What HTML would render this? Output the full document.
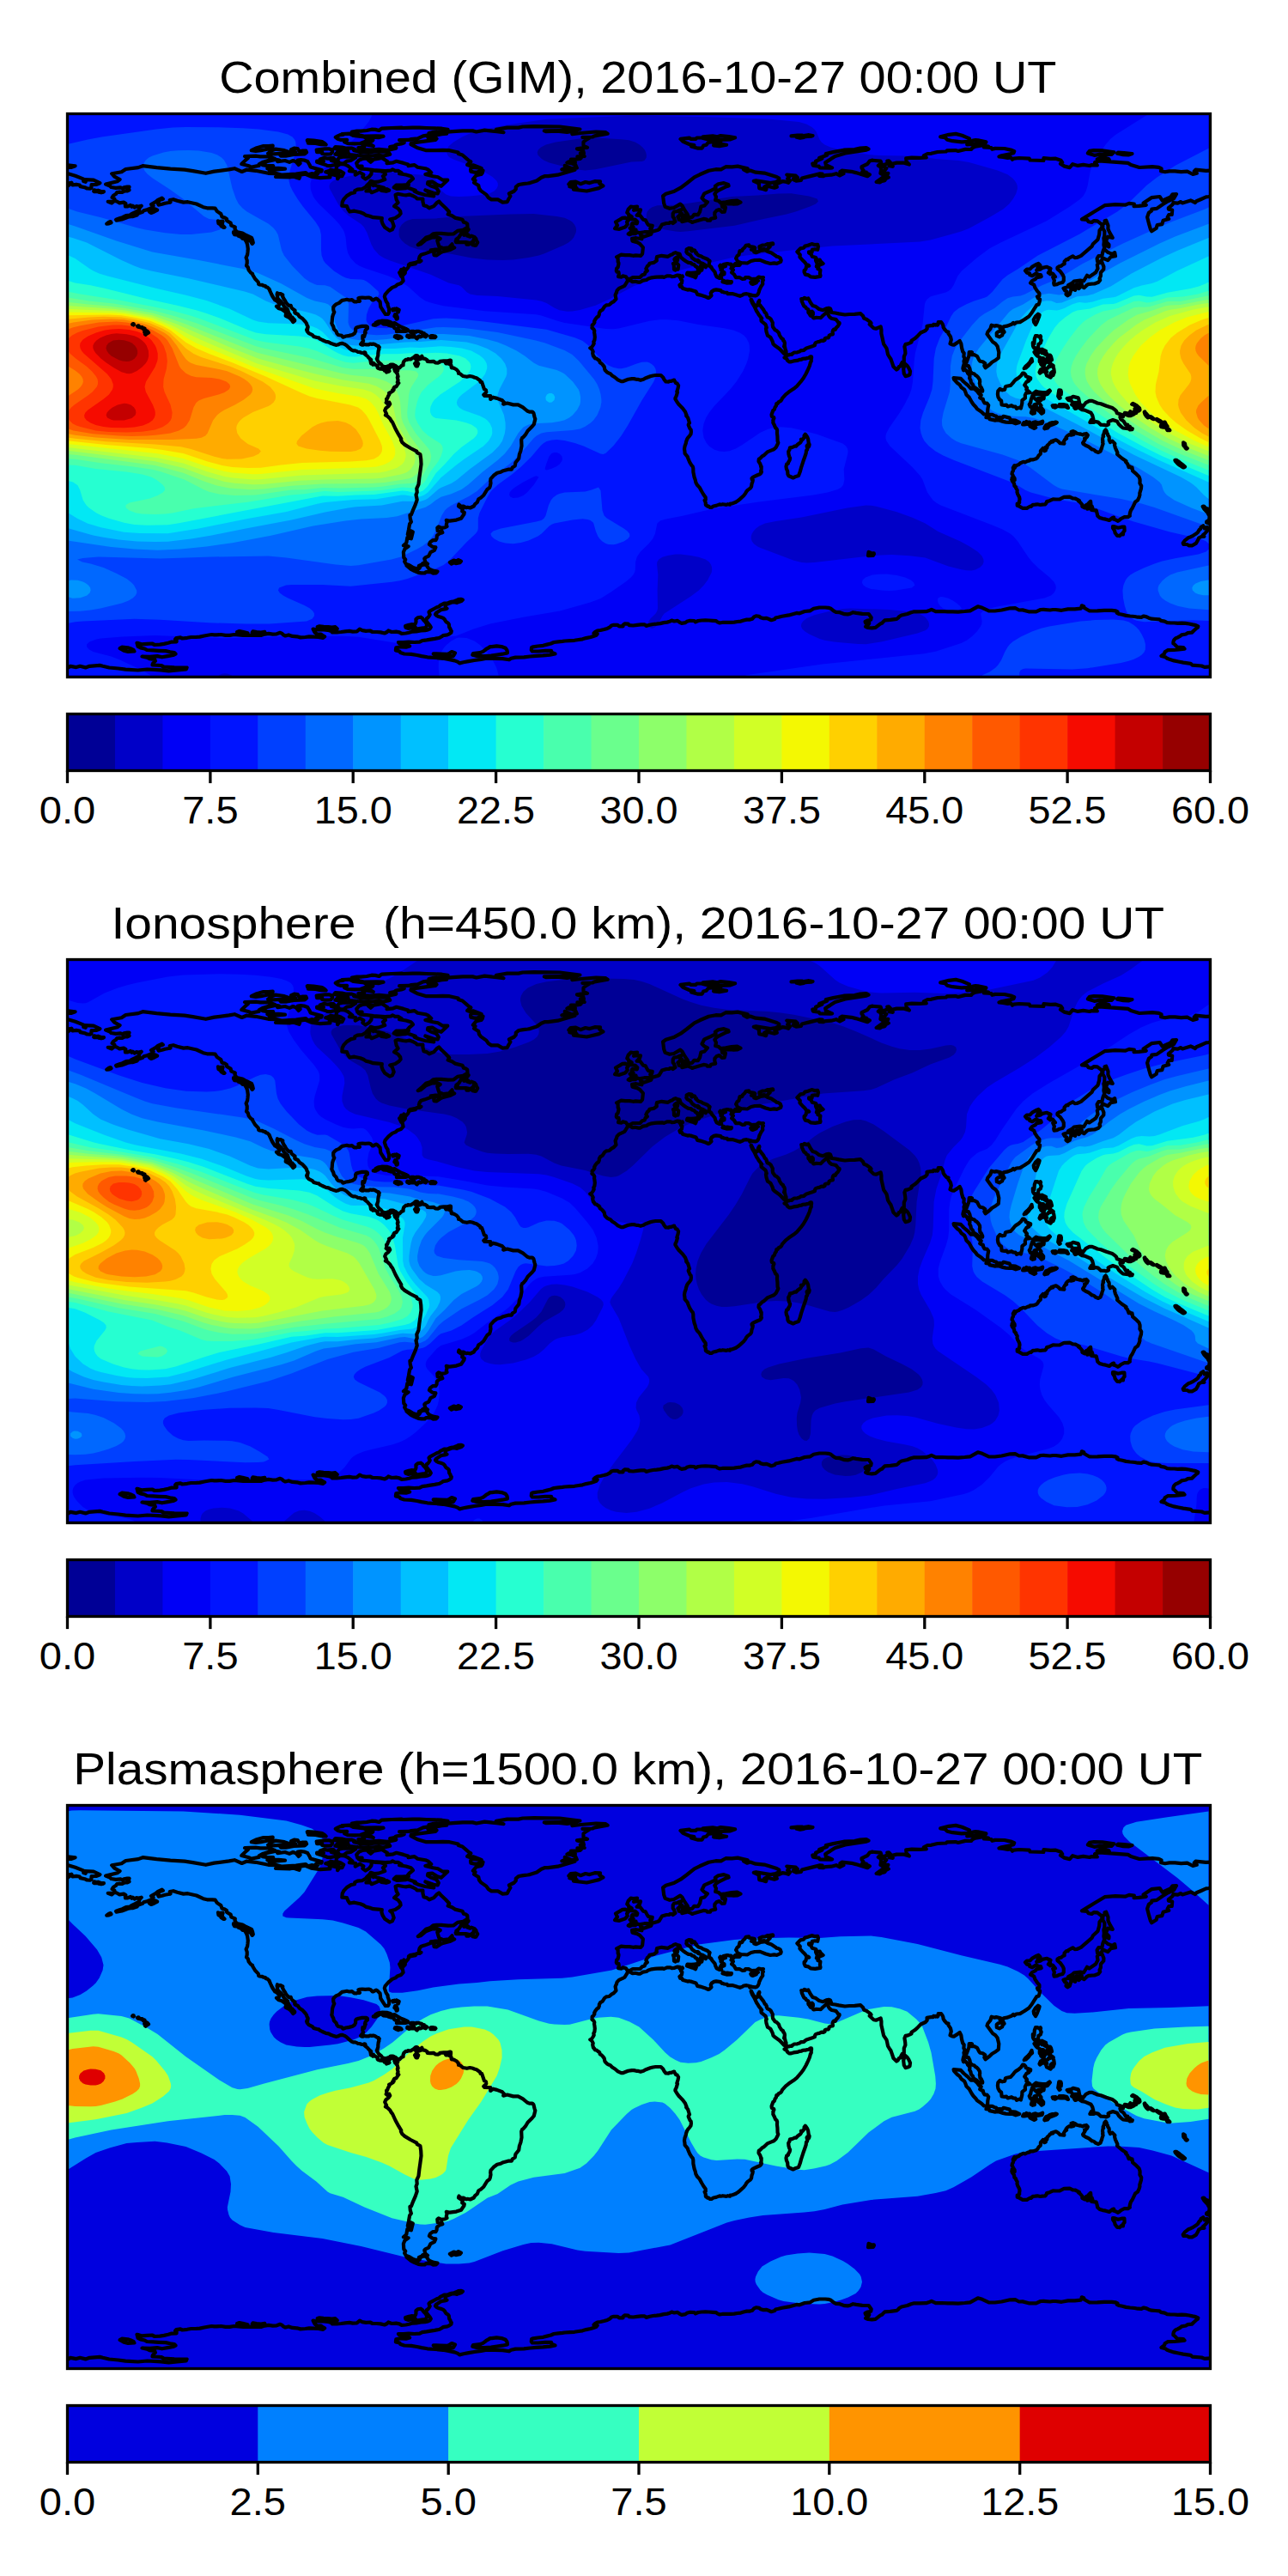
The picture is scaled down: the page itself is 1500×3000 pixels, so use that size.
<!DOCTYPE html><html><head><meta charset="utf-8"><title>GIM maps</title><style>html,body{margin:0;padding:0;background:#fff}svg{display:block}text{font-family:"Liberation Sans",sans-serif;fill:#000}</style></head><body>
<svg width="1500" height="3000" viewBox="0 0 1500 3000">
<rect width="1500" height="3000" fill="#fff"/>
<defs><clipPath id="ax"><rect x="78.5" y="132.5" width="1331.0" height="656.0"/></clipPath>
<path id="coast" d="M123.1,214.6 136.6,211.2 139.6,209.0 133.2,205.6 130.2,202.2 141.5,200.3 146.4,197.0 161.0,195.1 166.2,193.2 182.4,195.1 198.5,196.6 215.0,197.7 224.7,199.2 239.7,201.8 249.5,199.6 266.7,197.4 273.1,196.2 281.7,200.0 287.0,197.7 297.8,198.8 312.5,201.8 321.5,202.2 326.3,204.1 321.1,206.0 338.0,206.3 341.3,205.6 348.4,207.8 349.2,206.0 345.4,204.5 355.2,202.6 362.3,205.6 372.8,207.1 384.4,206.3 383.7,204.1 387.1,203.3 393.1,204.8 393.1,208.2 395.3,205.2 398.3,205.2 400.2,201.5 396.1,199.2 391.6,197.7 391.9,193.6 396.4,191.0 401.3,191.4 405.1,193.2 410.3,197.4 406.9,199.2 414.1,200.0 413.7,203.7 418.9,200.7 423.4,203.3 422.3,206.0 425.7,208.6 429.8,206.0 432.4,202.6 432.8,198.5 438.1,198.8 443.7,199.2 448.6,201.1 448.9,203.0 445.9,205.2 448.2,209.0 441.1,211.6 435.8,212.0 431.7,210.8 430.6,212.7 427.2,216.1 426.1,217.6 421.6,220.2 416.3,220.6 413.3,222.1 412.9,224.3 408.8,225.1 403.9,228.1 400.2,232.2 398.7,235.2 398.3,239.7 403.9,240.1 405.4,243.8 407.3,246.5 412.6,245.7 419.7,247.2 423.4,248.7 426.1,250.6 430.6,251.7 434.7,253.2 440.7,253.6 444.8,254.0 444.4,257.0 445.6,260.7 448.2,264.8 453.8,268.6 456.8,267.4 458.7,263.3 456.8,257.7 454.2,255.5 460.2,254.0 464.3,251.3 466.6,248.7 466.2,246.1 463.6,242.7 459.1,240.1 463.6,236.0 461.7,232.6 460.6,227.0 463.2,225.8 469.6,227.0 473.3,227.3 476.7,226.6 480.0,227.7 484.5,230.0 485.7,231.5 492.4,231.5 492.4,234.8 493.5,239.3 496.9,240.1 499.9,242.3 505.2,240.1 508.9,236.0 511.2,234.5 514.2,237.8 519.0,242.3 523.2,246.8 521.7,249.5 526.5,251.3 529.9,253.6 538.5,255.8 540.0,258.8 542.7,259.6 544.2,260.7 544.5,265.2 541.9,266.3 539.3,267.8 532.9,268.9 528.4,272.3 522.0,272.7 513.8,271.9 508.2,271.9 504.4,272.3 501.4,274.9 496.5,276.4 490.9,281.7 486.8,285.1 489.8,284.3 495.8,279.4 503.7,276.4 509.3,276.1 512.7,277.9 509.3,280.2 510.4,284.3 511.5,287.3 516.4,289.2 522.8,288.4 526.5,284.3 526.9,286.9 529.2,288.4 524.7,290.7 516.0,292.9 512.7,294.4 508.2,297.4 505.5,297.1 505.2,293.7 511.9,290.7 505.9,290.7 501.8,291.4 502.5,292.6 494.3,295.6 490.5,296.7 488.7,298.9 487.9,301.9 489.0,303.8 490.5,303.8 488.7,304.9 486.8,304.9 483.8,305.7 477.1,307.2 482.7,306.4 483.8,307.2 478.5,308.3 475.9,308.3 476.3,309.1 475.2,311.7 472.6,314.7 470.3,312.4 471.8,315.1 471.8,318.1 468.8,321.1 468.4,320.7 467.3,313.9 466.6,315.4 467.3,317.7 465.1,317.3 467.3,321.8 468.8,323.3 469.6,327.1 466.9,330.0 463.2,331.2 460.6,333.4 456.8,334.9 452.3,338.7 448.6,342.8 447.8,345.4 448.6,348.0 449.7,351.0 451.6,353.7 451.6,355.5 453.1,359.7 453.1,363.8 451.9,366.0 448.9,366.0 447.1,363.4 445.2,360.4 443.3,357.4 442.6,351.4 439.6,348.4 438.1,347.7 434.3,349.5 433.6,349.2 431.7,347.3 429.4,346.5 425.3,346.9 421.9,346.5 418.9,346.9 417.4,347.3 418.2,348.4 418.2,349.9 418.9,350.7 418.2,351.0 416.7,350.7 415.2,351.4 412.6,351.4 409.9,349.2 406.6,349.5 403.9,348.8 401.7,349.2 398.3,349.9 394.9,352.9 391.2,354.4 389.3,356.3 388.2,357.8 388.2,360.4 388.6,362.3 389.3,363.4 387.8,366.8 387.1,369.4 386.7,374.7 386.3,376.5 387.1,378.4 388.2,380.3 388.9,383.3 391.6,385.9 392.3,388.2 393.8,390.0 397.9,390.8 399.4,392.7 402.8,391.5 405.4,391.2 408.4,390.4 410.7,389.7 412.9,388.2 414.1,385.9 414.1,382.9 414.8,381.8 417.4,380.7 421.6,379.9 424.6,379.9 426.8,379.9 427.9,380.7 427.9,382.5 425.7,384.4 424.9,387.0 425.7,387.4 424.9,389.3 424.2,391.9 423.1,391.2 422.3,391.2 422.3,394.5 423.1,397.1 421.9,398.6 420.1,400.9 421.2,401.6 423.1,401.6 423.8,400.9 425.7,401.3 427.6,401.3 429.4,401.3 430.9,400.5 433.2,400.9 434.7,400.5 436.9,401.3 439.2,402.8 440.7,403.1 441.8,404.3 441.1,405.4 441.4,406.9 440.7,408.4 440.3,411.8 440.3,414.0 439.6,415.9 439.6,417.0 438.8,417.8 439.6,419.6 440.7,421.5 442.2,423.0 444.1,424.5 445.2,426.0 445.2,426.8 447.1,426.8 448.2,427.5 450.1,427.1 451.6,426.4 453.8,425.6 454.9,424.5 457.2,424.5 459.1,425.3 460.6,426.0 462.1,427.1 463.2,427.9 465.4,428.3 468.1,425.6 469.6,425.3 469.6,423.0 470.3,420.8 472.6,418.9 474.8,418.9 475.2,418.1 478.2,418.5 481.2,416.6 482.7,415.5 484.2,414.0 485.7,414.0 486.8,415.1 486.0,416.3 483.8,417.8 484.9,419.3 484.9,421.5 483.0,423.4 484.5,426.4 486.0,426.4 487.2,423.4 485.7,422.3 485.7,419.3 490.2,417.8 489.8,416.3 491.3,414.8 492.4,417.4 495.0,417.8 497.7,419.6 497.7,420.8 501.0,421.1 505.2,420.8 507.0,422.3 510.0,422.6 512.3,421.5 512.3,420.8 516.8,420.4 521.3,420.4 518.3,421.5 519.4,423.4 522.4,423.4 525.4,425.3 525.8,428.3 527.7,428.3 529.2,429.0 531.8,430.5 534.0,433.1 534.0,435.0 535.5,435.0 537.8,436.9 539.3,438.0 543.8,438.8 547.2,438.0 550.9,438.8 552.4,439.5 555.0,440.3 559.2,443.3 559.5,444.8 561.0,444.8 561.8,446.8 564.0,453.4 565.9,454.1 566.3,456.8 563.3,459.8 564.4,460.9 571.2,461.2 571.2,465.0 574.2,462.7 578.7,463.9 585.0,466.3 586.9,468.4 586.2,470.6 590.7,469.5 597.8,471.4 603.4,471.4 609.0,474.4 613.9,478.5 616.5,479.6 619.9,479.6 621.4,481.1 622.5,485.6 623.3,487.9 621.8,494.2 619.9,496.5 614.6,501.7 612.0,506.2 609.4,509.2 608.3,509.6 607.2,512.2 607.5,519.4 606.4,525.0 604.9,529.1 604.2,534.0 600.4,538.8 599.7,542.6 596.7,544.5 595.9,546.6 591.8,546.7 586.2,548.2 583.2,549.7 579.0,550.8 574.9,553.8 571.5,557.6 571.2,560.2 571.5,562.5 570.8,566.2 570.0,568.1 567.4,570.0 563.3,576.7 559.9,579.7 557.3,581.2 555.8,585.0 553.2,587.2 551.7,589.5 547.5,591.5 544.5,590.8 542.7,591.2 539.3,589.5 536.7,589.8 534.4,587.6 534.0,589.5 538.9,592.8 538.2,595.4 540.8,596.9 540.4,598.8 537.0,603.7 531.4,605.6 523.9,606.7 519.8,605.9 520.5,608.2 519.8,611.2 520.5,613.1 518.3,614.2 514.2,614.9 510.8,613.4 509.3,614.6 509.7,618.3 512.3,619.4 514.2,617.9 515.3,620.2 511.9,621.3 508.9,623.6 508.5,627.3 507.4,629.2 504.0,629.2 501.0,631.4 499.9,634.1 503.7,636.7 507.4,637.4 505.9,640.8 501.4,643.1 499.2,647.6 495.8,649.1 494.3,650.6 495.4,654.7 498.0,656.6 496.2,656.6 492.8,655.8 491.3,657.3 487.9,658.8 487.2,662.2 485.7,662.5 481.2,661.0 477.1,658.4 472.6,656.6 471.1,653.9 472.2,651.7 470.3,649.4 469.9,643.1 471.4,639.3 475.6,636.3 469.9,635.2 473.3,632.2 474.4,625.8 478.9,627.3 480.8,619.4 478.2,618.3 477.1,623.2 474.8,622.4 475.9,617.2 477.1,610.1 478.9,607.8 477.8,604.1 477.4,599.9 478.9,599.6 481.2,593.6 483.8,587.6 485.7,582.0 484.5,576.3 485.7,573.3 485.3,568.8 487.5,564.0 488.3,556.8 489.4,549.0 490.5,540.7 490.2,534.7 489.4,529.1 485.7,527.2 485.3,525.7 478.2,522.0 471.4,517.9 468.4,515.2 466.9,512.2 467.3,511.1 464.3,506.2 460.6,499.5 457.2,492.0 455.7,490.1 454.2,487.5 451.6,484.9 448.9,483.4 450.1,481.9 448.2,478.1 449.3,475.5 452.3,473.2 454.2,470.6 453.4,468.7 451.9,470.6 449.7,468.9 450.4,468.0 450.1,464.5 451.2,463.9 451.9,461.6 453.4,459.2 453.1,457.6 455.3,456.8 457.6,455.3 457.2,454.2 458.7,453.9 458.5,452.0 459.4,450.8 461.3,450.4 462.8,448.1 464.3,446.1 462.8,445.1 463.6,442.9 462.8,439.5 463.6,438.6 462.8,435.4 461.3,433.5 461.9,431.6 463.2,431.9 463.2,430.5 460.2,429.4 459.4,430.3 460.2,432.4 459.4,429.0 458.7,427.9 456.8,426.8 454.9,427.1 454.2,428.3 452.7,429.4 451.9,429.4 451.6,430.1 453.4,432.2 452.3,432.8 450.1,433.5 449.3,431.3 447.8,431.6 447.1,430.1 445.6,429.8 442.9,429.4 442.3,429.6 440.3,428.8 439.6,428.0 439.9,426.6 438.8,425.6 437.3,424.9 436.2,424.5 435.8,423.4 434.7,422.6 435.1,423.8 434.3,424.7 433.6,423.8 432.1,423.4 431.7,421.5 432.1,420.2 431.3,419.6 432.1,418.9 430.6,417.8 429.1,416.3 428.3,415.1 426.4,413.6 424.6,412.1 425.7,412.1 425.3,410.6 424.2,410.3 423.8,411.2 421.6,411.0 418.6,410.0 416.7,409.9 415.6,409.1 413.7,408.4 411.4,408.4 409.6,407.6 407.7,406.1 403.2,402.0 401.3,400.9 398.3,399.8 396.3,400.1 393.3,401.5 391.2,401.8 388.6,400.9 385.9,400.1 382.6,398.3 379.6,397.9 375.4,396.0 372.1,394.3 371.3,393.4 369.1,393.0 365.3,391.9 363.8,390.2 359.7,388.2 357.8,385.9 357.1,384.0 358.2,383.7 357.8,382.5 358.6,381.4 358.6,380.3 357.4,378.4 357.1,376.9 355.9,375.0 352.6,371.3 348.8,368.7 346.9,366.0 343.6,364.5 343.2,363.8 343.6,361.5 341.7,360.4 339.5,358.5 338.7,355.9 336.5,355.9 334.2,353.7 332.7,351.8 332.3,350.7 330.5,348.0 329.0,345.0 329.3,343.5 326.3,342.0 325.2,342.4 323.0,341.3 322.6,342.8 323.0,344.7 323.3,347.3 324.8,349.0 327.5,351.4 328.2,352.5 329.3,354.0 330.5,356.3 331.6,357.4 332.7,358.5 335.0,360.4 336.1,364.2 337.2,365.7 338.3,367.5 338.3,369.4 340.2,369.4 341.7,371.3 343.2,372.8 343.2,373.5 341.3,375.0 339.8,372.8 337.6,370.5 334.6,368.7 332.7,367.9 333.1,364.9 332.3,363.0 330.5,361.9 327.8,360.0 326.7,359.7 324.1,358.9 322.0,356.7 323.7,356.7 325.2,355.2 325.2,353.3 322.6,350.7 320.3,349.5 318.8,347.3 317.3,345.0 315.8,342.0 314.3,338.7 313.6,336.8 311.3,334.5 309.5,334.2 309.1,333.0 306.8,332.7 305.7,331.9 302.0,331.5 301.2,330.8 300.8,328.6 297.1,324.8 294.1,319.7 294.1,318.8 292.2,317.7 289.6,314.5 288.8,311.3 287.0,309.4 287.7,306.4 287.7,303.1 286.6,300.1 288.1,296.7 288.5,293.3 288.8,289.9 288.1,284.7 287.0,281.7 285.8,279.8 286.2,279.1 291.8,280.6 293.7,283.9 294.8,282.8 294.1,279.8 293.0,276.8 285.1,273.1 282.5,271.6 275.7,270.1 273.5,266.7 273.8,264.4 269.3,262.6 268.6,259.6 264.1,257.0 264.1,255.1 261.8,253.6 258.5,252.5 257.3,249.1 252.8,246.1 250.6,242.7 247.2,242.3 241.2,242.3 236.7,241.2 228.8,237.5 218.7,235.2 213.6,235.6 206.4,233.7 201.9,232.2 197.7,233.0 198.5,235.6 196.2,236.0 192.1,236.7 188.7,237.8 184.6,238.6 183.9,236.7 185.7,233.0 189.9,231.8 188.7,230.7 183.9,233.0 181.2,235.2 176.0,238.0 178.6,239.7 175.2,242.7 171.1,244.2 167.4,245.3 166.2,246.8 160.6,248.7 159.5,250.6 155.0,252.1 152.4,252.1 149.0,252.8 145.2,254.3 141.9,255.5 135.5,256.6 135.1,255.8 139.2,254.3 142.6,253.2 146.7,251.0 151.2,250.6 153.1,249.1 158.4,246.8 159.1,246.1 162.1,244.6 162.5,242.0 164.7,239.7 160.2,240.8 159.1,240.1 156.9,241.6 154.6,239.7 153.5,240.8 152.0,239.0 148.2,240.5 146.0,240.5 145.8,238.2 146.4,237.1 144.1,235.6 139.2,236.3 135.9,234.5 133.4,233.7 133.4,231.5 130.6,230.0 132.1,227.7 135.1,225.8 136.2,224.0 139.4,223.6 141.9,224.0 144.9,222.5 147.9,222.5 150.5,221.3 149.9,219.8 147.9,219.1 150.5,217.6 148.2,217.6 144.3,218.3 143.1,219.5 140.4,218.3 134.9,218.9 129.5,218.0 128.0,216.5 123.1,214.6ZM521.3,209.7 513.8,216.8 509.3,215.3 503.3,211.6 498.4,212.0 498.0,214.2 501.8,216.5 507.0,218.3 508.5,219.1 510.8,222.8 509.7,225.5 504.8,224.7 495.4,221.5 500.7,224.7 504.8,227.0 505.2,228.5 495.0,227.0 487.2,224.7 482.7,222.8 483.8,221.7 478.2,219.8 472.9,218.0 472.9,219.1 462.1,219.8 458.7,218.3 461.3,215.7 468.4,215.7 475.9,215.2 474.8,213.8 476.3,212.0 481.0,208.2 480.0,206.7 478.5,205.2 472.9,203.5 465.1,202.2 467.7,201.3 463.6,198.8 460.2,198.8 457.2,197.4 455.3,198.5 448.6,199.2 435.1,198.2 426.8,197.0 420.8,196.6 417.8,195.1 421.6,193.6 416.3,193.6 415.2,189.9 418.2,186.5 421.9,185.0 431.7,183.9 428.7,186.1 431.7,188.7 435.2,185.7 444.8,184.0 451.2,188.0 450.6,190.2 457.9,189.3 461.7,187.8 469.9,189.9 475.2,191.4 475.6,193.2 482.7,192.1 486.4,194.7 495.4,196.2 498.8,197.7 502.2,201.1 495.4,203.0 504.4,205.2 510.0,206.3 515.7,209.7 521.3,209.7ZM496.5,175.2 485.7,171.9 478.5,168.1 478.9,166.6 507.0,162.9 508.5,161.4 498.4,160.2 501.4,158.7 514.5,156.1 520.2,155.7 518.3,153.9 527.3,153.1 538.9,152.4 550.5,152.4 554.7,153.5 564.4,151.6 573.4,152.7 578.7,153.1 586.5,154.2 577.5,152.4 577.9,150.9 590.7,148.6 603.8,148.6 608.7,147.5 621.8,147.1 651.8,147.5 675.4,150.5 668.3,152.0 654.0,152.0 633.8,152.4 635.6,153.1 648.8,152.7 660.4,153.9 667.5,152.7 670.5,154.2 666.4,156.1 676.1,155.0 694.1,153.5 705.4,154.2 707.6,155.7 692.3,158.4 690.0,159.5 678.4,159.9 687.0,160.2 682.5,162.9 679.5,165.3 679.5,169.6 684.0,171.9 678.4,172.2 672.0,173.4 679.1,175.2 679.9,178.6 675.8,178.6 680.6,182.0 672.4,182.4 676.9,183.9 675.4,185.0 670.1,185.7 664.9,185.7 669.8,188.4 669.8,189.9 662.3,188.4 660.4,189.5 665.6,190.2 670.5,192.5 671.8,195.5 665.3,196.2 662.3,194.7 657.8,192.9 658.9,195.3 654.4,197.4 664.5,197.4 669.6,197.7 659.6,200.7 649.5,203.7 638.3,205.2 634.1,205.2 630.4,206.7 625.1,210.5 617.1,213.1 614.6,213.5 609.4,214.2 604.2,215.0 600.8,217.6 600.8,220.2 598.9,222.5 592.9,225.5 594.4,228.5 592.5,231.5 590.7,235.2 585.4,235.6 579.8,232.4 572.3,232.4 568.9,230.3 566.3,226.6 559.9,222.1 558.0,219.5 557.3,216.1 552.0,212.7 553.5,210.1 550.9,208.6 554.7,204.1 560.3,203.0 561.8,201.3 562.5,198.5 558.4,199.6 556.2,200.3 552.8,200.7 548.3,199.6 548.1,197.0 549.4,195.1 553.2,195.1 560.7,195.9 554.3,193.6 550.9,192.3 547.2,192.9 544.2,191.9 548.3,188.4 546.0,187.0 543.0,184.4 538.5,180.5 533.7,179.0 533.7,177.5 523.5,175.2 515.7,174.9 505.5,175.2 496.5,175.2ZM699.0,211.4 698.3,213.8 702.4,216.5 697.5,219.1 686.6,221.7 683.3,222.5 667.9,220.7 671.6,219.1 663.4,217.2 670.1,216.5 670.1,215.3 662.3,214.6 664.7,212.0 670.5,211.6 676.1,214.2 681.8,212.0 686.6,213.1 692.6,211.2 699.0,211.4ZM460.2,366.0 461.3,366.0 462.8,369.4 462.8,371.3 461.7,371.7 460.9,369.4 459.4,368.3 460.2,366.0ZM412.9,167.4 405.1,167.0 401.1,165.3 401.3,164.0 404.1,162.9 397.2,162.9 393.1,161.7 390.8,159.9 393.4,158.4 396.1,157.2 399.8,156.9 398.3,156.1 406.9,155.7 411.8,158.0 418.0,158.7 424.2,159.5 427.2,161.7 431.7,163.2 426.4,164.4 419.7,167.0 412.9,167.4ZM281.3,191.0 282.8,189.5 285.5,186.9 288.8,184.2 285.1,182.0 297.8,181.6 303.1,182.4 312.5,182.4 316.2,183.5 320.3,185.0 315.5,186.1 306.5,188.7 301.6,191.4 301.6,192.9 291.8,194.7 290.0,193.2 281.3,191.0ZM387.1,174.5 387.1,176.7 385.2,179.4 379.2,179.7 375.1,179.0 375.2,177.1 369.1,177.1 368.7,174.5 378.4,173.4 383.7,173.4 387.1,174.5ZM400.2,180.9 394.9,180.5 390.4,179.7 392.3,177.9 397.8,176.9 401.0,178.2 402.4,179.4 400.2,180.9ZM444.8,373.5 451.2,373.9 454.6,375.0 456.1,376.5 459.8,376.2 464.3,379.2 467.7,381.0 469.9,381.8 472.6,382.9 475.2,384.4 474.8,385.3 472.2,385.9 469.9,385.9 467.3,385.7 461.9,386.1 464.3,384.0 462.8,382.9 460.6,382.9 459.1,381.8 458.3,379.5 456.1,379.7 452.7,378.8 451.6,378.0 446.7,377.3 445.2,376.5 446.7,375.8 442.9,375.4 440.3,377.3 438.8,377.5 438.2,378.4 436.6,378.8 434.8,378.4 436.9,377.3 437.7,375.8 439.2,375.0 441.1,374.3 444.1,373.9 444.8,373.5ZM454.2,179.7 451.6,180.5 446.1,181.6 441.4,180.9 430.6,181.6 422.9,181.6 416.7,181.2 406.9,180.1 405.4,177.9 405.1,176.0 401.3,174.5 393.4,174.1 389.3,172.8 390.6,171.1 398.3,171.5 402.4,172.6 409.9,172.6 413.3,173.9 412.2,175.2 416.7,176.2 418.9,177.1 424.2,177.1 429.4,177.5 435.4,176.7 443.1,176.4 449.3,176.7 453.1,178.2 454.2,179.7ZM521.5,150.9 521.3,151.6 512.3,153.5 503.1,154.2 499.5,155.0 507.8,155.0 499.2,157.2 492.8,158.4 486.4,161.4 478.9,162.1 476.3,162.9 465.1,163.2 470.3,163.6 467.7,164.4 470.7,166.2 467.3,167.4 461.3,168.5 459.4,170.0 454.2,171.1 454.9,171.9 461.3,171.9 461.3,172.6 451.2,174.9 441.4,173.9 430.6,174.5 424.9,174.1 417.8,173.7 417.4,172.0 424.2,171.1 422.3,168.5 424.7,168.1 434.8,170.0 429.8,167.4 423.6,166.6 426.6,165.3 433.2,164.4 434.3,163.1 429.1,161.7 427.6,159.7 437.7,159.9 440.7,160.2 446.5,158.7 438.1,158.4 424.9,158.7 418.2,157.2 415.2,155.7 410.7,154.8 409.9,153.5 415.6,152.7 420.1,152.7 427.2,152.0 432.8,150.7 437.3,150.9 441.4,152.0 444.4,149.7 449.3,149.4 456.1,149.0 467.5,148.6 469.6,149.0 480.4,148.6 488.3,148.6 496.5,149.0 506.7,149.4 514.5,149.7 521.5,150.9ZM523.9,654.9 528.4,652.6 531.6,653.6 533.9,652.1 536.9,653.7 535.7,655.1 530.7,656.2 529.0,654.9 525.8,656.6 523.9,654.9ZM461.7,359.3 464.7,360.8 463.9,363.4 463.2,363.0 463.6,361.2 461.7,360.8 457.6,361.5 457.2,360.0 459.1,359.7 461.5,360.0 461.7,359.3ZM254.0,257.3 255.8,258.1 259.6,257.7 258.5,261.8 261.5,264.8 260.0,264.8 257.7,263.3 256.6,261.5 254.5,260.3 254.0,257.3ZM170.4,388.9 169.6,389.7 168.9,389.1 168.9,388.2 168.2,386.7 169.0,385.6 168.9,384.8 169.0,384.5 171.5,385.6 173.0,387.4 170.4,388.9ZM478.9,385.9 481.2,385.9 484.5,386.7 484.9,385.9 487.9,385.9 490.2,387.0 491.1,386.8 491.7,388.2 493.9,388.2 493.7,389.3 495.4,389.4 497.3,390.8 495.8,392.3 493.9,391.5 491.1,391.5 490.5,392.1 489.0,392.3 488.3,391.5 487.2,391.9 485.7,394.5 484.5,393.8 484.5,392.9 481.9,392.3 478.0,392.3 476.3,392.9 474.2,391.9 474.4,390.6 478.0,391.2 480.8,391.5 482.3,390.4 480.4,388.9 480.4,387.4 478.2,387.0 478.9,385.9ZM462.4,391.2 465.1,391.5 466.9,392.3 467.7,393.4 465.1,393.4 463.9,394.2 461.7,393.4 459.8,392.3 460.2,391.3 461.7,391.2 462.4,391.2ZM154.2,377.8 154.4,377.5 155.0,377.1 155.7,377.3 155.9,378.1 155.5,378.5 154.2,377.8ZM394.9,201.5 392.3,202.6 387.4,201.5 384.4,201.8 379.2,200.3 382.6,199.2 385.2,197.7 388.9,198.5 391.2,199.2 392.3,200.0 394.9,201.5ZM179.0,243.2 181.2,243.5 183.1,244.6 179.7,246.5 176.0,248.0 174.1,246.8 173.4,245.0 176.7,243.8 179.0,243.2ZM167.5,382.2 168.5,382.7 168.2,383.1 167.0,383.4 166.2,382.5 165.9,382.2 165.9,381.8 167.5,382.2ZM312.1,178.6 317.3,174.9 320.7,173.7 331.2,175.2 338.0,177.5 344.3,177.5 339.1,174.1 342.5,172.6 346.6,173.0 347.7,174.9 349.2,176.4 352.6,175.6 356.3,175.7 357.1,177.5 354.8,179.4 342.1,179.9 332.7,181.6 327.1,181.6 326.3,180.5 334.2,178.6 317.3,179.4 312.1,178.6ZM163.8,381.0 165.6,381.1 165.5,381.5 163.6,381.4 163.8,381.0ZM544.9,268.2 543.0,270.4 540.4,273.8 543.0,272.5 545.3,273.4 544.2,274.6 547.5,275.7 549.0,274.6 552.8,276.1 551.7,278.7 554.3,277.9 554.7,279.8 556.2,282.4 554.3,285.6 552.8,285.8 550.2,285.1 551.1,282.1 550.2,281.5 545.7,284.7 543.4,284.7 546.0,282.8 542.5,282.1 538.5,282.1 531.0,282.1 530.7,280.9 532.9,279.6 531.4,278.7 534.4,276.4 538.2,270.4 540.8,268.2 543.8,267.1 545.7,267.1 544.9,268.2ZM132.5,234.5 128.0,234.8 125.7,234.8 130.2,236.5 132.5,234.5ZM160.0,379.8 161.4,379.3 162.3,380.6 162.1,380.8 160.6,380.7 160.0,379.8ZM299.0,172.2 306.8,170.0 312.5,170.0 317.7,169.6 317.3,172.2 314.3,173.7 311.0,173.7 303.8,175.2 297.8,176.0 292.8,175.2 299.0,172.2ZM504.8,391.2 506.7,391.5 507.4,392.3 506.5,393.1 503.7,393.1 501.4,393.2 501.3,391.5 501.8,391.2 504.8,391.2ZM391.6,188.4 390.8,191.7 384.4,193.2 381.1,192.9 378.4,191.7 369.1,188.7 369.1,187.6 376.9,188.0 372.8,185.4 376.9,183.9 381.4,184.6 388.2,183.9 389.3,185.0 385.8,186.9 391.6,188.4ZM365.3,163.6 375.4,165.1 378.1,167.0 379.6,168.5 373.6,168.1 367.4,167.0 358.9,166.6 362.7,165.5 358.2,164.7 357.8,163.2 365.3,163.6ZM414.1,183.5 408.4,187.0 403.9,187.6 399.8,190.6 395.7,190.2 393.4,187.2 393.4,185.4 395.3,183.5 399.1,182.7 406.9,182.7 414.1,183.5ZM433.9,214.2 434.8,216.1 436.6,215.3 438.8,216.5 442.9,217.6 447.4,218.7 447.6,220.7 450.4,220.2 453.1,221.7 449.7,222.8 444.1,221.9 441.8,220.2 438.1,222.1 432.8,224.2 431.3,222.1 426.4,222.5 429.6,220.6 430.2,217.6 431.3,214.2 433.9,214.2ZM109.6,221.3 111.9,222.1 114.1,221.7 117.1,222.8 120.9,223.2 120.5,223.6 117.9,224.3 114.9,223.6 113.4,222.8 110.2,223.2 109.2,222.8 109.6,221.3ZM496.2,657.7 497.5,659.5 499.4,662.4 504.2,664.6 509.5,665.5 507.8,667.4 504.2,667.6 502.3,666.3 500.1,666.2 496.1,666.2 494.7,667.4 490.9,667.4 487.2,666.9 482.4,664.8 478.6,662.8 473.5,658.6 476.5,659.4 481.8,661.8 486.8,663.2 488.7,661.4 489.9,658.9 493.4,657.3 496.2,657.7ZM522.0,420.0 524.3,419.6 525.0,419.8 525.0,422.6 521.7,423.0 521.1,422.6 522.2,421.5 522.0,420.0ZM128.7,258.1 129.5,259.2 126.9,260.3 124.2,260.7 127.2,258.5 128.7,258.1ZM272.0,270.1 281.7,271.9 285.1,274.9 288.8,276.4 290.3,278.7 288.5,279.1 282.1,277.6 281.0,276.1 277.8,274.9 277.2,273.8 273.1,273.1 272.0,271.2 272.0,270.1ZM358.6,203.3 356.1,201.1 351.8,201.5 344.7,202.6 328.6,203.7 318.1,201.1 313.6,198.1 332.0,196.6 324.5,195.9 311.3,196.2 318.1,193.2 312.1,193.2 305.7,192.1 308.7,189.5 311.3,188.0 321.5,185.7 325.2,186.5 323.3,188.2 332.0,187.0 337.0,188.9 341.3,187.0 344.7,188.4 347.7,191.9 349.6,190.2 346.9,186.5 350.3,186.1 354.1,186.5 358.2,188.0 360.4,191.7 361.6,194.4 367.9,196.2 374.7,198.1 374.3,199.6 368.3,200.0 370.6,201.5 369.4,202.8 362.7,202.2 358.6,203.3ZM78.5,202.0 87.7,204.8 97.5,208.6 97.2,210.9 99.7,211.8 98.9,209.1 109.0,209.7 116.4,213.2 112.6,214.8 106.5,215.2 106.4,218.9 104.9,219.7 101.4,219.5 98.6,218.2 93.6,217.1 92.7,215.5 89.0,214.9 84.6,215.4 82.6,214.1 83.4,212.7 78.9,213.6 80.6,215.3 78.5,216.9M733.1,325.2 730.1,324.1 729.0,322.2 725.3,321.4 723.8,322.6 720.0,322.2 720.8,319.2 720.4,316.9 718.5,316.6 717.8,315.4 718.1,312.8 719.6,311.3 720.4,307.6 720.4,306.1 719.7,304.9 719.6,300.8 718.1,299.3 723.4,296.7 728.1,297.1 733.1,297.1 737.3,297.8 740.3,297.4 746.2,297.8 748.1,295.6 748.9,288.1 745.1,283.9 742.1,282.1 736.5,280.6 736.1,277.9 741.0,277.2 747.4,278.3 746.2,273.8 749.6,275.7 758.2,272.7 759.4,269.7 765.7,268.0 767.6,267.1 771.0,261.5 776.2,260.0 779.2,260.0 780.0,259.2 783.0,259.2 783.7,260.0 786.4,258.1 785.6,256.6 785.2,254.3 783.7,252.5 783.7,248.7 784.5,247.6 785.2,246.5 788.6,246.1 790.1,245.3 793.1,244.2 792.7,246.1 791.8,247.2 792.4,248.3 794.2,248.7 793.5,250.2 792.4,249.8 789.4,252.5 790.5,254.3 790.5,255.8 794.4,256.6 794.2,258.1 798.2,257.3 800.2,256.2 804.4,257.7 806.2,259.0 808.9,257.9 814.9,256.2 819.4,254.9 823.1,255.5 823.5,256.6 827.1,256.6 828.0,254.7 833.2,253.6 832.3,250.5 832.4,247.6 834.4,245.3 837.7,244.0 840.7,246.8 843.7,246.7 844.5,243.8 844.9,241.6 843.6,242.1 841.1,240.8 840.7,238.6 845.6,237.5 850.5,237.1 854.4,237.6 858.3,237.5 862.5,235.6 858.6,233.7 851.8,234.1 845.2,235.4 839.2,236.1 837.0,234.1 833.2,233.0 834.0,229.2 832.3,225.8 834.0,223.6 837.4,221.3 846.0,217.2 848.6,216.5 848.2,215.0 843.0,213.1 836.6,214.2 832.9,216.7 833.6,219.1 827.6,222.1 820.3,225.3 817.5,230.7 820.1,233.3 823.9,235.3 820.4,239.5 816.4,240.5 815.0,246.7 812.9,250.2 808.4,249.8 806.2,252.8 801.9,253.0 800.6,249.5 797.6,245.3 794.7,239.9 792.2,237.6 784.8,242.0 779.8,242.8 774.6,240.9 773.2,236.9 772.1,228.2 775.5,225.8 785.4,222.7 792.7,218.7 799.7,213.5 808.7,206.3 814.9,203.3 825.4,198.8 833.6,197.2 839.6,197.4 845.2,194.2 852.4,194.4 859.1,193.6 870.7,196.4 865.9,197.4 870.0,199.7 873.7,198.5 880.1,200.7 890.2,201.6 904.5,206.0 907.3,207.6 907.5,210.1 903.3,212.0 897.3,213.1 880.5,210.2 877.8,210.8 883.8,213.5 884.2,219.1 889.1,220.2 892.1,221.2 892.5,219.5 890.2,217.7 892.8,216.5 901.8,218.7 904.8,217.7 902.4,215.0 911.2,211.2 914.6,211.6 918.2,212.8 920.2,210.2 917.2,208.0 919.1,205.8 916.3,203.5 926.8,204.7 928.8,206.7 924.2,207.2 924.2,209.3 927.2,210.6 933.0,209.8 933.9,207.5 941.6,205.6 954.7,202.4 957.7,202.6 954.0,204.8 958.5,205.2 961.1,204.1 968.2,203.7 973.8,202.2 978.0,204.5 982.4,202.2 978.4,200.0 980.4,198.7 991.5,199.8 996.7,201.1 1010.2,205.2 1012.8,203.3 1008.9,201.3 1008.9,200.5 1004.2,200.2 1005.6,198.5 1003.5,195.5 1003.5,194.2 1010.2,191.0 1012.8,187.5 1015.4,186.7 1025.6,187.6 1026.3,189.9 1022.8,192.9 1025.1,194.0 1026.3,196.6 1025.4,201.8 1029.6,204.1 1028.0,206.6 1020.7,212.0 1024.8,212.3 1026.3,211.2 1030.4,210.1 1031.6,208.2 1034.8,206.5 1032.6,204.5 1034.3,201.8 1030.2,201.6 1029.3,199.6 1032.3,195.9 1027.4,192.7 1034.2,190.2 1033.3,187.6 1035.2,187.4 1037.1,189.5 1035.7,193.2 1039.8,193.8 1037.9,191.1 1044.3,189.6 1052.0,189.5 1058.9,191.5 1055.6,188.4 1055.2,184.4 1061.8,183.7 1070.8,183.9 1078.8,183.5 1075.8,181.4 1080.2,179.0 1084.4,178.8 1091.8,177.0 1101.7,176.5 1102.8,175.4 1112.8,175.1 1115.9,176.0 1124.2,173.9 1131.2,174.0 1132.2,172.4 1135.8,170.7 1144.6,169.2 1151.1,170.5 1145.9,171.5 1154.4,172.0 1155.4,173.8 1158.9,172.9 1169.8,173.0 1178.2,174.9 1181.2,176.2 1180.4,178.2 1176.3,179.2 1166.4,181.2 1163.5,182.4 1168.2,183.0 1173.7,183.9 1177.1,183.2 1179.0,185.7 1180.7,184.6 1186.7,184.0 1198.7,184.6 1199.6,186.5 1215.3,187.0 1215.5,184.2 1223.5,184.8 1229.5,184.7 1235.5,186.7 1237.2,189.1 1235.0,190.7 1239.7,193.6 1245.7,195.1 1249.2,191.2 1255.3,192.9 1261.6,191.9 1268.9,193.0 1271.5,192.1 1277.8,192.5 1275.1,189.1 1280.0,187.4 1313.9,189.9 1317.1,192.1 1326.9,195.0 1342.0,194.2 1349.5,194.8 1352.6,196.4 1352.1,199.2 1356.8,200.2 1361.8,199.4 1368.4,199.3 1375.5,200.1 1382.7,199.7 1389.2,203.0 1393.8,201.8 1390.8,199.4 1392.4,197.7 1404.4,198.8 1412.1,198.5 1423.0,200.3 1428.2,202.0M1428.2,216.9 1423.4,218.6 1418.5,218.3 1421.9,220.3 1424.1,223.4 1425.9,224.4 1426.3,226.0 1425.4,227.0 1418.3,226.1 1407.9,229.0 1404.6,229.4 1398.8,232.0 1393.4,234.3 1392.0,236.0 1386.6,233.4 1376.9,236.4 1375.2,235.0 1371.6,236.6 1366.5,236.1 1365.3,238.5 1360.8,242.2 1360.9,243.7 1365.2,244.5 1364.7,250.0 1361.2,250.1 1359.6,253.2 1361.2,254.9 1354.6,256.8 1353.3,261.1 1347.7,262.0 1346.6,265.8 1341.2,269.3 1339.8,266.7 1338.2,261.2 1336.1,252.9 1337.9,247.7 1341.1,245.5 1341.3,243.7 1347.1,242.9 1353.8,238.2 1360.3,234.3 1367.0,231.3 1370.0,226.0 1365.5,226.3 1363.2,229.4 1353.7,233.6 1350.6,229.0 1341.0,230.2 1331.6,236.5 1334.7,238.8 1326.3,239.8 1320.5,240.2 1320.8,237.5 1314.9,236.9 1310.3,238.7 1298.9,238.1 1286.5,239.2 1274.4,246.5 1260.0,255.3 1265.9,255.8 1267.7,258.2 1271.4,259.0 1273.8,257.1 1277.9,257.4 1283.3,261.5 1283.4,264.7 1280.5,268.4 1280.2,272.9 1278.5,278.9 1272.8,284.3 1271.6,286.9 1266.5,291.3 1261.5,295.6 1259.0,297.8 1254.1,300.0 1251.7,300.1 1249.3,298.3 1244.3,301.0 1243.7,302.2 1242.3,302.0 1240.7,303.3 1239.5,304.6 1239.7,307.3 1237.7,308.1 1235.6,309.8 1233.2,310.4 1231.5,311.5 1231.4,313.1 1232.5,314.1 1234.6,315.8 1237.8,320.2 1238.8,322.6 1238.8,326.9 1237.4,329.0 1234.0,329.7 1231.0,331.2 1227.6,331.6 1227.2,329.6 1227.9,326.8 1226.2,322.8 1229.0,322.2 1226.4,319.0 1224.6,318.3 1223.1,319.3 1222.0,318.2 1220.9,317.6 1222.0,316.0 1222.9,315.5 1222.5,314.9 1223.5,312.8 1221.1,311.8 1219.3,310.8 1214.0,311.9 1211.3,313.7 1207.2,314.7 1209.3,313.0 1208.5,311.5 1211.4,309.0 1209.4,307.0 1206.2,308.3 1201.9,310.9 1199.6,313.4 1195.9,313.6 1194.0,315.3 1196.0,317.8 1199.1,318.4 1199.2,320.1 1202.2,321.2 1206.4,318.5 1209.7,320.0 1212.1,320.1 1212.7,322.1 1207.4,323.1 1205.7,325.1 1202.0,327.0 1200.1,329.6 1204.2,331.7 1205.6,335.4 1207.9,338.8 1210.4,341.7 1210.4,344.5 1208.0,345.5 1208.9,347.5 1211.1,348.7 1210.6,351.7 1209.6,354.7 1207.5,355.0 1204.8,359.1 1201.8,364.0 1198.3,368.5 1193.1,372.0 1187.9,375.1 1183.6,375.5 1181.4,377.2 1180.1,376.0 1177.9,377.8 1172.7,379.7 1168.8,380.3 1167.4,384.3 1165.4,384.5 1164.4,381.7 1165.3,380.3 1160.2,379.1 1158.5,379.7 1154.7,378.7 1153.4,382.9 1150.4,386.5 1149.5,389.1 1152.4,393.0 1155.9,397.9 1159.3,400.2 1161.6,403.2 1163.3,410.2 1162.8,416.8 1159.7,419.2 1155.4,421.7 1152.3,424.8 1147.6,428.3 1146.3,425.9 1147.3,423.3 1144.5,421.2 1141.4,420.7 1139.9,418.7 1138.0,414.8 1134.6,413.1 1131.4,413.2 1132.0,410.2 1128.7,410.2 1128.4,414.4 1126.4,419.8 1125.1,423.2 1125.4,425.9 1127.8,426.0 1129.4,429.4 1130.0,432.6 1132.1,434.8 1134.4,435.2 1136.3,437.2 1137.2,437.5 1139.4,439.8 1141.0,442.3 1141.2,444.8 1140.8,446.5 1141.2,447.8 1141.4,450.0 1142.7,451.1 1144.2,454.4 1144.2,455.7 1141.5,455.9 1137.9,453.1 1133.5,450.2 1133.1,448.2 1130.9,445.7 1130.4,442.6 1129.1,440.6 1129.5,437.9 1128.6,436.3 1127.1,434.8 1126.5,433.0 1124.5,430.8 1122.7,429.1 1122.1,431.3 1121.4,429.2 1121.8,426.9 1122.9,423.3 1122.5,420.5 1123.7,417.6 1122.4,415.4 1122.7,411.3 1121.2,409.4 1120.0,404.9 1119.3,400.1 1117.7,397.0 1115.2,398.9 1110.9,401.6 1108.8,401.3 1106.5,400.4 1107.8,395.7 1107.0,392.2 1104.1,387.9 1104.5,386.5 1102.4,386.1 1099.7,383.0 1098.6,381.1 1098.4,379.2 1097.7,377.4 1096.1,375.1 1092.7,375.0 1093.0,376.6 1091.8,378.6 1090.2,377.9 1089.7,378.6 1088.6,378.1 1087.2,377.8 1086.6,379.2 1084.1,379.2 1079.5,379.9 1079.7,382.8 1077.7,385.0 1072.3,387.5 1068.1,391.9 1065.3,394.3 1061.5,396.7 1061.5,398.4 1059.7,399.4 1056.3,400.7 1054.5,400.9 1053.4,403.7 1054.2,408.6 1054.4,411.7 1052.8,415.3 1052.8,421.7 1050.8,421.9 1049.2,424.7 1050.3,425.9 1046.9,427.0 1045.6,429.6 1044.1,430.6 1040.5,427.1 1038.8,421.9 1037.4,418.1 1036.1,416.3 1034.0,412.7 1033.1,408.1 1032.5,405.7 1029.1,400.6 1027.5,393.3 1026.4,388.5 1026.4,384.0 1025.7,380.4 1020.2,382.7 1017.6,382.2 1012.7,377.7 1014.5,376.3 1013.4,374.9 1009.0,371.7 1006.2,370.8 1005.1,368.1 1002.2,365.2 995.3,365.9 989.2,366.0 984.0,366.5 976.9,365.4 972.8,364.5 968.6,364.0 967.0,359.4 965.2,358.8 962.3,359.4 958.5,361.2 953.9,360.0 950.1,357.1 946.5,356.0 944.0,352.5 941.3,347.5 939.3,348.1 936.9,346.8 935.5,348.3 933.2,348.1 934.0,349.8 933.7,350.6 934.9,353.5 936.4,356.7 938.2,357.6 938.9,358.9 941.4,360.5 941.6,362.0 941.3,363.3 941.7,364.5 942.8,365.5 943.3,366.8 943.9,367.7 943.6,365.0 944.6,363.0 945.7,362.6 946.8,363.8 946.9,366.0 946.0,368.2 946.8,369.6 947.5,370.5 950.5,369.9 953.6,370.0 955.9,370.1 958.4,367.5 961.2,365.1 963.6,362.8 964.7,361.5 965.2,361.9 964.8,363.4 964.3,364.1 964.8,367.1 966.5,369.6 968.6,371.0 971.4,371.5 973.6,372.1 975.3,374.3 976.3,375.6 977.6,376.0 977.6,376.9 976.2,379.1 975.6,380.2 974.1,381.4 972.7,383.9 970.9,383.7 970.2,384.6 969.6,386.5 970.0,389.0 969.7,389.5 967.9,389.5 965.6,390.9 965.2,392.7 964.4,393.5 962.1,393.5 960.6,394.4 960.6,395.9 958.8,397.0 956.7,396.6 954.2,397.9 952.5,398.1 949.8,399.1 949.0,400.7 949.0,402.0 945.2,403.6 939.2,405.4 935.9,408.0 934.2,408.2 933.1,408.0 930.9,409.6 928.5,410.3 925.4,410.5 924.5,410.7 923.6,411.7 922.6,412.0 922.1,412.9 920.2,412.8 919.0,413.3 916.4,413.1 915.4,410.9 915.5,408.9 914.9,407.8 914.2,405.0 913.1,403.5 913.9,403.3 913.5,401.6 913.9,400.9 913.8,399.2 913.3,397.6 912.2,396.5 911.9,395.0 909.9,393.7 907.9,390.5 906.9,387.4 904.3,384.9 902.6,384.3 900.1,380.7 899.7,378.1 899.9,375.9 897.7,371.7 895.9,370.2 893.9,369.4 892.7,367.3 892.9,366.5 891.8,364.5 890.7,363.7 889.3,360.9 887.0,357.9 885.1,355.3 883.2,355.3 883.8,353.3 884.0,351.9 884.4,350.4 884.3,349.9M863.0,306.0 870.2,306.5 874.7,304.0 879.0,303.0 885.2,302.9 891.8,305.5 897.2,307.0 901.5,306.4 904.7,306.8 909.2,304.8 909.7,303.2 908.8,300.6 906.6,299.3 904.5,298.8 903.2,297.7 898.4,294.5 894.1,293.1 890.9,290.9 893.6,290.3 896.7,287.2 894.6,285.7 900.2,284.2 900.0,283.3 896.7,283.9 893.7,284.2 891.2,285.4 887.7,285.6 884.4,287.1 884.7,289.4 886.5,290.3 890.3,290.1 889.6,291.4 885.5,292.0 880.4,294.2 878.3,293.5 879.2,291.7 875.0,290.6 875.7,289.9 879.3,288.6 878.2,287.8 872.4,286.8 872.2,285.4 868.7,285.9 867.3,288.0 864.4,290.7 864.5,291.7 862.6,292.5 861.5,292.2 860.5,296.6 858.5,298.2 857.1,300.9 858.4,303.0 858.8,304.5 862.1,305.7M928.4,293.3 932.1,289.4 935.8,288.8 937.5,286.6 941.0,285.8 945.3,284.1 948.5,285.1 952.2,284.9 952.9,287.2 952.2,290.8 949.0,290.3 945.8,290.9 945.6,293.7 942.0,293.3 942.1,294.5 944.2,295.5 945.9,298.8 950.2,300.1 950.9,301.4 950.0,302.9 950.2,303.9 951.4,306.3 951.8,303.5 954.8,302.6 955.9,304.7 958.6,307.0 955.3,308.2 951.8,307.3 950.9,310.4 953.4,310.6 952.5,313.2 955.4,314.5 954.9,318.4 955.5,321.1 955.2,321.9 949.3,322.9 944.0,322.3 941.4,320.4 937.8,319.6 936.6,316.9 936.6,315.0 937.9,314.1 938.6,312.8 939.2,309.9 942.3,309.6 941.1,308.6 939.4,308.4 937.5,305.8 935.5,303.8 931.4,299.3 931.8,296.8 928.4,293.3ZM789.2,302.5 788.0,305.4 786.3,304.6 785.4,302.1 786.2,300.7 788.6,299.3 789.2,302.5ZM842.2,326.6 844.3,327.9 847.2,327.7 850.0,328.0 851.9,328.2 851.5,329.3 846.1,329.6 841.5,328.3 842.2,326.6ZM883.0,326.8 880.5,328.4 880.7,329.1 880.8,329.4 877.0,330.9 875.2,330.4 874.3,328.9 876.4,328.7 879.6,327.9 883.0,326.8ZM846.1,168.7 837.7,170.2 831.1,169.3 833.7,168.3 831.4,167.2 839.2,166.4 840.7,167.8 846.1,168.7ZM883.2,351.4 882.5,354.3 881.4,356.2 880.5,356.9 879.3,355.7 877.6,354.0 874.9,348.6 874.6,348.9 876.1,352.9 878.4,356.7 881.2,362.5 882.6,364.5 883.8,366.7 887.2,370.8 886.4,371.5 886.6,373.9 890.9,377.3 891.6,378.0 892.8,381.7 892.0,382.4 892.5,386.2 893.9,390.7 895.3,391.6 897.4,393.0 899.6,397.4 900.6,400.8 902.6,402.6 907.8,406.2 909.8,408.3 911.9,410.5 913.1,411.8 914.9,412.9 915.8,414.1 915.7,415.6 913.5,416.5 915.2,417.5 916.4,418.2 917.1,419.8 918.8,421.3 920.6,421.4 924.2,420.4 928.3,419.9 931.6,418.8 933.4,418.6 934.8,417.8 936.9,417.7 938.1,417.7 939.8,417.1 941.8,416.7 943.6,415.4 945.0,415.4 945.1,416.5 944.7,418.6 944.8,420.6 943.9,422.0 942.9,426.0 941.1,430.2 938.8,435.0 935.6,440.5 932.4,444.7 927.9,449.8 924.2,452.8 918.6,456.6 915.1,459.4 911.0,463.9 910.1,465.9 909.3,466.8 906.6,468.3 905.7,469.9 904.3,470.1 903.8,472.8 902.6,474.3 901.8,476.8 900.3,478.0 898.6,482.7 898.8,484.8 901.2,486.1 901.4,487.1 900.3,489.4 900.5,490.5 900.3,492.3 901.6,494.6 903.2,498.4 904.5,499.2 905.1,500.9 905.0,504.6 905.4,507.9 905.6,513.7 906.3,515.6 905.1,518.3 903.7,520.9 901.3,523.2 897.9,524.6 893.6,526.4 889.4,530.4 888.0,531.1 885.3,533.8 883.8,534.6 883.5,537.3 885.3,540.2 886.0,542.4 886.1,543.5 886.7,543.3 886.6,547.0 886.0,548.7 886.9,549.4 886.3,550.9 884.7,552.3 881.7,553.5 877.1,555.6 875.5,557.0 875.8,558.5 876.8,558.8 876.5,560.7 875.5,563.5 875.1,566.6 874.1,568.3 871.6,570.2 870.8,570.7 869.2,572.6 868.2,574.5 866.1,577.2 861.8,581.1 859.2,583.3 856.3,585.1 852.4,586.5 850.5,586.7 850.0,587.7 847.7,587.2 845.9,587.9 841.8,587.2 839.6,587.7 838.0,587.4 834.1,588.9 830.9,589.5 828.6,591.0 826.9,591.0 825.3,589.7 824.1,589.6 822.4,588.0 822.3,588.5 821.8,587.5 821.8,585.3 820.6,582.7 821.8,582.1 821.7,579.2 819.2,575.7 817.3,572.5 814.6,567.6 811.9,564.8 810.4,562.0 809.6,558.4 808.6,555.7 807.4,549.9 807.3,545.4 806.8,543.4 805.4,541.8 803.4,538.7 801.5,534.2 800.7,531.9 797.6,528.2 797.4,525.4 797.0,523.0 797.5,519.7 798.8,516.3 799.0,514.7 800.2,511.3 801.1,509.8 803.3,507.3 804.5,505.6 804.9,502.9 804.7,500.7 803.6,499.4 802.6,497.1 801.7,494.9 801.9,494.1 803.0,492.6 801.9,489.0 801.1,486.5 799.2,484.1 799.6,483.4 799.0,482.2 798.0,479.4 795.0,475.4 791.1,471.6 788.7,468.5 786.4,464.7 786.5,463.4 787.3,462.2 788.2,459.5 789.0,456.7 788.3,456.2 789.6,452.0 790.1,449.0 788.6,446.5 786.9,445.9 786.1,444.2 785.2,443.6 785.2,442.6 781.3,444.0 779.9,443.8 778.5,444.6 775.5,444.5 773.5,442.2 772.2,439.5 769.6,437.0 766.8,437.0 763.5,437.0 760.4,437.5 757.3,438.3 751.5,440.5 749.4,441.8 746.0,442.8 742.7,441.8 741.0,441.8 738.3,441.1 735.9,441.1 731.5,441.8 728.9,442.8 725.2,444.2 723.5,444.2 719.6,442.4 716.2,439.5 713.0,437.5 710.5,435.0 709.5,434.8 706.8,433.3 704.8,431.3 704.2,429.9 703.7,427.1 702.0,424.9 700.6,423.4 699.6,422.9 698.7,422.2 698.3,420.5 697.7,419.7 696.6,419.1 694.7,417.5 693.0,417.3 692.2,416.2 692.2,415.7 691.1,414.9 690.8,414.1 690.2,411.2 690.7,409.6 689.1,406.6 687.3,405.3 688.9,404.6 690.8,401.9 691.7,400.0 691.3,398.0 692.4,396.1 692.8,392.6 692.4,388.9 692.0,387.1 692.3,385.2 691.4,383.4 689.4,381.8 689.6,380.2 689.7,378.4 691.2,377.4 692.4,375.5 692.1,374.2 693.5,371.6 695.5,369.2 696.8,368.6 697.8,366.4 697.9,364.4 699.2,362.1 701.7,360.7 704.1,356.9 706.1,355.4 709.5,355.0 712.5,352.4 714.4,351.4 717.5,348.3 716.6,343.6 718.0,340.4 718.5,338.4 720.9,335.9 724.7,334.2 727.5,332.6 730.0,328.7 731.1,326.5 733.9,326.5 736.2,328.1 739.7,327.8 743.6,328.6 745.2,328.7 748.8,326.6 752.9,326.0 755.2,324.4 758.9,323.3 765.2,322.6 771.4,322.3 773.3,322.9 776.8,321.4 780.9,321.4 782.4,322.2 784.9,322.0 789.0,320.5 791.7,320.9 791.5,322.9 794.7,321.5 795.0,322.2 793.1,324.0 793.1,325.7 794.4,326.7 793.9,329.9 791.4,331.8 792.1,333.8 794.1,333.9 795.0,335.7 796.5,336.3 800.8,337.6 802.4,337.2 805.6,337.9 810.5,339.5 812.3,342.9 815.6,343.6 820.9,345.2 824.9,347.0 826.7,346.1 828.5,344.3 827.7,341.5 828.8,339.6 831.5,337.9 834.1,337.4 839.2,338.1 840.5,339.8 841.9,339.8 843.1,340.5 846.8,340.9 847.7,342.2 852.7,342.1 856.3,343.1 860.0,344.2 861.8,344.8 864.7,343.6 866.2,342.5 869.5,342.2 872.2,342.7 873.2,344.6 874.1,343.3 877.1,344.2 880.0,344.4 881.9,343.5 882.9,342.2 883.7,340.3 884.4,337.4 885.0,336.5 886.4,333.4 888.3,330.8 888.0,327.8 888.9,326.2 887.5,324.5 888.9,323.1 886.7,323.4 883.5,322.6 881.0,324.7 875.3,325.1 872.2,323.2 868.2,323.0 867.3,324.6 864.7,325.0 861.1,323.0 857.0,323.1 854.8,319.4 852.1,317.3 853.9,314.3 851.5,312.6 855.7,309.0 861.4,308.8 863.0,306.0 862.1,305.7 861.4,306.6 856.9,306.8 855.3,308.0 852.2,310.0 851.0,308.2 851.1,307.5 848.8,307.4 846.8,307.0 842.3,308.0 844.9,310.1 843.0,310.7 840.9,310.7 838.9,308.8 838.2,309.6 839.0,311.8 840.9,313.6 839.5,314.4 841.6,316.1 843.5,317.2 843.5,319.3 840.1,318.4 841.1,320.3 838.7,320.6 840.2,324.0 837.7,324.0 834.6,322.4 833.2,319.4 832.6,316.9 831.1,315.2 829.2,313.0 828.9,312.0 828.3,311.7 828.2,310.9 826.1,309.6 825.8,307.8 826.1,305.3 826.6,304.1 826.0,303.5 825.2,303.2 824.2,302.0 822.5,301.3 819.0,299.9 816.8,298.5 813.4,297.4 810.3,294.7 811.0,294.4 809.3,292.8 809.2,291.5 806.8,291.0 805.7,292.6 804.6,291.3 804.7,290.0 805.6,289.6 802.6,289.0 799.6,290.4 799.8,292.2 799.3,293.3 800.6,295.2 804.1,297.1 806.0,300.2 810.1,303.2 813.1,303.2 814.0,304.0 812.9,304.8 816.3,306.1 819.1,307.3 822.3,309.2 822.7,309.9 821.9,311.3 819.9,309.5 816.6,308.9 815.0,311.3 817.7,312.7 817.3,314.7 815.8,314.9 813.7,318.1 812.2,318.4 812.2,317.3 812.9,315.2 813.8,314.5 812.3,312.3 811.1,310.4 809.6,309.9 808.5,308.3 806.1,307.6 804.5,306.1 801.7,305.9 798.8,304.2 795.3,301.7 792.8,299.6 791.6,295.9 789.7,295.4 786.7,294.2 785.0,294.7 782.8,296.4 781.3,296.7 777.9,298.8 770.5,297.8 765.0,299.0 764.6,301.3 764.8,303.5 761.2,305.9 756.4,306.8 756.1,308.0 753.8,310.1 752.3,313.1 753.8,315.3 751.6,317.0 750.8,319.4 748.0,320.2 745.3,323.0 737.0,323.0 734.6,324.4 733.1,325.2M927.7,159.7 929.9,158.5 921.5,158.4 928.8,157.7 934.5,157.7 935.3,158.7 937.5,157.8 941.0,157.2 946.5,158.0 945.1,158.6 940.1,159.0 936.7,159.3 936.2,159.9 931.8,160.6 927.7,159.7ZM742.1,240.7 738.1,244.8 741.9,244.2 746.0,244.3 745.0,247.3 741.7,250.7 745.5,250.9 749.2,255.8 751.8,256.4 754.0,260.6 755.1,262.1 759.7,262.8 759.2,265.2 757.3,266.3 758.8,268.2 755.4,270.2 750.4,270.2 744.0,271.2 742.3,270.4 739.8,272.2 736.4,271.8 733.7,273.2 731.7,272.5 737.2,268.5 740.6,267.7 734.7,267.1 733.6,265.6 737.6,264.4 735.5,262.4 736.2,260.0 741.8,260.3 742.3,258.2 739.8,255.8 735.2,255.1 734.3,254.1 735.7,252.4 734.4,251.4 732.4,253.2 732.2,249.5 730.3,247.6 731.7,243.8 734.6,240.7 737.6,241.0 742.1,240.7ZM730.1,258.6 730.8,261.3 727.9,264.6 721.3,266.8 716.0,266.2 719.0,262.4 717.0,258.5 722.1,255.6 725.0,253.8 728.1,253.7 732.2,256.0 730.1,258.6ZM856.1,160.4 850.6,162.4 839.7,162.9 828.7,162.2 828.0,161.2 822.6,161.1 818.5,159.4 830.1,158.4 835.5,159.3 839.3,158.1 848.8,159.1 856.1,160.4ZM946.3,190.6 950.1,189.7 950.0,187.7 957.4,184.5 954.0,184.0 963.0,180.7 961.9,179.1 970.3,177.1 982.7,174.7 995.2,174.0 1001.6,172.6 1008.9,172.1 1011.5,173.6 1009.0,174.7 995.7,176.6 984.3,178.4 972.6,181.9 967.0,185.6 961.2,189.2 961.9,192.3 969.1,195.4 966.9,195.7 954.6,195.3 953.6,193.6 946.8,192.6 946.3,190.6ZM1273.9,175.1 1283.8,175.3 1297.4,177.3 1294.4,180.0 1280.6,179.9 1274.4,180.8 1266.9,178.4 1268.9,175.8 1273.9,175.1ZM1302.1,177.5 1309.1,178.0 1318.5,179.1 1314.2,180.5 1308.2,180.2 1301.2,178.7 1302.1,177.5ZM1286.0,183.6 1291.3,185.1 1291.8,186.1 1286.1,186.1 1278.4,185.7 1277.7,185.5 1281.3,184.0 1286.0,183.6ZM787.9,306.0 790.2,308.7 789.6,313.6 787.9,313.4 786.4,314.6 785.0,313.7 784.8,309.1 784.0,307.0 786.0,307.2 787.9,306.0ZM1128.1,164.8 1119.9,165.3 1109.4,164.2 1103.2,162.8 1100.4,160.1 1095.2,159.3 1105.0,156.8 1113.1,155.9 1120.4,157.8 1129.0,161.4 1128.1,164.8ZM1147.3,166.9 1126.2,168.4 1133.0,163.5 1136.1,163.1 1139.0,163.3 1148.4,165.4 1147.3,166.9ZM811.6,317.2 810.2,320.2 810.8,321.3 810.0,323.2 807.1,321.8 805.2,321.4 800.0,319.5 800.5,317.6 804.9,317.9 808.7,317.5 811.6,317.2ZM810.1,161.9 811.6,160.5 817.1,160.4 821.8,161.7 834.1,164.5 824.7,166.0 822.6,168.7 819.3,169.5 817.6,172.6 813.0,172.7 805.0,170.4 808.4,169.1 802.8,168.0 795.4,164.9 792.5,161.9 802.8,160.6 804.8,161.9 810.1,161.9ZM1428.2,192.4 1423.5,194.0 1424.1,195.2 1428.2,195.0M78.5,192.4 79.0,192.3 87.6,193.3 83.4,194.8 78.5,195.0M799.8,250.2 801.0,252.0 798.7,255.1 794.8,253.0 794.2,251.4 799.8,250.2ZM1291.6,512.1 1293.0,515.0 1295.4,513.6 1298.4,516.7 1298.0,518.3 1298.9,521.6 1301.4,527.1 1301.0,529.0 1306.3,533.5 1311.5,536.9 1311.0,537.8 1313.1,540.2 1314.6,544.2 1316.1,543.4 1317.6,545.1 1318.5,544.5 1319.1,548.4 1323.5,552.2 1326.5,555.2 1327.5,558.2 1327.6,560.4 1327.4,562.7 1329.2,565.9 1328.9,569.2 1327.3,574.3 1327.4,576.4 1326.6,579.1 1325.0,582.5 1322.2,584.4 1320.8,587.3 1318.4,592.3 1317.0,594.2 1316.1,597.0 1315.6,599.6 1315.8,600.8 1313.6,602.1 1309.4,602.2 1305.9,603.8 1304.2,605.2 1302.0,606.8 1298.9,605.2 1296.6,604.5 1297.1,602.6 1295.1,603.3 1291.8,606.0 1288.6,605.0 1286.4,604.4 1284.3,604.1 1280.7,603.0 1278.2,600.7 1277.6,597.8 1276.7,594.4 1274.8,594.4 1271.2,594.0 1272.5,592.2 1271.6,589.4 1269.7,592.0 1266.4,592.7 1268.3,590.6 1268.9,588.4 1270.4,586.6 1270.1,583.8 1267.0,587.0 1264.7,588.3 1263.2,591.3 1260.3,589.8 1260.4,587.8 1258.1,585.0 1256.1,583.6 1256.8,582.8 1252.0,580.5 1249.4,580.4 1245.8,578.6 1239.1,578.9 1234.2,581.3 1229.9,581.5 1226.3,581.3 1222.4,583.2 1219.1,584.1 1218.4,586.0 1217.0,587.5 1213.8,587.6 1211.5,588.0 1208.2,587.3 1205.5,587.7 1202.9,587.9 1200.7,589.9 1199.6,589.7 1197.7,590.8 1195.9,591.9 1193.2,591.8 1190.7,591.8 1186.6,589.4 1184.7,588.7 1184.7,586.5 1186.6,586.0 1187.2,585.2 1187.1,583.8 1187.5,581.2 1187.1,579.0 1185.1,575.2 1184.5,573.1 1184.7,570.9 1183.2,568.5 1183.1,567.4 1181.4,565.9 1181.0,562.9 1178.8,560.0 1178.3,558.4 1180.0,560.0 1178.7,556.5 1180.6,557.6 1181.7,559.1 1181.6,557.2 1179.7,554.2 1179.4,553.0 1178.5,551.9 1178.9,549.8 1179.7,548.8 1180.2,546.9 1179.8,544.8 1181.4,542.1 1181.7,544.9 1183.2,542.3 1186.3,541.1 1188.1,539.5 1191.0,538.1 1192.7,537.8 1193.7,538.3 1196.7,536.9 1198.9,536.4 1199.5,535.6 1200.5,535.3 1202.6,535.4 1206.5,534.3 1208.5,532.6 1209.5,530.6 1211.7,528.7 1211.9,527.2 1211.9,525.2 1214.6,522.0 1216.1,525.2 1217.8,524.5 1216.4,522.7 1217.6,520.9 1219.3,521.7 1219.7,518.9 1221.8,517.0 1222.7,515.5 1224.5,514.9 1224.6,513.8 1226.3,514.3 1226.3,513.4 1228.0,512.8 1229.8,512.3 1232.5,514.0 1234.6,516.2 1237.0,516.3 1239.4,516.6 1238.6,514.6 1240.4,511.6 1242.1,510.6 1241.5,509.6 1243.1,507.5 1245.4,506.2 1247.3,506.6 1250.5,505.9 1250.4,504.0 1247.6,502.7 1249.6,502.2 1252.1,503.2 1254.1,504.7 1257.2,505.6 1258.3,505.3 1260.7,506.4 1262.8,505.3 1264.3,505.7 1265.1,505.0 1266.8,506.8 1265.9,508.8 1264.4,510.3 1263.1,510.4 1263.6,511.9 1262.5,513.8 1261.1,515.7 1261.4,516.7 1264.4,518.8 1267.3,520.0 1269.2,521.3 1271.9,523.5 1273.0,523.5 1274.9,524.5 1275.5,525.6 1279.1,526.9 1281.6,525.6 1282.3,523.6 1283.0,521.9 1283.5,519.9 1284.6,516.9 1284.1,515.1 1284.4,514.0 1284.0,511.9 1284.5,509.0 1285.2,508.3 1284.6,507.0 1285.5,505.0 1286.2,503.0 1286.3,501.9 1287.7,500.5 1288.8,502.3 1289.0,504.7 1290.0,505.1 1290.1,506.7 1291.5,508.6 1291.8,510.7 1291.6,512.1ZM1195.3,445.0 1193.2,448.4 1196.0,451.9 1195.3,453.6 1199.5,457.1 1195.1,457.6 1193.8,460.1 1194.0,463.5 1190.4,466.1 1190.3,469.8 1188.9,475.5 1188.3,474.2 1184.0,475.9 1182.6,473.6 1179.9,473.4 1178.0,472.2 1173.6,473.5 1172.2,471.7 1169.7,471.9 1166.6,471.5 1166.1,466.5 1164.2,465.4 1162.4,462.2 1161.9,458.9 1162.3,455.5 1164.5,453.0 1167.3,454.3 1170.2,453.6 1170.9,450.4 1172.5,449.7 1177.0,448.9 1179.7,445.9 1181.5,443.5 1183.0,442.1 1186.2,440.1 1189.1,437.5 1191.0,434.6 1192.5,434.5 1194.4,436.4 1194.6,438.0 1197.1,439.1 1200.2,440.2 1200.0,441.7 1197.4,441.9 1198.1,443.7 1195.3,445.0ZM1333.6,480.5 1334.7,481.4 1336.6,483.7 1338.3,485.0 1337.8,486.1 1336.8,486.4 1335.2,485.0 1333.5,482.6 1332.7,479.8 1333.2,479.4 1333.6,480.5ZM1230.5,473.5 1229.0,474.7 1226.5,474.0 1225.7,472.4 1229.5,472.2 1230.5,473.5ZM1422.1,525.5 1423.4,526.6 1422.8,528.5 1420.5,529.1 1418.4,528.6 1418.1,526.9 1419.5,525.7 1421.2,526.1 1422.1,525.5ZM1425.8,523.5 1423.5,524.3 1423.0,522.9 1424.9,522.1 1426.0,521.9 1428.2,520.7 1428.2,522.6 1425.8,523.5ZM1214.2,490.8 1213.6,492.9 1208.0,494.0 1203.0,493.5 1203.0,492.1 1206.0,491.4 1208.3,492.5 1210.8,492.2 1214.2,490.8ZM1167.1,390.5 1163.8,392.3 1160.8,391.1 1160.7,387.9 1162.5,386.2 1166.6,385.2 1168.8,385.2 1169.6,386.7 1167.9,388.3 1167.1,390.5ZM1235.9,456.3 1235.7,459.5 1233.7,459.2 1233.2,461.4 1234.7,463.4 1233.7,463.9 1232.2,461.5 1233.3,454.4 1235.5,454.7 1235.9,456.3ZM1292.9,294.9 1295.6,295.7 1298.2,294.1 1299.0,298.3 1293.5,299.3 1290.2,303.1 1284.3,300.5 1282.3,304.6 1278.1,304.7 1277.6,301.0 1279.4,298.1 1283.4,297.8 1284.5,292.7 1285.7,289.8 1290.0,293.7 1292.9,294.9ZM1285.3,313.6 1281.9,317.4 1281.9,321.3 1280.5,324.3 1281.2,326.2 1279.2,328.8 1274.5,330.5 1267.9,330.8 1265.9,331.9 1262.5,335.1 1260.0,333.6 1259.8,330.8 1253.3,331.6 1248.9,333.4 1244.5,333.5 1244.1,332.2 1247.8,330.2 1250.6,327.7 1258.1,326.6 1262.1,327.3 1266.0,320.7 1268.5,322.4 1274.0,318.7 1276.1,317.2 1278.5,312.7 1277.8,308.5 1279.4,306.1 1283.4,305.4 1285.4,310.6 1285.3,313.6ZM1151.0,482.6 1155.6,482.8 1158.6,484.3 1160.1,484.6 1160.6,485.9 1167.8,486.3 1168.6,484.8 1175.6,486.6 1177.0,489.0 1182.6,489.7 1187.2,491.9 1182.9,493.3 1178.8,491.8 1175.4,491.9 1171.5,491.6 1168.0,490.9 1163.7,489.5 1160.9,489.1 1159.3,489.6 1152.5,488.1 1151.8,486.4 1148.4,486.2 1151.0,482.6ZM1011.0,647.1 1011.6,642.8 1014.2,644.0 1017.8,644.4 1017.9,645.2 1016.9,646.8 1011.0,647.1ZM1244.2,333.4 1247.9,336.0 1245.7,342.8 1243.4,344.3 1241.5,342.8 1242.3,339.4 1240.0,338.3 1238.5,335.7 1242.3,334.5 1244.2,333.4ZM1208.2,391.2 1210.6,392.2 1211.7,391.2 1212.1,392.2 1211.4,393.7 1212.7,396.4 1211.7,399.5 1209.5,400.8 1209.0,403.8 1209.8,406.8 1211.8,407.2 1213.4,406.7 1218.1,408.8 1217.8,410.9 1219.0,411.8 1218.6,413.5 1215.7,411.7 1214.3,409.7 1213.3,411.1 1210.9,408.8 1207.5,409.4 1205.7,408.5 1205.8,407.0 1207.0,406.0 1205.9,405.2 1205.4,406.5 1203.6,404.4 1203.0,402.7 1202.8,399.2 1204.4,400.4 1204.8,394.5 1206.0,391.1 1208.2,391.2ZM939.1,507.2 940.1,508.9 941.1,511.3 941.7,515.8 942.6,517.6 942.3,519.4 941.6,520.5 940.3,518.3 939.6,519.4 940.3,522.2 940.0,523.8 939.0,524.6 938.7,527.8 937.2,532.2 935.4,537.3 933.1,544.4 931.7,549.6 930.0,554.0 926.9,554.9 923.6,556.5 921.5,555.5 918.5,554.2 917.4,552.2 917.2,548.9 915.9,545.9 915.5,543.2 916.2,540.5 917.9,539.8 918.0,538.6 919.7,535.7 920.1,533.4 919.2,531.6 918.5,529.2 918.2,525.8 919.5,523.7 920.0,521.3 921.9,521.2 924.0,520.4 925.4,519.7 927.0,519.7 929.1,517.5 932.3,515.2 933.4,513.3 932.9,511.7 934.4,512.2 936.5,509.6 936.6,507.3 937.8,505.6 939.1,507.2ZM1227.2,429.0 1227.6,431.4 1227.8,433.5 1226.5,437.0 1225.1,433.2 1223.4,435.0 1224.6,437.8 1223.5,439.6 1219.1,437.4 1218.1,434.7 1219.2,432.9 1216.8,431.1 1215.7,432.7 1213.9,432.5 1211.1,434.6 1210.5,433.5 1211.9,430.4 1214.3,429.3 1216.4,427.9 1217.7,429.6 1220.5,428.6 1221.1,426.9 1223.8,426.8 1223.6,423.9 1226.6,425.7 1226.9,427.6 1227.2,429.0ZM1204.5,410.0 1207.7,410.2 1209.0,411.5 1208.0,414.7 1206.4,412.9 1204.5,410.0ZM1218.2,422.0 1216.9,423.2 1215.7,425.6 1214.5,426.7 1212.2,424.1 1213.0,423.1 1213.9,422.0 1214.3,419.7 1216.4,419.5 1215.8,422.0 1218.6,418.4 1218.2,422.0ZM1323.8,476.1 1324.5,476.7 1324.5,478.8 1323.2,481.0 1321.2,481.3 1320.6,482.4 1318.6,483.3 1316.7,484.2 1314.7,484.2 1311.6,483.1 1309.5,482.1 1309.8,480.9 1313.1,481.4 1315.2,481.2 1316.3,479.2 1316.7,481.2 1318.8,481.0 1319.9,479.7 1322.0,478.3 1321.5,476.1 1323.8,476.1ZM1380.0,543.6 1378.5,544.5 1376.5,543.5 1373.8,541.8 1371.4,539.8 1368.9,537.1 1368.4,535.9 1370.0,535.9 1372.1,537.2 1373.7,538.5 1374.9,539.5 1378.0,541.8 1380.0,543.6ZM1282.0,470.2 1288.5,472.8 1295.4,475.0 1298.0,476.9 1300.1,478.8 1300.7,481.0 1307.0,483.3 1307.9,485.3 1304.4,485.7 1305.2,488.2 1308.6,490.6 1311.0,494.6 1313.2,494.5 1313.0,496.1 1315.9,496.8 1314.8,497.5 1318.8,499.1 1318.4,500.2 1315.9,500.4 1314.9,499.4 1311.7,499.0 1307.9,498.5 1305.0,496.1 1302.9,494.0 1301.0,490.8 1296.0,489.1 1292.9,490.2 1290.6,491.4 1291.1,494.2 1288.1,495.5 1286.0,494.8 1282.1,494.7 1278.8,491.6 1275.0,490.9 1274.1,491.9 1269.3,492.0 1270.9,489.0 1273.3,487.9 1272.3,483.9 1270.5,480.7 1263.2,477.6 1260.1,477.2 1254.5,473.8 1253.4,475.6 1252.0,475.9 1251.1,474.6 1251.1,472.9 1248.2,471.1 1252.3,469.7 1255.0,469.8 1254.7,468.8 1249.1,468.8 1247.7,466.6 1244.3,465.9 1242.7,464.0 1247.8,463.1 1249.7,461.9 1255.7,463.4 1256.3,464.8 1257.4,470.9 1261.3,473.1 1264.4,469.2 1268.7,466.9 1272.0,466.9 1275.2,468.2 1278.0,469.5 1282.0,470.2ZM1318.2,470.8 1319.3,469.9 1321.3,470.9 1322.6,471.7 1324.2,472.6 1325.7,474.2 1327.1,475.4 1327.5,477.4 1326.4,478.4 1325.7,476.2 1324.8,474.7 1323.1,473.5 1320.9,471.9 1318.2,470.8ZM1416.6,610.7 1415.2,612.7 1413.3,615.3 1410.4,616.8 1409.8,615.8 1408.2,615.2 1410.4,612.2 1409.1,610.1 1405.1,608.6 1405.2,607.3 1407.9,605.9 1408.5,603.1 1408.4,600.6 1406.8,598.1 1407.0,597.4 1405.2,595.9 1402.2,592.6 1400.7,589.9 1402.0,589.6 1404.1,591.7 1407.0,592.7 1408.0,596.0 1410.8,600.0 1410.8,597.4 1412.5,598.4 1413.1,601.3 1416.1,602.5 1418.6,602.8 1420.8,601.4 1422.7,601.8 1421.8,605.1 1420.6,607.3 1417.8,607.3 1416.8,608.4 1417.1,610.0 1416.6,610.7ZM1389.5,623.8 1392.7,621.8 1395.0,619.9 1396.6,617.1 1398.1,616.1 1398.6,614.0 1401.3,612.3 1402.1,613.9 1402.9,615.4 1405.6,613.9 1406.7,615.5 1406.7,617.1 1405.3,618.8 1402.8,621.6 1400.9,623.1 1402.3,624.9 1399.4,624.9 1396.2,626.3 1395.2,628.8 1393.1,632.6 1390.1,634.3 1388.2,635.3 1384.8,635.3 1382.4,634.0 1378.3,633.8 1377.7,632.4 1379.7,629.6 1384.4,625.9 1386.8,625.2 1389.5,623.8ZM1192.7,429.1 1194.5,426.5 1197.3,424.2 1199.5,421.6 1201.5,417.9 1202.1,421.0 1199.7,423.0 1197.7,425.6 1194.5,428.6 1192.7,429.1ZM1210.3,415.9 1212.6,417.1 1215.0,417.1 1214.9,418.6 1213.2,420.2 1210.8,421.4 1210.7,419.6 1210.9,417.7 1210.3,415.9ZM1292.0,270.3 1295.7,276.9 1290.2,275.7 1287.9,281.1 1291.5,284.9 1291.4,287.5 1288.6,285.3 1286.1,288.2 1285.4,285.0 1285.8,281.4 1285.4,277.3 1286.3,274.5 1286.4,269.5 1284.2,265.8 1284.6,260.7 1288.1,259.0 1286.6,257.2 1288.2,256.7 1289.2,259.2 1290.5,262.8 1290.4,266.5 1292.0,270.3ZM1223.9,414.9 1225.0,419.1 1222.1,418.1 1222.1,419.3 1223.1,421.7 1221.3,422.5 1221.1,419.9 1220.0,419.7 1219.4,417.4 1221.6,417.7 1221.6,416.3 1219.3,413.4 1222.9,413.5 1223.9,414.9ZM1242.5,472.1 1243.9,475.0 1240.7,473.4 1237.6,473.1 1235.5,473.4 1232.9,473.2 1233.8,471.1 1238.4,471.0 1242.5,472.1ZM1258.2,332.5 1258.7,333.8 1256.5,336.0 1255.0,334.8 1253.1,335.7 1252.1,337.9 1249.6,336.8 1249.7,335.1 1251.7,332.8 1253.9,333.3 1255.4,331.7 1258.2,332.5ZM1340.3,485.2 1342.5,486.8 1344.0,488.1 1343.3,488.2 1341.6,487.4 1340.1,485.9 1340.3,485.2ZM1351.9,490.6 1352.8,491.8 1353.0,492.5 1350.0,490.9 1348.0,489.6 1346.5,488.3 1347.1,487.9 1348.8,488.8 1351.9,490.6ZM1356.4,497.5 1355.0,497.6 1352.7,497.2 1351.9,496.6 1352.1,495.1 1354.6,495.7 1355.8,496.5 1356.4,497.5ZM1359.6,496.5 1359.0,497.2 1356.2,493.9 1355.4,491.7 1356.7,491.7 1358.1,494.7 1359.6,496.5ZM1361.2,499.8 1362.3,501.1 1359.6,501.1 1358.2,498.7 1360.5,499.7 1361.2,499.8ZM1060.0,432.3 1059.5,436.2 1057.9,437.3 1054.6,438.1 1052.8,435.2 1052.2,429.8 1053.9,423.7 1056.5,425.8 1058.2,428.4 1060.0,432.3ZM1222.9,455.2 1219.9,458.9 1217.1,459.6 1213.5,458.9 1207.3,459.1 1204.0,459.6 1203.4,462.4 1206.8,465.8 1208.8,464.1 1215.8,462.8 1215.5,464.5 1213.9,464.0 1212.2,466.2 1209.0,467.6 1212.5,472.5 1211.8,473.7 1215.2,478.0 1215.1,480.5 1213.1,481.6 1211.7,480.3 1213.5,477.2 1209.8,478.7 1208.9,477.6 1209.4,476.2 1206.7,474.0 1206.9,470.4 1204.5,471.5 1204.8,475.9 1204.9,481.2 1202.5,481.8 1200.9,480.7 1202.0,477.2 1201.4,473.6 1199.8,473.6 1198.7,471.0 1200.2,468.6 1200.7,465.6 1202.7,459.9 1203.4,458.4 1206.6,455.6 1209.6,456.7 1214.3,457.2 1218.6,457.1 1222.3,454.4 1222.9,455.2ZM1110.6,440.0 1118.9,440.8 1122.2,444.5 1125.1,447.0 1127.1,448.6 1130.7,452.6 1134.5,452.7 1137.7,455.3 1139.9,458.4 1142.7,460.1 1141.2,463.2 1143.3,464.5 1144.7,464.5 1145.3,467.2 1146.6,469.3 1149.4,469.6 1151.2,472.0 1150.3,476.7 1150.1,482.4 1146.0,482.5 1142.8,479.4 1138.0,476.3 1136.4,474.0 1133.6,471.0 1131.7,468.2 1128.8,462.9 1125.5,459.8 1124.4,456.6 1123.1,453.7 1119.7,451.3 1117.7,448.1 1114.9,446.0 1111.0,441.9 1110.6,440.0ZM1206.2,497.9 1204.9,496.7 1202.9,495.6 1199.4,496.3 1204.4,499.0 1206.2,497.9ZM1195.4,490.9 1196.8,491.8 1199.1,491.5 1200.0,493.2 1195.7,493.9 1193.1,494.4 1191.1,494.3 1192.3,492.2 1194.4,492.2 1195.4,490.9ZM1210.0,369.1 1207.7,375.1 1206.1,378.1 1204.1,375.0 1203.7,372.2 1205.9,368.5 1208.9,365.7 1210.6,366.8 1210.0,369.1ZM1307.1,613.5 1309.4,613.7 1309.6,618.2 1308.3,619.5 1307.9,622.5 1306.6,621.5 1304.0,624.1 1303.2,623.9 1301.0,623.8 1298.6,620.5 1298.1,618.1 1296.0,614.8 1296.0,613.1 1298.5,613.4 1302.1,614.7 1304.2,614.2 1307.1,613.5ZM1221.9,493.8 1222.4,493.0 1225.6,492.1 1228.2,492.0 1229.4,491.5 1230.8,492.0 1229.4,493.0 1225.5,494.6 1222.4,495.7 1219.9,498.5 1216.7,499.3 1216.3,498.9 1216.6,497.6 1218.2,495.3 1221.9,493.8ZM1380.3,520.1 1382.7,522.2 1381.5,522.7 1380.2,521.1 1380.3,520.1ZM1378.7,519.2 1378.2,518.2 1378.1,515.3 1379.9,516.5 1380.5,519.5 1379.5,519.0 1378.7,519.2ZM496.7,726.5 497.2,728.2 496.5,729.6 495.5,731.0 491.1,731.6 486.9,732.3 482.0,732.2 483.8,730.7 475.2,731.8 472.4,730.7 472.1,729.1 476.2,727.7 478.8,727.2 483.2,727.4 484.2,725.4 484.5,724.1 484.4,721.1 486.5,719.3 490.0,718.7 492.0,720.1 492.8,721.5 494.4,723.2 495.7,724.8 496.7,726.5ZM78.5,778.0 82.0,775.9 88.8,777.1 93.2,775.8 99.6,777.4 104.3,775.8 116.2,774.9 119.7,775.8 127.2,777.5 137.8,778.5 146.2,779.7 160.7,780.5 171.5,779.5 187.5,780.3 196.5,781.4 206.4,780.3 216.8,779.3 217.6,777.5 203.0,777.3 190.6,776.5 187.6,775.0 177.5,774.3 178.2,772.4 179.7,770.9 180.9,769.8 180.1,767.9 174.1,767.1 171.1,765.6 165.5,764.5 174.5,764.9 183.1,764.1 188.7,765.3 195.1,764.1 201.5,763.0 204.5,761.5 203.0,760.0 198.1,759.3 192.9,758.1 185.0,757.8 178.2,757.4 171.1,757.0 168.5,755.5 163.6,754.4 160.6,752.9 159.5,748.8 161.4,749.1 164.7,750.3 171.1,749.9 177.1,749.5 180.1,751.0 186.1,750.6 191.0,749.9 195.9,748.8 200.0,747.6 205.6,747.3 205.6,745.8 204.1,744.3 205.2,743.1 210.1,742.4 212.3,743.5 218.0,742.8 222.5,742.0 227.7,742.0 232.6,741.6 237.8,740.5 242.0,739.8 246.5,739.0 249.5,739.4 252.1,739.4 257.3,739.0 262.6,739.8 267.5,739.8 272.7,739.0 277.6,739.4 283.2,739.8 288.5,739.8 293.7,739.8 299.3,739.8 304.6,739.8 308.3,738.6 312.8,737.9 317.7,738.6 322.2,738.3 326.3,736.8 328.6,737.9 330.1,739.4 332.3,740.5 336.1,739.4 340.6,740.9 345.8,741.3 349.9,742.4 355.6,742.0 360.1,741.3 365.7,741.6 370.9,742.0 376.2,742.8 378.1,741.3 375.4,739.8 373.6,738.6 369.1,738.3 366.8,736.8 366.1,735.6 364.6,732.6 367.6,733.4 372.4,733.4 377.3,733.4 381.8,733.8 385.6,734.9 387.1,736.4 392.3,736.4 397.2,736.0 402.1,735.3 406.9,734.9 410.7,735.6 415.6,735.3 418.9,732.6 421.9,734.1 426.1,734.9 430.9,734.5 433.9,736.0 438.8,736.0 443.3,736.4 447.8,737.5 450.8,736.0 452.3,734.5 456.1,736.0 461.3,735.6 465.1,736.4 467.7,737.9 472.6,737.5 476.3,736.8 480.4,735.6 484.9,735.3 490.2,734.5 495.0,734.1 498.4,733.4 500.7,732.3 501.8,730.4 501.0,728.9 499.9,727.4 498.8,726.3 497.7,724.8 496.5,723.3 496.5,721.8 496.9,720.3 498.4,719.2 499.9,717.3 500.7,715.8 499.9,714.3 499.5,712.8 501.0,711.3 503.3,710.2 505.5,709.0 508.2,707.5 511.2,706.4 512.7,704.9 514.9,703.8 517.2,702.7 520.9,702.7 523.2,701.5 525.8,700.8 528.8,700.2 531.4,699.3 533.7,698.2 536.7,697.8 538.9,698.5 537.4,700.0 533.7,701.2 532.2,701.9 529.2,701.2 526.2,701.5 520.9,703.4 519.0,704.5 518.7,706.0 518.7,707.5 520.5,708.7 517.9,709.4 514.5,709.8 512.3,710.9 510.0,712.4 507.8,713.9 507.0,715.4 508.5,716.9 510.4,718.0 513.4,718.8 516.4,719.9 517.9,721.4 518.7,722.9 519.8,724.4 521.7,725.5 522.8,727.0 523.2,730.4 524.3,731.9 524.7,733.4 525.8,734.9 525.4,736.8 523.2,738.3 520.9,739.4 516.0,740.1 514.5,741.3 511.9,742.8 506.3,743.9 501.4,744.6 496.9,745.4 491.7,746.1 488.7,747.6 482.7,748.0 475.9,747.6 469.9,748.0 463.9,748.0 465.1,749.5 470.7,750.3 474.8,751.4 477.1,752.5 472.9,753.6 466.6,753.3 461.3,754.4 460.9,757.4 465.4,758.5 466.2,760.0 470.7,761.5 478.9,761.9 485.7,763.0 490.9,764.1 497.7,765.3 507.0,766.0 516.0,766.8 522.4,767.9 529.5,769.4 533.3,770.9 535.2,772.4 539.7,771.3 545.7,770.1 552.4,769.0 560.3,767.9 566.7,766.8 576.0,766.8 585.4,767.1 592.9,768.3 595.2,766.8 600.4,765.6 610.2,765.3 617.3,764.5 624.4,763.8 632.3,763.4 640.5,762.6 646.5,761.5 643.5,760.3 642.0,758.9 642.0,757.8 634.9,757.8 627.0,758.5 619.9,758.5 618.8,757.0 619.1,754.0 621.0,753.3 626.3,752.5 632.6,751.8 637.1,750.6 641.6,749.5 645.0,748.0 650.3,747.3 655.1,746.9 657.8,746.5 663.8,746.1 669.0,745.8 673.9,745.0 678.4,744.3 682.5,743.1 687.8,742.0 691.1,740.9 694.5,739.8 695.6,738.3 691.5,737.5 693.0,736.0 695.6,734.5 699.4,734.0 703.5,733.0 707.3,731.9 710.3,730.4 712.1,728.5 714.8,727.8 719.3,727.8 721.1,729.3 725.6,729.3 725.6,727.8 727.5,726.3 731.6,726.6 732.8,728.1 737.3,728.5 742.1,727.8 746.6,727.4 750.7,727.4 752.6,728.9 756.7,727.8 760.5,727.0 764.6,726.6 768.7,726.1 772.9,725.1 777.0,724.6 780.0,723.8 782.2,722.5 785.2,723.5 789.0,722.9 791.6,724.8 793.9,725.9 798.2,725.1 799.9,723.8 803.6,722.8 808.5,723.0 810.0,724.4 813.0,723.0 817.1,722.5 821.6,722.4 825.7,722.5 829.9,722.9 834.0,723.2 835.5,724.4 838.1,725.5 842.2,724.8 846.4,724.8 850.9,724.8 855.0,724.6 858.7,724.0 862.7,723.6 865.9,722.5 869.6,721.6 873.4,721.6 876.2,720.7 878.2,718.4 880.5,717.3 884.2,717.9 885.7,719.2 889.1,720.1 892.8,719.8 895.5,721.0 898.3,722.2 902.2,721.0 903.3,719.5 906.7,718.8 910.7,717.7 918.7,716.4 927.7,713.9 931.1,714.3 937.1,712.0 943.6,711.3 947.6,708.8 954.3,707.5 961.1,707.5 964.8,707.8 967.7,708.8 971.2,711.7 973.5,712.8 978.0,713.2 983.6,715.2 987.3,715.4 990.3,714.7 993.5,713.2 997.1,713.9 1004.2,714.9 1008.0,715.0 1011.7,715.0 1014.7,719.2 1014.2,721.8 1010.6,722.5 1007.6,724.0 1008.1,725.5 1012.3,725.5 1011.7,726.9 1009.8,728.1 1008.1,729.8 1010.9,731.0 1015.3,731.4 1019.6,730.8 1025.0,726.6 1027.4,725.5 1028.2,724.4 1030.3,722.4 1036.8,721.8 1044.3,720.9 1046.2,719.4 1047.3,718.0 1049.9,716.5 1056.7,715.0 1061.0,713.2 1063.8,712.4 1070.9,712.4 1078.6,712.2 1081.4,711.3 1084.8,709.8 1089.7,712.2 1096.8,712.0 1103.9,712.4 1109.6,712.3 1115.9,712.6 1123.4,712.0 1129.8,711.3 1138.8,706.3 1144.0,707.8 1151.5,711.3 1158.7,711.5 1166.5,710.5 1176.5,708.3 1182.3,708.2 1186.8,710.5 1190.9,710.4 1198.0,712.3 1206.6,712.4 1211.9,710.0 1215.3,709.8 1222.8,710.5 1226.2,710.0 1229.5,710.0 1236.3,710.8 1243.8,709.4 1251.7,709.4 1258.6,708.7 1259.6,706.8 1259.8,705.3 1262.2,706.3 1262.8,708.0 1268.9,711.5 1277.9,711.3 1286.1,710.9 1289.7,710.9 1294.8,710.9 1298.9,711.3 1301.5,712.4 1300.8,713.9 1303.2,715.0 1307.1,715.8 1311.3,716.9 1316.1,717.5 1321.4,718.0 1325.1,718.7 1329.3,718.8 1331.9,717.5 1335.3,718.4 1337.9,719.7 1341.3,720.7 1345.8,721.0 1350.3,721.4 1352.1,722.9 1356.3,723.6 1359.3,725.1 1363.4,725.5 1367.5,725.5 1371.6,725.9 1376.1,725.7 1380.6,725.9 1384.8,726.5 1388.9,727.4 1392.6,728.1 1395.3,729.3 1394.9,730.8 1393.0,731.9 1391.1,733.8 1389.9,734.9 1388.1,736.6 1383.3,737.1 1381.0,738.5 1376.1,739.4 1374.3,740.9 1371.9,742.2 1369.0,743.4 1367.5,744.9 1366.8,746.3 1366.4,748.0 1366.4,749.4 1368.5,750.9 1369.4,752.1 1370.9,753.6 1378.0,754.0 1379.5,755.7 1372.8,756.3 1367.0,757.0 1359.9,757.2 1356.6,759.3 1356.1,761.1 1354.4,762.5 1352.5,763.9 1357.4,765.3 1359.3,766.8 1362.6,768.1 1367.1,769.4 1372.4,770.5 1378.0,771.6 1386.6,772.8 1388.5,774.6 1399.4,775.5 1402.8,776.9 1413.2,776.0 1421.9,777.1 1428.2,778.0M578.4,752.3 584.1,753.1 588.7,754.7 590.3,757.0 590.8,758.6 590.9,760.5 585.1,761.7 579.0,762.6 571.9,763.5 564.1,764.2 555.2,764.0 550.3,762.7 550.9,761.2 559.0,760.2 562.2,758.9 564.6,757.3 566.2,755.9 568.5,754.6 570.9,753.1 572.8,753.1 578.4,752.3ZM530.0,760.5 528.9,762.4 527.8,764.1 519.9,763.6 511.6,763.8 506.9,762.6 504.8,761.4 513.3,761.5 521.4,761.8 524.1,760.3 526.1,759.0 530.0,760.5ZM139.6,755.1 141.9,753.7 148.8,754.3 152.5,755.5 155.4,756.8 156.4,758.5 149.2,759.0 144.3,757.7 142.1,756.4 139.6,755.1ZM299.0,736.0 303.8,736.6 308.3,735.9 306.1,737.3 302.7,738.2 297.5,737.9 293.7,736.6 294.5,735.3 299.0,736.0ZM278.7,735.1 282.5,735.9 288.5,737.4 281.3,736.9 276.1,735.9 278.7,735.1ZM372.1,729.3 376.8,729.8 382.3,730.1 386.4,730.7 390.5,730.2 392.7,732.3 389.8,732.0 385.2,732.2 380.6,732.0 375.5,732.3 371.7,731.6 369.7,730.0 372.1,729.3Z" fill="none" stroke="#000" stroke-width="4.2" stroke-linejoin="round" stroke-linecap="round"/></defs>
<g transform="translate(0,0.0)">
<g clip-path="url(#ax)"><rect x="77.5" y="131.5" width="1333.0" height="658.0" fill="#000096"/>
<path fill="#0000c8" d="M78.5,132.5 1407.5,132.5 1407.5,786.5 78.5,786.5ZM594.5,249.4 534.5,252.0 507.5,254.4 480.5,255.1 474.5,256.8 471.4,258.5 468.0,261.5 465.9,264.5 464.7,267.5 464.5,273.5 465.4,276.5 467.4,279.5 471.5,283.6 477.5,287.3 486.5,290.2 501.5,292.8 525.5,295.8 549.5,300.6 567.5,302.4 585.5,303.1 597.5,302.4 615.5,300.0 627.5,297.5 633.5,295.5 656.6,285.5 662.0,282.5 665.7,279.5 668.2,276.5 670.8,270.5 671.1,267.5 670.5,264.5 669.0,261.5 666.5,258.6 663.5,256.4 657.5,253.8 648.5,252.1 621.5,249.0ZM681.5,160.4 647.3,165.5 635.8,168.5 630.0,171.5 626.8,174.5 625.7,177.5 626.4,180.5 630.5,184.8 633.5,186.8 639.7,189.5 669.5,197.2 681.5,198.6 693.5,197.3 735.5,188.5 747.5,187.9 750.5,187.0 752.8,183.5 752.9,180.5 752.2,177.5 750.8,174.5 748.3,171.5 744.8,168.5 739.7,165.5 732.5,163.3 723.5,162.2 690.5,160.2ZM906.5,225.4 882.5,227.4 852.5,228.9 798.5,237.2 783.5,238.7 765.5,239.3 759.5,241.2 756.5,243.3 753.8,246.5 752.8,249.5 753.0,255.5 754.4,258.5 756.5,261.0 763.1,264.5 774.7,267.5 786.5,269.5 792.5,269.9 801.5,269.3 855.5,262.7 882.5,256.4 916.0,249.5 926.6,246.5 943.3,240.5 950.0,237.5 953.0,234.5 951.6,231.5 942.3,228.5 921.5,225.2Z"/>
<path fill="#0000f6" d="M78.5,132.5 1407.5,132.5 1407.5,786.5 270.5,786.5 264.5,784.6 261.5,784.3 258.5,784.7 254.4,786.5 78.5,786.5ZM738.5,134.5 636.5,138.8 588.5,145.8 565.3,150.5 546.5,155.8 538.1,159.5 528.2,165.5 522.5,170.3 520.3,174.5 520.2,177.5 521.2,180.5 522.5,182.3 523.9,183.5 528.5,185.7 549.5,193.4 564.5,200.5 573.5,205.9 578.3,210.5 579.8,213.5 579.8,216.5 578.4,219.5 575.6,222.5 569.8,225.5 561.5,227.1 546.5,228.6 534.5,229.1 525.0,228.5 519.5,226.6 514.5,222.5 510.8,216.5 507.5,209.1 504.5,206.3 501.5,205.2 495.5,204.1 456.5,200.8 444.5,201.0 420.5,203.2 408.5,204.8 396.5,207.2 388.0,210.5 384.5,213.4 383.4,216.5 383.8,219.5 393.7,237.5 399.5,245.5 405.5,250.9 420.5,261.0 423.8,264.5 427.2,270.5 432.5,284.7 435.5,290.2 441.5,296.9 447.2,300.5 454.3,303.5 501.5,319.8 522.5,329.4 534.5,332.2 537.5,334.1 543.5,340.3 547.4,342.5 555.5,343.9 579.5,344.9 624.5,349.5 630.5,350.8 636.5,353.0 645.5,358.4 651.5,361.2 660.5,362.7 666.5,362.5 675.5,361.1 693.5,355.7 709.5,348.5 738.5,333.1 750.5,328.4 780.5,318.2 800.1,312.5 852.5,300.0 868.9,297.5 918.5,291.7 969.5,286.6 1071.5,281.6 1083.5,279.4 1104.5,273.8 1119.5,269.4 1128.5,265.9 1153.4,252.5 1168.4,243.5 1175.3,237.5 1179.9,231.5 1183.3,225.5 1185.0,219.5 1184.8,216.5 1183.8,213.5 1181.9,210.5 1179.2,207.5 1173.5,203.3 1161.8,198.5 1128.5,188.9 1116.5,187.1 1089.5,184.9 1068.5,181.8 1023.5,180.9 1011.5,180.1 981.5,175.0 967.2,171.5 960.4,168.5 956.6,165.5 954.5,162.5 950.7,153.5 948.4,150.5 945.5,148.0 939.1,144.5 930.5,142.1 894.5,138.6 825.5,136.2ZM786.5,645.5 777.5,646.9 771.5,648.7 767.2,651.5 765.3,654.5 765.1,657.5 766.3,669.5 765.6,687.5 766.0,708.5 765.3,711.5 763.6,714.5 757.4,720.5 755.4,723.5 754.7,726.5 755.3,729.5 756.5,731.1 759.5,731.9 762.5,730.7 766.7,726.5 771.4,717.5 773.7,714.5 804.5,694.6 813.9,687.5 819.7,681.5 824.2,675.5 828.8,666.5 829.2,663.5 829.0,660.5 828.0,657.5 825.9,654.5 821.7,651.5 813.5,648.8 804.5,647.1 792.8,645.5ZM1008.5,588.4 986.9,591.5 933.5,602.4 903.5,607.0 891.0,609.5 884.3,612.5 880.3,615.5 877.6,618.5 875.7,621.5 874.8,624.5 874.8,627.5 875.8,630.5 878.1,633.5 882.3,636.5 885.5,638.0 924.5,652.7 933.5,655.0 939.5,655.4 948.5,655.0 1008.5,648.0 1026.5,646.4 1038.5,645.9 1059.5,647.2 1077.5,649.6 1104.5,659.4 1119.5,663.3 1125.5,664.3 1131.5,664.4 1136.0,663.5 1141.7,660.5 1144.5,657.5 1145.6,654.5 1145.4,651.5 1143.5,647.5 1138.6,642.5 1129.4,636.5 1118.5,630.5 1092.5,618.9 1077.5,609.5 1062.5,602.8 1044.5,596.3 1020.5,589.7 1014.5,588.7ZM969.5,711.0 948.5,716.3 939.5,720.0 935.2,723.5 933.3,726.5 932.9,729.5 934.3,732.5 937.6,735.5 942.4,738.5 954.5,743.9 960.5,745.7 971.3,747.5 984.5,748.8 999.5,750.0 1008.5,750.2 1026.1,747.5 1068.5,737.5 1077.5,734.2 1080.0,732.5 1081.9,729.5 1082.0,726.5 1081.1,723.5 1077.5,718.7 1071.5,715.2 1062.5,712.8 1035.5,710.0 990.5,708.5 981.5,708.9Z"/>
<path fill="#0014ff" d="M78.5,132.5 433.4,132.5 432.5,135.9 429.6,141.5 422.4,150.5 389.5,186.5 382.6,192.5 369.5,200.9 365.3,204.5 363.2,207.5 361.5,213.5 361.7,219.5 362.4,222.5 364.7,228.5 366.5,231.6 371.4,237.5 390.1,255.5 395.4,261.5 399.6,267.5 401.0,270.5 402.6,276.5 403.8,288.5 405.1,294.5 408.3,300.5 413.8,306.5 418.2,309.5 425.3,312.5 452.7,321.5 466.0,327.5 475.1,333.5 489.5,346.6 495.5,350.4 501.5,352.6 516.5,356.2 564.5,362.2 624.5,366.3 630.5,367.6 648.5,373.6 657.5,375.9 705.5,383.0 714.5,383.2 720.5,382.5 756.5,373.8 768.5,372.3 777.5,372.2 789.5,373.3 813.5,378.1 843.5,382.2 854.0,384.5 861.5,387.4 866.2,390.5 869.1,393.5 872.2,399.5 872.8,402.5 873.0,408.5 871.3,417.5 869.3,423.5 865.2,432.5 857.6,444.5 850.3,453.5 831.5,473.3 825.9,480.5 822.2,486.5 819.5,493.4 818.3,501.5 819.5,509.4 822.5,515.6 825.8,519.5 831.5,523.4 837.5,525.5 843.5,526.0 849.5,525.2 856.8,522.5 864.5,518.0 885.5,503.8 894.5,499.8 900.5,498.2 909.5,497.3 921.5,498.3 933.5,500.9 951.5,505.8 981.4,516.5 985.2,519.5 987.0,522.5 987.6,525.5 987.3,528.5 982.7,546.5 983.4,558.5 982.1,564.5 979.8,567.5 975.5,570.1 963.7,573.5 947.3,576.5 885.5,584.3 831.5,592.3 796.2,600.5 774.5,604.7 768.8,606.5 765.4,609.5 763.0,621.5 760.2,627.5 755.2,633.5 745.9,642.5 741.8,648.5 740.1,654.5 739.8,663.5 739.1,666.5 737.4,669.5 734.7,672.5 729.5,676.9 711.5,689.6 699.5,697.0 687.5,701.5 652.1,711.5 609.5,718.8 570.7,726.5 551.5,732.5 531.5,740.4 522.0,741.5 489.5,749.5 480.5,750.7 465.5,749.5 417.5,741.8 399.5,740.8 366.5,741.1 339.5,740.7 309.5,742.1 261.5,743.3 180.5,739.9 142.5,741.5 117.5,743.6 112.3,744.5 104.1,747.5 101.0,750.5 101.2,753.5 103.9,756.5 108.5,758.9 129.5,764.6 138.5,767.9 165.5,780.5 175.5,786.5 78.5,786.5ZM621.5,555.2 609.3,561.5 599.8,567.5 596.0,570.5 593.6,573.5 593.1,576.5 594.5,578.7 597.5,580.1 603.5,579.6 609.5,576.9 613.9,573.5 621.8,564.5 627.5,555.5 624.5,554.3ZM642.5,528.0 639.5,531.5 636.1,540.5 634.5,546.5 636.5,547.6 642.5,545.8 648.5,542.9 651.8,540.5 654.5,536.5 655.0,534.5 654.4,531.5 651.8,528.5 648.5,527.1 645.5,526.9ZM1299.5,156.7 1338.1,132.5 1407.5,132.5 1407.5,786.5 867.4,786.5 957.5,773.4 1074.5,761.4 1089.5,758.7 1119.5,749.1 1125.5,746.0 1131.6,741.5 1137.7,735.5 1142.0,729.5 1143.3,726.5 1143.6,723.5 1142.1,714.5 1145.2,711.5 1153.4,708.5 1161.5,706.6 1216.3,696.5 1224.0,693.5 1227.4,690.5 1229.1,687.5 1229.8,684.5 1229.4,681.5 1227.5,677.8 1222.5,672.5 1209.5,661.8 1202.1,654.5 1197.5,648.8 1185.3,630.5 1180.2,624.5 1176.5,621.5 1167.5,616.6 1155.5,611.6 1095.6,588.5 1090.3,585.5 1086.5,582.5 1080.0,573.5 1074.4,558.5 1071.5,553.9 1062.5,544.0 1036.4,519.5 1032.4,513.5 1031.5,510.5 1031.5,507.5 1032.3,504.5 1035.4,498.5 1047.5,481.1 1053.5,471.1 1059.3,459.5 1061.4,453.5 1063.0,444.5 1064.7,420.5 1065.8,411.5 1074.4,378.5 1076.9,354.5 1077.8,351.5 1079.7,348.5 1083.5,345.6 1086.5,344.4 1101.5,340.5 1104.5,339.1 1107.5,336.7 1110.5,332.2 1115.3,321.5 1120.0,315.5 1137.4,300.5 1152.5,289.3 1165.4,282.5 1218.5,257.6 1246.0,240.5 1257.5,232.3 1261.4,228.5 1264.8,222.5 1266.6,216.5 1269.9,198.5 1272.5,191.3 1276.9,183.5 1287.5,168.4 1293.5,161.5ZM1016.1,669.5 1023.5,668.7 1032.5,668.5 1044.5,669.9 1054.1,672.5 1060.7,675.5 1064.1,678.5 1065.4,681.5 1061.9,684.5 1043.5,687.5 1035.5,687.9 1026.5,687.6 1014.5,685.9 1008.5,683.7 1005.4,681.5 1003.9,678.5 1004.6,675.5 1007.9,672.5ZM1092.4,696.5 1095.5,695.1 1098.5,695.2 1104.5,696.8 1109.8,699.5 1114.2,702.5 1117.7,705.5 1120.0,708.5 1116.5,710.4 1110.5,711.2 1104.5,710.7 1098.5,708.7 1094.8,705.5 1092.8,702.5 1091.9,699.5ZM525.5,746.5 531.5,743.2 534.5,742.5 543.5,743.1 552.5,746.6 558.5,750.8 567.5,759.9 573.5,768.3 578.2,777.5 580.6,786.5 511.5,786.5 510.7,777.5 510.8,771.5 511.8,765.5 513.5,760.3 516.5,755.0 519.5,751.5Z"/>
<path fill="#0040ff" d="M182.0,150.5 201.5,148.6 216.5,148.1 252.5,148.2 282.5,149.2 301.4,150.5 324.0,153.5 335.2,156.5 340.6,159.5 343.1,162.5 344.3,165.5 344.7,171.5 343.1,180.5 337.7,198.5 336.6,204.5 336.5,210.5 338.0,216.5 340.9,222.5 346.4,231.5 352.8,240.5 367.5,258.5 371.4,264.5 372.7,267.5 373.9,273.5 374.0,291.5 374.6,297.5 376.8,303.5 379.0,306.5 388.8,315.5 398.3,321.5 402.5,323.4 408.5,325.0 420.5,325.5 423.5,326.1 426.6,327.5 430.7,330.5 440.7,339.5 441.5,342.6 439.9,345.5 435.5,349.7 432.5,353.6 429.5,358.7 426.9,366.5 426.5,372.5 427.5,375.5 430.1,378.5 432.5,379.9 438.5,381.8 450.5,382.2 471.9,378.5 504.5,371.3 519.5,370.5 534.5,371.4 561.5,374.2 636.5,383.8 669.5,393.2 678.5,397.0 685.5,402.5 702.5,421.3 708.5,425.6 714.5,428.1 720.5,429.2 723.5,429.2 729.5,428.0 741.5,423.5 747.5,421.8 753.5,421.6 756.5,422.5 759.5,424.4 761.7,426.5 763.4,429.5 764.1,432.5 763.7,438.5 761.3,444.5 747.5,466.2 731.1,495.5 723.5,507.6 714.5,519.1 705.5,527.7 702.5,528.9 699.5,528.6 679.6,519.5 669.5,515.9 657.5,512.9 648.5,512.0 642.5,512.4 636.5,514.1 632.5,516.5 629.3,519.5 618.5,532.3 606.9,543.5 596.2,552.5 579.7,564.5 573.2,570.5 570.8,573.5 567.3,579.5 558.4,597.5 556.8,603.5 556.8,615.5 556.1,618.5 553.9,621.5 543.5,631.2 522.5,653.6 516.5,658.1 507.5,662.3 474.5,673.9 465.5,676.3 456.5,677.7 408.5,682.7 375.5,680.9 339.5,680.9 333.2,681.5 325.1,684.5 323.9,687.5 325.8,690.5 329.8,693.5 335.3,696.5 354.5,704.9 360.5,708.3 364.2,711.5 366.0,714.5 365.9,717.5 363.5,720.8 357.0,723.5 313.8,726.5 285.5,726.5 243.5,725.3 186.5,721.7 156.5,720.8 96.2,723.5 87.5,724.3 78.5,726.1 78.5,168.1 102.3,162.5 118.3,159.5ZM1369.3,192.5 1407.5,172.8 1407.5,633.3 1404.5,630.3 1397.8,627.5 1362.5,619.5 1320.5,607.4 1305.5,602.5 1267.3,588.5 1255.1,585.5 1230.5,581.5 1200.5,573.4 1194.5,571.0 1183.9,564.5 1176.5,560.9 1110.5,535.7 1098.5,530.6 1089.5,525.6 1081.8,519.5 1076.5,513.5 1074.5,509.8 1072.6,504.5 1071.5,498.5 1072.3,489.5 1075.0,480.5 1082.5,462.5 1085.4,453.5 1086.5,444.5 1087.7,417.5 1089.9,405.5 1094.5,393.5 1102.9,378.5 1107.5,368.5 1110.9,363.5 1116.5,359.1 1125.5,354.3 1134.5,350.5 1146.5,346.8 1149.5,345.4 1155.5,339.9 1167.5,325.3 1173.5,320.6 1185.5,313.2 1208.8,297.5 1257.5,272.5 1301.2,246.5 1313.2,237.5 1335.5,215.8 1347.5,206.5ZM688.9,570.5 697.0,567.5 699.5,571.3 701.5,594.5 703.6,600.5 706.7,603.5 726.5,615.5 730.6,618.5 733.1,621.5 733.4,624.5 732.5,625.8 731.1,627.5 726.5,630.5 718.2,633.5 714.5,634.2 708.5,634.0 705.5,633.0 701.4,630.5 698.4,627.5 696.3,624.5 693.8,618.5 691.3,609.5 690.5,608.2 687.5,605.9 684.5,604.9 678.5,604.3 666.5,605.4 645.5,609.6 642.5,610.7 639.5,612.8 630.7,621.5 626.4,624.5 615.5,629.6 606.5,632.1 597.5,633.3 588.5,632.6 581.1,630.5 575.6,627.5 572.4,624.5 571.4,621.5 574.4,618.5 583.2,615.5 624.5,607.6 630.5,605.9 633.5,603.8 635.5,600.5 638.9,588.5 641.7,582.5 644.1,579.5 648.5,576.2 651.5,574.9 657.5,573.6 681.5,572.4ZM1404.6,642.5 1407.5,639.7 1407.5,722.9 1389.5,722.2 1332.5,724.3 1323.5,722.8 1320.5,721.6 1317.5,719.6 1314.5,716.7 1311.7,711.5 1309.8,705.5 1308.0,696.5 1307.4,687.5 1308.4,681.5 1310.9,675.5 1313.1,672.5 1316.4,669.5 1321.4,666.5 1332.5,661.3 1344.5,656.4 1353.5,653.5 1368.5,650.2 1395.6,645.5ZM1258.4,723.5 1275.5,722.1 1296.5,721.5 1308.5,722.4 1314.5,724.3 1320.5,727.9 1323.5,730.5 1326.5,733.8 1329.5,738.4 1332.5,744.8 1334.0,750.5 1333.8,756.5 1332.5,759.5 1329.5,762.7 1326.5,764.8 1320.5,767.7 1314.5,769.8 1305.5,771.9 1266.5,778.2 1248.5,779.4 1194.5,778.6 1191.5,779.1 1188.5,780.5 1187.2,783.5 1187.3,786.5 1143.6,786.5 1152.5,782.6 1159.5,777.5 1162.3,774.5 1166.2,768.5 1170.1,759.5 1173.5,753.5 1175.9,750.5 1179.5,747.2 1188.9,741.5 1201.8,735.5 1212.5,731.7 1221.9,729.5Z"/>
<path fill="#0068ff" d="M190.4,177.5 198.5,176.1 207.5,175.3 219.5,175.0 231.5,175.4 246.5,178.1 253.3,180.5 258.0,183.5 261.0,186.5 264.4,192.5 270.5,219.3 274.8,231.5 277.9,237.5 282.5,242.6 287.6,246.5 312.5,260.6 318.5,265.6 321.5,269.3 323.8,273.5 328.0,291.5 330.8,297.5 340.3,309.5 354.5,324.0 360.5,328.3 366.5,331.1 369.5,331.9 378.5,332.2 384.5,334.0 402.5,346.6 404.1,348.5 405.5,351.5 406.0,354.5 405.5,375.5 406.3,378.5 407.8,381.5 411.5,384.9 417.1,387.5 423.5,389.0 438.5,390.3 450.5,389.7 507.5,381.2 516.5,380.9 540.5,382.1 579.5,387.0 624.0,396.5 634.9,399.5 657.5,408.1 666.5,413.0 674.3,420.5 691.7,441.5 695.5,447.5 698.0,453.5 699.6,459.5 700.4,465.5 700.4,468.5 699.3,474.5 695.5,483.5 691.0,489.5 687.8,492.5 681.5,496.8 675.5,499.4 666.5,501.1 636.5,503.3 630.5,504.6 624.9,507.5 621.4,510.5 608.6,525.5 596.9,537.5 567.5,560.7 555.5,572.1 546.5,577.7 525.7,588.5 521.2,591.5 518.0,594.5 514.3,600.5 507.4,618.5 503.9,624.5 498.5,631.0 492.5,635.5 485.6,639.5 467.0,648.5 455.9,651.5 417.5,658.3 408.5,658.9 391.0,657.5 333.5,649.6 312.5,647.6 246.5,648.5 186.5,650.6 114.5,648.6 96.5,650.1 90.0,651.5 95.8,654.5 105.5,656.4 120.5,661.1 135.5,667.8 147.5,674.1 153.2,678.5 156.0,681.5 159.2,687.5 159.3,690.5 157.8,693.5 154.7,696.5 149.7,699.5 141.9,702.5 117.0,708.5 105.5,710.6 93.5,711.7 78.5,712.1 78.5,242.6 89.9,246.5 117.5,253.2 159.5,265.3 169.3,267.5 192.5,271.3 210.5,273.0 222.5,272.9 246.4,270.5 255.8,267.5 259.1,264.5 260.6,261.5 260.1,258.5 258.5,257.2 255.5,256.3 243.5,255.0 237.5,252.1 213.1,231.5 198.5,221.1 177.7,207.5 171.5,202.6 168.5,199.0 167.1,195.5 167.0,192.5 167.8,189.5 169.8,186.5 173.4,183.5 177.5,181.4ZM1403.5,243.5 1407.5,241.5 1407.5,613.4 1344.5,590.9 1329.5,586.4 1305.5,581.1 1236.5,569.6 1231.5,567.5 1226.5,564.5 1200.5,545.1 1191.5,539.2 1185.5,536.1 1167.5,529.6 1119.5,516.3 1113.5,513.7 1108.3,510.5 1101.6,504.5 1098.2,498.5 1097.2,495.5 1096.9,489.5 1098.6,480.5 1105.9,456.5 1106.8,447.5 1106.9,426.5 1108.8,414.5 1112.4,405.5 1118.2,396.5 1132.2,378.5 1140.6,369.5 1146.5,365.2 1158.5,358.8 1167.5,351.2 1173.5,347.2 1179.5,345.5 1188.5,344.5 1194.0,342.5 1212.5,332.7 1232.3,324.5 1260.5,307.3 1308.5,283.3 1359.5,260.2ZM1370.9,666.5 1407.5,658.4 1407.5,710.2 1384.9,708.5 1371.5,705.8 1362.9,702.5 1357.2,699.5 1353.2,696.5 1350.8,693.5 1348.6,687.5 1348.6,684.5 1349.6,681.5 1353.5,676.5 1358.1,672.5 1362.9,669.5Z"/>
<path fill="#0094ff" d="M78.5,629.6 78.5,260.7 87.5,263.4 135.5,280.5 177.5,293.4 231.5,303.1 282.5,313.0 291.5,315.0 300.5,317.9 327.5,330.2 357.5,347.1 366.5,350.4 378.5,352.9 382.3,354.5 385.7,357.5 387.2,360.5 390.2,375.5 393.9,384.5 396.1,387.5 399.5,390.5 404.7,393.5 408.5,394.8 417.5,396.0 438.5,396.0 450.5,395.0 468.5,392.7 489.5,391.3 507.5,389.1 516.5,388.9 546.5,391.0 567.5,395.2 579.5,398.5 589.4,402.5 601.7,408.5 611.1,414.5 621.5,422.4 627.5,425.8 648.5,431.1 654.5,433.7 657.5,435.6 667.1,444.5 673.7,453.5 674.9,456.5 676.1,462.5 675.9,468.5 675.2,471.5 672.0,477.5 666.8,483.5 662.9,486.5 657.5,489.3 651.5,490.8 642.5,492.2 621.5,493.3 615.5,494.5 609.5,497.5 603.5,504.5 594.8,519.5 587.7,528.5 579.5,535.9 561.5,549.9 545.2,564.5 537.5,570.0 525.5,575.3 513.5,578.7 507.5,582.5 501.5,587.3 495.5,590.8 462.5,601.2 450.5,603.0 420.5,604.4 402.2,606.5 364.6,612.5 315.5,623.8 270.5,632.2 240.5,636.5 210.5,639.4 183.5,640.7 156.5,639.4 129.5,637.1ZM1368.5,275.4 1407.5,260.8 1407.5,599.1 1387.6,591.5 1367.6,582.5 1358.8,576.5 1356.3,573.5 1354.7,570.5 1352.8,564.5 1350.5,561.5 1342.8,555.5 1328.2,546.5 1301.3,531.5 1254.3,507.5 1227.5,495.5 1212.5,489.6 1203.5,486.7 1194.5,485.2 1179.5,484.8 1170.5,483.6 1161.5,481.2 1155.5,478.2 1151.3,474.5 1146.8,468.5 1137.6,450.5 1133.3,438.5 1132.1,432.5 1131.6,426.5 1131.8,423.5 1133.4,417.5 1136.2,411.5 1140.1,405.5 1175.1,363.5 1179.5,359.9 1191.5,354.5 1203.5,347.0 1212.5,343.2 1221.5,341.7 1233.5,343.4 1239.5,342.5 1263.5,330.5 1282.9,318.5 1304.3,306.5 1350.5,283.4ZM83.0,675.5 90.5,675.8 96.5,677.4 99.5,678.9 102.9,681.5 105.1,684.5 105.6,687.5 104.5,690.5 101.3,693.5 93.5,696.3 84.5,696.7 78.5,694.9 78.5,676.5ZM1398.5,676.9 1407.5,675.4 1407.5,693.3 1401.5,693.3 1395.5,692.0 1392.0,690.5 1388.8,687.5 1388.3,684.5 1389.9,681.5 1392.5,679.6Z"/>
<path fill="#00c0ff" d="M78.5,615.0 78.5,275.5 84.5,276.9 101.0,282.5 141.5,302.9 156.1,309.5 164.0,312.5 176.0,315.5 219.5,324.3 284.8,339.5 294.5,342.6 309.5,350.5 318.5,354.0 360.5,364.3 367.7,366.5 372.5,368.9 375.5,371.3 378.5,374.8 387.5,388.6 391.8,393.5 399.5,399.0 405.5,401.4 414.5,402.5 438.5,401.4 471.5,398.4 489.5,398.0 513.5,396.0 543.5,398.4 555.5,401.5 567.5,405.9 577.1,411.5 583.8,417.5 588.2,423.5 590.3,429.5 590.3,435.5 589.4,438.5 581.6,453.5 579.6,459.5 579.3,462.5 580.6,468.5 587.0,483.5 588.6,492.5 588.7,498.5 587.9,504.5 585.0,513.5 580.9,519.5 573.5,526.9 546.9,546.5 531.5,559.3 525.5,563.1 513.5,567.9 510.5,569.7 498.5,580.2 495.5,582.0 489.5,583.9 468.5,583.8 444.5,588.6 414.5,590.3 405.5,591.4 378.5,596.6 339.5,605.6 286.2,615.5 246.5,623.5 222.5,627.5 195.5,630.8 180.5,631.0 159.5,630.5 138.5,628.6 120.5,625.8 108.5,623.4ZM1371.5,291.7 1407.5,277.1 1407.5,581.1 1402.0,576.5 1393.4,567.5 1389.8,564.5 1385.6,561.5 1375.1,555.5 1320.5,529.8 1257.0,495.5 1215.5,474.3 1200.5,467.8 1182.5,463.4 1176.5,460.7 1170.5,455.1 1165.4,447.5 1161.4,438.5 1160.3,432.5 1161.1,423.5 1164.2,414.5 1186.0,375.5 1189.8,369.5 1195.0,363.5 1201.6,357.5 1205.9,354.5 1212.5,351.5 1218.5,350.2 1224.5,350.5 1230.5,352.9 1236.5,352.5 1254.5,345.3 1266.5,344.2 1273.3,342.5 1293.6,333.5 1317.8,318.5 1353.5,299.9ZM636.9,459.5 639.5,457.9 642.5,458.0 644.9,459.5 646.3,462.5 645.5,466.1 642.5,468.6 639.5,468.7 636.5,466.8 635.7,465.5 635.4,462.5Z"/>
<path fill="#02e8f4" d="M78.5,596.8 78.5,297.1 81.5,298.2 87.5,301.1 103.8,312.5 108.8,315.5 115.4,318.5 125.3,321.5 183.5,336.3 216.5,343.7 240.5,350.1 267.5,359.7 294.5,372.5 300.5,374.5 312.5,376.2 348.5,377.4 357.5,378.6 363.5,380.1 369.5,382.6 375.5,386.5 385.3,396.5 392.6,402.5 399.5,406.3 405.5,408.2 414.5,409.0 447.5,405.9 459.5,405.9 477.5,404.4 489.5,405.0 513.5,403.2 525.5,404.0 537.5,405.4 548.9,408.5 558.5,413.7 563.0,417.5 565.3,420.5 566.7,423.5 567.3,426.5 567.1,429.5 565.0,435.5 560.7,441.5 555.5,446.2 537.9,459.5 534.8,462.5 532.8,465.5 531.9,468.5 532.4,471.5 534.6,474.5 539.3,477.5 558.5,484.3 564.5,487.3 567.5,489.5 570.5,493.0 573.0,498.5 573.3,504.5 572.5,507.5 569.0,513.5 563.1,519.5 540.5,534.8 531.5,541.5 513.5,556.2 498.3,573.5 494.0,576.5 489.5,578.2 483.5,578.4 471.5,576.5 467.4,576.5 438.5,581.2 411.5,581.9 378.5,585.0 369.5,586.8 333.5,595.9 288.5,604.1 231.5,615.4 195.5,621.2 162.5,621.1 144.5,619.8 117.5,614.3 101.7,609.5 89.5,603.5ZM1370.6,315.5 1407.5,298.4 1407.5,561.4 1350.5,536.2 1323.5,523.1 1293.5,507.3 1242.5,477.8 1209.6,459.5 1194.3,450.5 1190.1,447.5 1185.4,441.5 1184.2,438.5 1183.4,432.5 1184.2,426.5 1185.5,422.3 1195.0,396.5 1202.8,378.5 1207.8,369.5 1210.3,366.5 1215.5,362.4 1218.5,361.2 1221.5,360.8 1230.5,361.4 1233.5,361.0 1239.5,359.1 1248.5,354.6 1254.5,352.5 1257.5,352.1 1263.5,352.8 1266.5,352.6 1272.5,351.4 1284.5,347.7 1296.5,346.3 1299.9,345.5 1320.5,335.3 1329.5,332.6 1341.5,330.1 1348.3,327.5Z"/>
<path fill="#26ffd1" d="M78.5,559.8 78.5,326.7 87.5,329.5 105.5,332.3 120.5,335.4 173.0,348.5 207.5,356.0 228.5,361.2 240.5,364.9 258.5,371.5 289.4,384.5 298.1,387.5 309.5,389.2 348.5,391.4 360.5,393.3 366.5,395.3 372.5,398.2 387.5,408.0 393.5,411.3 399.5,413.7 405.5,415.3 414.5,415.6 426.5,413.7 447.5,412.2 462.5,412.3 477.5,411.3 489.5,411.7 507.5,410.8 520.4,411.5 535.5,414.5 542.3,417.5 546.5,421.4 547.7,423.5 548.4,426.5 548.1,429.5 546.9,432.5 542.3,438.5 535.5,444.5 512.7,459.5 506.0,465.5 503.8,468.5 501.5,473.5 500.9,477.5 501.2,480.5 502.6,483.5 504.5,485.5 507.5,487.0 531.5,489.6 543.5,492.4 549.5,494.7 554.8,498.5 556.3,501.5 556.2,504.5 554.6,507.5 551.8,510.5 537.5,520.7 528.5,528.7 518.1,540.5 507.5,551.2 499.2,564.5 496.8,567.5 492.5,571.5 487.5,573.5 480.5,573.6 474.5,572.0 468.5,571.6 435.5,576.1 414.5,576.4 393.5,577.7 375.5,577.6 207.0,609.5 195.5,611.3 171.5,611.7 156.5,611.0 144.5,608.8 126.3,603.5 118.4,600.5 112.4,597.5 103.8,591.5 100.6,588.5 96.7,582.5 93.1,570.5 90.5,565.3 85.1,561.5ZM1403.7,330.5 1407.5,328.4 1407.5,554.0 1353.5,531.3 1332.5,520.7 1302.5,504.4 1223.0,456.5 1215.2,450.5 1212.4,447.5 1208.1,441.5 1206.7,438.5 1205.8,432.5 1207.5,423.5 1211.0,414.5 1221.1,393.5 1228.3,381.5 1233.4,375.5 1240.5,369.5 1249.3,363.5 1254.5,361.4 1269.5,359.4 1284.5,354.6 1296.5,353.9 1299.5,353.3 1320.5,344.5 1326.5,343.8 1335.5,345.5 1341.5,345.7 1359.5,340.8 1386.5,336.0 1396.1,333.5Z"/>
<path fill="#49ffad" d="M78.5,339.5 93.7,342.5 138.5,349.5 177.5,356.9 201.5,362.1 222.5,367.8 234.5,371.7 297.5,395.9 309.5,398.4 348.5,403.6 360.5,406.1 369.5,409.0 390.5,418.1 402.5,421.8 411.5,422.7 438.5,420.3 492.5,419.1 504.5,420.1 510.5,422.1 513.2,423.5 516.0,426.5 516.9,429.5 516.2,432.5 514.2,435.5 511.1,438.5 498.5,448.2 490.9,456.5 487.8,462.5 485.7,468.5 483.7,477.5 483.3,483.5 483.7,486.5 486.2,492.5 492.2,501.5 498.5,507.2 512.9,516.5 515.1,519.5 515.7,522.5 515.4,525.5 513.5,531.5 510.3,537.5 501.5,548.9 496.5,558.5 494.4,561.5 489.5,565.9 486.5,567.7 483.5,568.5 468.5,567.5 444.5,570.9 432.5,571.8 393.5,572.9 378.5,571.9 375.5,572.2 354.5,575.3 338.6,576.5 288.5,584.8 225.5,592.2 200.6,597.5 192.5,598.6 180.5,599.0 165.5,598.5 158.6,597.5 150.7,594.5 146.7,591.5 146.4,588.5 147.5,587.5 150.8,585.5 174.5,580.4 183.5,577.1 189.8,573.5 192.1,570.5 191.7,567.5 189.5,564.5 181.8,558.5 176.2,555.5 165.7,552.5 147.3,549.5 111.5,546.1 87.5,541.7 78.5,541.4ZM1395.0,342.5 1407.5,338.8 1407.5,547.7 1368.5,532.0 1353.5,525.3 1331.3,513.5 1295.8,492.5 1250.0,462.5 1237.2,453.5 1233.7,450.5 1228.8,444.5 1226.0,438.5 1225.5,435.5 1225.7,432.5 1227.1,426.5 1230.9,417.5 1237.8,405.5 1245.5,393.9 1255.1,381.5 1261.0,375.5 1264.8,372.5 1275.2,366.5 1284.5,362.4 1296.5,360.3 1302.5,358.8 1320.5,351.1 1326.5,350.5 1335.5,352.5 1338.5,352.3 1344.5,351.1 1359.5,346.6 1377.7,345.5Z"/>
<path fill="#6aff8d" d="M1374.5,351.0 1407.5,344.3 1407.5,541.8 1371.5,527.4 1348.3,516.5 1322.4,501.5 1294.6,483.5 1274.4,468.5 1257.0,453.5 1251.9,447.5 1250.0,444.5 1247.6,438.5 1246.8,432.5 1247.8,426.5 1249.9,420.5 1253.0,414.5 1258.9,405.5 1266.5,395.6 1275.5,385.8 1282.7,378.5 1290.5,372.4 1320.5,358.3 1326.5,357.4 1332.5,357.7 1338.5,357.2 1359.5,351.1ZM78.5,534.2 78.5,346.4 105.5,350.8 132.5,353.6 180.5,362.0 204.5,368.5 228.5,376.2 297.5,403.1 306.5,405.5 360.5,416.8 399.5,428.2 411.5,429.8 438.5,429.8 459.5,431.2 477.5,431.3 484.6,432.5 487.3,435.5 486.8,438.5 479.1,450.5 477.5,454.1 476.2,459.5 474.2,480.5 474.7,486.5 476.8,492.5 484.0,504.5 499.1,522.5 500.9,525.5 502.2,531.5 501.2,537.5 499.9,540.5 492.5,553.8 489.5,557.6 484.0,561.5 480.5,562.7 465.5,563.7 444.5,566.7 435.5,567.5 396.5,568.4 375.5,567.9 354.5,570.2 339.5,570.6 297.5,576.4 273.5,577.1 255.5,575.5 243.5,572.7 237.5,570.2 214.7,558.5 188.0,549.5 177.5,546.7 155.0,543.5 117.5,539.2 87.5,534.7Z"/>
<path fill="#8dff6a" d="M1374.5,355.0 1407.5,348.7 1407.5,536.3 1377.5,524.3 1354.4,513.5 1328.8,498.5 1306.3,483.5 1287.2,468.5 1274.6,456.5 1269.8,450.5 1266.1,444.5 1264.9,441.5 1263.7,435.5 1263.8,429.5 1265.4,423.5 1270.1,414.5 1276.4,405.5 1287.6,393.5 1296.5,385.0 1314.5,372.0 1324.3,366.5 1341.5,361.8 1356.5,356.5 1362.5,355.4ZM78.5,529.1 78.5,351.7 102.5,354.6 126.5,356.4 144.5,358.8 177.5,364.6 198.5,371.1 216.5,377.4 288.5,406.6 300.5,410.9 396.5,434.6 408.5,436.7 435.5,439.6 442.7,441.5 450.5,444.6 455.7,447.5 459.1,450.5 462.6,456.5 464.8,462.5 466.1,468.5 467.5,486.5 469.3,492.5 477.3,507.5 488.3,522.5 492.0,528.5 493.2,534.5 493.0,537.5 491.0,543.5 487.3,549.5 484.6,552.5 480.7,555.5 477.5,556.9 471.5,558.3 447.5,561.9 432.5,563.0 375.5,563.6 339.5,565.7 306.5,569.6 291.5,570.2 267.5,568.6 252.5,565.4 237.5,560.5 213.5,550.7 180.5,541.9 87.5,529.8Z"/>
<path fill="#b1ff46" d="M1396.1,354.5 1407.5,352.8 1407.5,530.9 1386.2,522.5 1360.5,510.5 1340.0,498.5 1317.8,483.5 1302.7,471.5 1293.1,462.5 1287.7,456.5 1281.5,447.5 1279.1,441.5 1278.0,435.5 1278.3,429.5 1280.1,423.5 1284.5,415.2 1289.4,408.5 1297.1,399.5 1303.1,393.5 1323.5,377.9 1332.8,372.5 1356.5,362.4 1362.5,360.7 1374.5,359.1ZM78.5,524.8 78.5,355.9 132.5,359.8 147.5,361.8 177.5,367.3 204.5,377.1 270.4,405.5 300.5,417.6 345.5,430.0 369.5,435.9 399.5,442.4 429.5,446.8 438.5,449.8 444.5,453.3 448.7,456.5 451.5,459.5 455.1,465.5 458.2,474.5 461.5,489.5 463.9,495.5 470.4,507.5 479.7,522.5 482.6,528.5 483.7,534.5 482.3,540.5 478.3,546.5 474.5,549.5 471.5,550.9 465.5,552.8 444.5,556.8 435.5,557.4 378.5,558.5 348.5,559.8 306.5,563.9 294.5,564.3 273.5,562.7 261.5,560.9 240.5,555.0 213.5,544.9 180.5,537.2Z"/>
<path fill="#d1ff26" d="M1389.6,360.5 1407.5,357.3 1407.5,525.6 1385.4,516.5 1362.5,505.1 1342.3,492.5 1326.3,480.5 1313.0,468.5 1302.7,456.5 1298.9,450.5 1295.9,444.5 1293.8,435.5 1294.2,429.5 1295.9,423.5 1298.6,417.5 1302.2,411.5 1308.5,403.7 1315.5,396.5 1322.6,390.5 1330.8,384.5 1345.5,375.5 1362.5,367.9ZM78.5,520.9 78.5,359.7 132.5,362.2 147.5,364.1 177.5,369.7 201.5,379.5 219.5,389.1 234.5,396.1 299.6,423.5 366.5,443.6 396.5,449.6 423.5,453.6 432.5,456.5 437.3,459.5 441.5,463.2 444.5,466.6 447.3,471.5 454.8,492.5 470.9,522.5 472.5,528.5 472.6,531.5 470.8,537.5 468.5,540.6 462.5,544.7 450.5,548.8 441.5,550.6 351.5,553.6 303.5,558.3 294.5,558.5 270.5,556.4 261.5,554.9 240.5,549.1 213.5,539.5 183.5,533.2Z"/>
<path fill="#f4f802" d="M78.5,363.5 132.5,364.5 144.5,365.6 174.5,371.1 189.5,377.1 198.8,381.5 204.1,384.5 216.5,392.9 228.5,399.4 297.5,428.3 366.5,452.4 393.5,458.0 417.5,461.7 426.5,464.6 431.9,468.5 437.0,474.5 440.2,480.5 446.8,495.5 456.8,513.5 460.1,522.5 460.3,528.5 459.4,531.5 457.5,534.5 453.5,538.0 447.5,541.1 438.5,543.5 429.5,544.3 351.5,547.0 303.5,552.1 294.5,552.3 270.5,550.4 261.5,548.9 240.5,543.3 213.5,533.9 183.5,528.3 78.5,517.1ZM1382.1,369.5 1407.5,363.0 1407.5,520.4 1389.5,512.4 1369.2,501.5 1355.2,492.5 1340.0,480.5 1328.5,468.5 1322.2,459.5 1316.3,447.5 1314.5,441.5 1313.7,435.5 1314.6,426.5 1316.6,420.5 1319.7,414.5 1328.6,402.5 1338.5,393.5 1350.7,384.5 1367.5,375.5Z"/>
<path fill="#ffd000" d="M78.5,367.3 126.5,366.4 141.5,367.3 156.5,369.7 174.5,373.5 189.5,379.8 198.5,384.5 216.5,398.7 228.5,405.6 243.5,412.1 270.5,422.3 309.5,438.5 351.5,457.8 360.5,461.4 369.5,464.1 407.8,471.5 417.1,474.5 421.3,477.5 426.6,483.5 430.2,489.5 442.6,513.5 444.8,519.5 445.1,522.5 444.8,525.5 443.4,528.5 440.7,531.5 435.5,534.4 426.5,536.2 408.5,537.5 351.5,539.1 327.5,541.4 303.5,544.7 288.5,545.0 270.5,543.9 258.5,541.9 241.8,537.5 213.5,527.9 189.5,523.9 174.5,522.1 123.5,518.0 78.5,513.3ZM1399.6,372.5 1407.5,370.0 1407.5,514.9 1398.2,510.5 1382.7,501.5 1369.9,492.5 1363.0,486.5 1354.6,477.5 1350.6,471.5 1346.7,462.5 1345.5,456.5 1346.0,447.5 1349.6,432.5 1351.7,414.5 1353.6,408.5 1356.6,402.5 1363.5,393.5 1370.9,387.5 1385.6,378.5Z"/>
<path fill="#ffab00" d="M104.2,369.5 120.5,368.8 141.5,369.4 156.5,371.9 174.5,376.2 189.5,382.8 197.6,387.5 216.5,405.7 225.5,411.9 234.5,415.9 267.5,426.5 281.9,432.5 306.0,444.5 314.6,450.5 319.5,456.5 320.8,459.5 321.1,462.5 320.5,465.5 318.7,468.5 315.5,471.3 312.5,473.0 294.5,480.1 283.3,486.5 279.8,489.5 277.4,492.5 275.8,495.5 275.2,498.5 276.3,504.5 280.3,510.5 288.5,516.9 301.1,522.5 303.9,525.5 301.4,528.5 295.1,531.5 281.4,534.5 264.5,534.7 258.5,533.9 249.5,531.8 222.5,522.9 210.5,520.3 180.5,517.4 123.5,514.2 87.5,510.7 78.5,509.4 78.5,371.7ZM1393.3,384.5 1407.5,377.7 1407.5,508.5 1400.0,504.5 1391.3,498.5 1381.6,489.5 1375.0,480.5 1372.7,474.5 1372.1,471.5 1372.5,465.5 1374.5,460.5 1384.7,447.5 1386.4,444.5 1387.3,441.5 1387.3,438.5 1386.5,435.5 1378.4,423.5 1375.4,417.5 1374.1,411.5 1374.1,408.5 1375.5,402.5 1379.1,396.5 1385.2,390.5ZM374.1,492.5 381.5,490.8 393.5,490.1 402.5,492.1 408.5,495.0 414.5,500.0 419.6,507.5 422.3,513.5 422.8,516.5 422.3,519.5 420.2,522.5 414.5,525.0 408.5,525.9 399.5,526.1 384.5,525.8 372.5,524.7 357.0,522.5 347.4,519.5 345.3,516.5 346.1,513.5 351.1,507.5 363.5,497.5 369.5,494.3Z"/>
<path fill="#ff8200" d="M107.3,372.5 129.5,371.5 144.5,372.2 165.5,376.5 172.3,378.5 180.5,382.0 191.3,387.5 195.7,390.5 198.9,393.5 205.9,402.5 213.5,414.3 216.5,418.2 219.5,421.0 222.5,422.8 228.5,425.1 252.5,429.4 264.5,432.3 279.3,438.5 284.6,441.5 288.7,444.5 291.6,447.5 293.6,450.5 294.2,453.5 293.5,456.5 291.5,459.5 283.9,465.5 273.5,471.6 261.2,477.5 256.4,480.5 252.8,483.5 248.1,489.5 241.7,504.5 239.2,507.5 234.5,509.8 228.5,510.7 201.5,512.1 150.5,512.0 111.5,509.5 87.5,506.7 78.5,504.9 78.5,377.1 85.4,375.5ZM1402.7,390.5 1407.5,387.8 1407.5,425.7 1396.0,414.5 1393.8,411.5 1392.5,408.5 1392.1,405.5 1392.6,402.5 1394.0,399.5 1398.5,393.9ZM1398.5,469.0 1407.5,460.8 1407.5,499.3 1402.2,495.5 1396.7,489.5 1394.8,486.5 1393.0,480.5 1393.1,477.5 1395.5,472.3Z"/>
<path fill="#ff5900" d="M114.9,375.5 135.5,374.6 147.4,375.5 162.5,378.6 171.3,381.5 177.9,384.5 188.5,390.5 192.3,393.5 195.1,396.5 200.5,405.5 208.9,426.5 210.9,429.5 216.5,434.7 222.5,437.7 228.5,439.2 246.5,440.0 255.5,441.5 258.5,442.4 263.7,444.5 267.3,447.5 268.2,450.5 267.5,452.0 266.7,453.5 261.5,456.9 254.5,459.5 237.5,464.0 231.5,466.4 228.5,469.0 225.5,474.2 220.8,489.5 217.0,495.5 213.8,498.5 208.3,501.5 198.6,504.5 183.5,506.6 171.5,507.5 153.5,508.0 138.5,507.6 108.5,505.3 85.5,501.5 78.5,498.9 78.5,461.7 90.9,453.5 93.9,450.5 96.0,447.5 96.9,444.5 96.5,441.3 95.1,438.5 92.6,435.5 87.5,431.4 78.5,425.9 78.5,383.8 84.4,381.5 93.5,379.3Z"/>
<path fill="#ff3400" d="M131.3,378.5 141.5,378.5 150.5,379.6 160.1,381.5 168.5,384.4 174.6,387.5 183.5,393.5 186.5,396.5 190.5,402.5 193.7,411.5 194.9,420.5 193.9,429.5 190.6,441.5 190.1,450.5 191.6,456.5 198.6,471.5 200.6,480.5 199.9,486.5 198.7,489.5 195.5,493.3 189.5,497.2 180.5,500.5 165.5,502.8 147.5,503.6 126.5,502.9 111.5,501.4 93.5,496.9 88.9,495.5 84.5,493.2 80.7,489.5 79.3,486.5 78.8,483.5 79.2,480.5 80.5,477.5 83.0,474.5 86.5,471.5 102.5,460.6 107.6,456.5 112.7,450.5 113.9,447.5 114.1,444.5 113.5,441.5 112.0,438.5 107.1,432.5 100.6,426.5 88.2,417.5 81.3,411.5 78.5,406.8 78.6,396.5 80.5,393.5 84.0,390.5 89.7,387.5 96.5,385.1 114.5,380.4Z"/>
<path fill="#f60b00" d="M122.2,384.5 129.5,383.4 138.5,383.0 150.5,384.0 159.5,386.0 165.5,388.3 173.6,393.5 176.7,396.5 180.8,402.5 182.1,405.5 183.7,411.5 183.7,417.5 183.2,420.5 180.5,427.4 170.0,444.5 168.5,450.5 169.9,456.5 178.0,471.5 180.3,477.5 180.8,480.5 180.7,483.5 179.7,486.5 177.6,489.5 173.5,492.5 166.5,495.5 156.5,497.4 144.5,498.2 129.5,498.1 120.5,497.0 111.5,495.0 105.6,492.5 100.9,489.5 98.5,486.5 98.1,483.5 99.4,480.5 102.3,477.5 120.5,464.7 126.9,459.5 131.0,453.5 131.8,450.5 131.8,447.5 129.5,441.5 124.8,435.5 97.4,411.5 95.0,408.5 93.5,405.5 93.0,402.5 93.5,399.5 96.5,395.5 102.5,391.4 111.8,387.5Z"/>
<path fill="#c40000" d="M123.6,390.5 129.5,389.0 135.5,388.3 147.5,389.2 156.5,391.2 161.4,393.5 165.5,396.4 168.6,399.5 170.7,402.5 172.9,408.5 173.2,414.5 172.5,417.5 171.4,420.5 169.4,423.5 165.5,427.5 159.5,432.0 153.5,434.7 150.5,435.2 147.5,435.0 141.5,433.2 132.5,428.2 123.5,422.3 117.5,417.5 111.6,411.5 109.6,408.5 108.4,405.5 108.3,402.5 109.6,399.5 112.3,396.5 116.6,393.5ZM137.0,471.5 144.5,469.8 147.5,469.9 152.4,471.5 156.1,474.5 157.9,477.5 158.4,480.5 157.6,483.5 153.5,487.1 144.5,489.5 132.3,489.5 129.5,488.8 125.0,486.5 123.6,483.5 124.6,480.5 127.2,477.5 131.0,474.5Z"/>
<path fill="#960000" d="M131.7,396.5 138.5,395.7 144.5,396.3 150.5,398.0 153.7,399.5 157.1,402.5 159.1,405.5 160.1,408.5 160.2,411.5 159.2,414.5 156.8,417.5 153.5,419.7 150.5,420.7 147.5,421.0 142.7,420.5 138.5,419.3 129.6,414.5 126.4,411.5 124.4,408.5 123.5,405.5 124.1,402.5 126.4,399.5Z"/>
<use href="#coast"/></g>
<rect x="78.5" y="132.5" width="1331.0" height="656.0" fill="none" stroke="#000" stroke-width="3.3"/>
<text x="742.8" y="108.3" font-size="51.6" text-anchor="middle" textLength="975.3" lengthAdjust="spacingAndGlyphs" xml:space="preserve">Combined (GIM), 2016-10-27 00:00 UT</text>
<rect x="78.50" y="831.5" width="56.06" height="66.0" fill="#000096"/>
<rect x="133.96" y="831.5" width="56.06" height="66.0" fill="#0000c8"/>
<rect x="189.42" y="831.5" width="56.06" height="66.0" fill="#0000f6"/>
<rect x="244.88" y="831.5" width="56.06" height="66.0" fill="#0014ff"/>
<rect x="300.33" y="831.5" width="56.06" height="66.0" fill="#0040ff"/>
<rect x="355.79" y="831.5" width="56.06" height="66.0" fill="#0068ff"/>
<rect x="411.25" y="831.5" width="56.06" height="66.0" fill="#0094ff"/>
<rect x="466.71" y="831.5" width="56.06" height="66.0" fill="#00c0ff"/>
<rect x="522.17" y="831.5" width="56.06" height="66.0" fill="#02e8f4"/>
<rect x="577.62" y="831.5" width="56.06" height="66.0" fill="#26ffd1"/>
<rect x="633.08" y="831.5" width="56.06" height="66.0" fill="#49ffad"/>
<rect x="688.54" y="831.5" width="56.06" height="66.0" fill="#6aff8d"/>
<rect x="744.00" y="831.5" width="56.06" height="66.0" fill="#8dff6a"/>
<rect x="799.46" y="831.5" width="56.06" height="66.0" fill="#b1ff46"/>
<rect x="854.92" y="831.5" width="56.06" height="66.0" fill="#d1ff26"/>
<rect x="910.38" y="831.5" width="56.06" height="66.0" fill="#f4f802"/>
<rect x="965.83" y="831.5" width="56.06" height="66.0" fill="#ffd000"/>
<rect x="1021.29" y="831.5" width="56.06" height="66.0" fill="#ffab00"/>
<rect x="1076.75" y="831.5" width="56.06" height="66.0" fill="#ff8200"/>
<rect x="1132.21" y="831.5" width="56.06" height="66.0" fill="#ff5900"/>
<rect x="1187.67" y="831.5" width="56.06" height="66.0" fill="#ff3400"/>
<rect x="1243.12" y="831.5" width="56.06" height="66.0" fill="#f60b00"/>
<rect x="1298.58" y="831.5" width="56.06" height="66.0" fill="#c40000"/>
<rect x="1354.04" y="831.5" width="55.46" height="66.0" fill="#960000"/>
<rect x="78.5" y="831.5" width="1331.0" height="66.0" fill="none" stroke="#000" stroke-width="3.3"/>
<line x1="78.5" y1="897.5" x2="78.5" y2="912.1" stroke="#000" stroke-width="3.3"/>
<text x="78.5" y="959.2" font-size="44.6" text-anchor="middle" textLength="65.5" lengthAdjust="spacingAndGlyphs">0.0</text>
<line x1="244.9" y1="897.5" x2="244.9" y2="912.1" stroke="#000" stroke-width="3.3"/>
<text x="244.9" y="959.2" font-size="44.6" text-anchor="middle" textLength="65.5" lengthAdjust="spacingAndGlyphs">7.5</text>
<line x1="411.2" y1="897.5" x2="411.2" y2="912.1" stroke="#000" stroke-width="3.3"/>
<text x="411.2" y="959.2" font-size="44.6" text-anchor="middle" textLength="91.0" lengthAdjust="spacingAndGlyphs">15.0</text>
<line x1="577.6" y1="897.5" x2="577.6" y2="912.1" stroke="#000" stroke-width="3.3"/>
<text x="577.6" y="959.2" font-size="44.6" text-anchor="middle" textLength="91.0" lengthAdjust="spacingAndGlyphs">22.5</text>
<line x1="744.0" y1="897.5" x2="744.0" y2="912.1" stroke="#000" stroke-width="3.3"/>
<text x="744.0" y="959.2" font-size="44.6" text-anchor="middle" textLength="91.0" lengthAdjust="spacingAndGlyphs">30.0</text>
<line x1="910.4" y1="897.5" x2="910.4" y2="912.1" stroke="#000" stroke-width="3.3"/>
<text x="910.4" y="959.2" font-size="44.6" text-anchor="middle" textLength="91.0" lengthAdjust="spacingAndGlyphs">37.5</text>
<line x1="1076.8" y1="897.5" x2="1076.8" y2="912.1" stroke="#000" stroke-width="3.3"/>
<text x="1076.8" y="959.2" font-size="44.6" text-anchor="middle" textLength="91.0" lengthAdjust="spacingAndGlyphs">45.0</text>
<line x1="1243.1" y1="897.5" x2="1243.1" y2="912.1" stroke="#000" stroke-width="3.3"/>
<text x="1243.1" y="959.2" font-size="44.6" text-anchor="middle" textLength="91.0" lengthAdjust="spacingAndGlyphs">52.5</text>
<line x1="1409.5" y1="897.5" x2="1409.5" y2="912.1" stroke="#000" stroke-width="3.3"/>
<text x="1409.5" y="959.2" font-size="44.6" text-anchor="middle" textLength="91.0" lengthAdjust="spacingAndGlyphs">60.0</text>
</g>
<g transform="translate(0,985.0)">
<g clip-path="url(#ax)"><rect x="77.5" y="131.5" width="1333.0" height="658.0" fill="#000096"/>
<path fill="#0000c8" d="M78.5,132.5 1407.5,132.5 1407.5,786.5 78.5,786.5ZM651.5,156.5 636.5,158.2 624.5,161.0 614.6,165.5 609.5,170.0 606.9,174.5 606.1,177.5 606.0,180.5 607.5,186.5 612.5,194.7 624.1,207.5 626.1,210.5 627.4,213.5 627.8,216.5 627.2,219.5 625.4,222.5 621.9,225.5 616.2,228.5 599.9,234.5 582.5,239.5 567.5,241.9 546.5,243.0 525.5,243.1 513.5,241.8 501.5,238.0 474.5,225.2 453.5,217.1 435.5,212.2 417.5,209.3 405.5,208.9 399.5,209.3 393.0,210.5 387.1,213.5 385.6,216.5 386.0,219.5 396.2,237.5 402.5,245.5 408.5,250.2 420.5,257.2 425.4,261.5 428.4,267.5 431.9,282.5 433.9,288.5 437.7,294.5 441.0,297.5 444.5,299.5 453.5,302.4 473.8,306.5 517.5,312.5 525.5,314.5 531.5,316.9 538.6,321.5 541.2,324.5 542.9,327.5 544.0,333.5 543.6,336.5 540.6,345.5 542.7,348.5 548.8,351.5 561.5,356.2 567.5,357.8 576.5,358.5 591.5,359.1 615.5,358.8 624.5,359.7 630.5,361.6 645.5,369.5 653.7,372.5 681.5,378.1 702.5,384.5 711.5,385.9 717.5,385.2 720.5,384.2 729.9,378.5 737.0,372.5 759.5,350.4 774.5,339.1 792.5,328.2 808.5,321.5 843.9,309.5 861.5,305.1 903.5,298.6 958.5,288.5 1005.5,285.3 1014.5,284.0 1020.5,282.0 1041.5,272.2 1062.3,264.5 1083.5,254.6 1105.7,246.5 1110.6,243.5 1113.1,240.5 1114.0,237.5 1113.2,234.5 1110.5,232.7 1107.5,232.1 1101.5,232.5 1083.5,236.4 1071.5,238.0 1059.5,237.9 1047.5,236.2 1038.5,233.8 1026.5,229.4 997.5,216.5 982.5,210.5 972.5,207.3 957.5,203.6 924.5,196.7 909.5,194.4 894.5,193.1 846.5,190.7 831.5,188.8 816.5,185.7 804.5,182.1 795.5,178.8 756.5,161.1 747.5,158.1 738.5,156.0 726.5,154.9 687.5,154.2ZM642.5,524.3 639.5,526.1 637.8,528.5 630.5,542.5 624.5,549.2 618.5,554.0 598.7,567.5 595.2,570.5 593.2,573.5 593.3,576.5 594.5,577.6 597.5,578.6 600.5,578.5 606.5,576.8 609.5,575.1 615.9,570.5 627.5,559.2 633.5,554.2 651.5,544.1 655.7,540.5 657.7,537.5 658.4,534.5 658.0,531.5 656.2,528.5 652.7,525.5 648.5,523.9 645.5,523.7ZM780.5,648.1 777.5,648.6 772.7,651.5 772.1,654.5 773.3,657.5 777.5,663.5 780.5,666.2 783.5,667.7 786.5,667.9 789.5,667.1 794.0,663.5 795.5,660.5 795.6,657.5 794.5,654.5 791.9,651.5 789.5,650.0 786.0,648.5ZM984.5,321.5 969.5,327.0 954.5,334.4 948.5,338.4 933.5,350.3 924.5,355.6 915.5,359.4 900.5,364.4 891.5,368.7 882.5,375.0 876.5,381.3 873.5,386.4 864.0,405.5 856.9,417.5 848.8,429.5 822.5,463.7 816.2,474.5 812.5,483.5 810.5,492.5 810.1,498.5 810.5,504.5 811.8,510.5 813.9,516.5 817.1,522.5 821.8,528.5 825.3,531.5 828.5,533.5 834.5,535.8 840.5,536.9 846.5,537.0 855.5,536.2 891.5,530.8 903.5,530.0 915.5,530.4 924.5,531.4 936.5,533.8 966.5,542.5 972.5,542.9 975.5,542.5 981.8,540.5 988.6,537.5 1002.5,529.5 1011.5,523.1 1020.5,514.5 1029.0,504.5 1044.5,488.4 1050.5,481.0 1059.8,465.5 1063.7,456.5 1065.2,450.5 1066.3,441.5 1067.6,414.5 1072.5,384.5 1072.2,375.5 1070.6,369.5 1068.5,365.1 1065.5,360.8 1059.5,354.8 1029.5,332.5 1017.5,324.5 1008.5,320.4 1002.5,319.1 993.5,319.3ZM1002.5,585.2 978.5,590.4 939.5,596.7 907.4,603.5 894.5,607.5 890.4,609.5 887.3,612.5 886.3,615.5 887.2,618.5 891.5,621.3 897.5,622.2 912.5,620.0 918.5,620.3 921.5,621.4 924.5,623.3 928.4,627.5 931.3,633.5 933.0,642.5 932.2,648.5 928.5,660.5 927.8,666.5 928.1,675.5 929.0,681.5 930.5,685.8 933.5,690.2 936.5,692.4 939.5,692.9 942.5,690.3 944.0,684.5 944.5,669.5 945.7,663.5 947.0,660.5 949.5,657.5 954.5,654.7 972.5,649.6 984.5,647.2 1058.6,636.5 1068.4,633.5 1072.7,630.5 1074.4,627.5 1074.6,624.5 1073.8,621.5 1072.1,618.5 1069.6,615.5 1061.7,609.5 1050.5,603.5 1031.6,594.5 1017.5,586.5 1011.5,584.6ZM975.5,709.8 963.5,712.2 958.9,714.5 957.0,717.5 956.8,720.5 957.8,723.5 960.3,726.5 964.5,729.5 972.3,732.5 984.5,734.0 990.5,733.8 996.5,732.7 1003.8,729.5 1007.9,726.5 1010.7,723.5 1011.1,720.5 1008.9,717.5 1004.1,714.5 996.1,711.5 987.5,709.8 981.5,709.4Z"/>
<path fill="#0000f6" d="M78.5,132.5 488.0,132.5 465.5,147.5 455.5,153.5 442.1,159.5 420.5,167.4 411.5,171.8 402.5,177.6 383.4,192.5 368.3,201.5 364.9,204.5 362.9,207.5 361.8,210.5 361.3,216.5 361.6,219.5 363.5,225.5 366.5,231.0 369.3,234.5 384.5,248.5 391.2,255.5 396.3,261.5 399.9,267.5 400.9,270.5 401.3,276.5 398.4,291.5 398.4,297.5 400.6,303.5 403.0,306.5 406.9,309.5 413.4,312.5 453.5,321.9 468.5,327.1 475.2,330.5 483.2,336.5 485.9,339.5 489.7,345.5 491.6,351.5 491.6,360.5 493.8,363.5 498.5,365.3 510.5,367.9 531.5,374.1 552.5,378.4 567.5,379.9 627.5,382.2 636.5,383.5 645.5,386.0 666.5,393.2 675.5,397.8 681.5,403.1 693.5,419.1 699.5,425.8 705.5,430.6 711.5,434.2 717.5,436.9 726.5,439.1 735.5,439.6 747.5,438.6 749.8,441.5 749.0,447.5 745.7,459.5 740.9,474.5 736.2,486.5 725.3,507.5 720.5,515.3 712.8,525.5 711.1,528.5 710.3,531.5 711.4,534.5 720.5,550.0 733.3,582.5 740.1,597.5 746.9,609.5 755.1,618.5 756.1,621.5 756.1,624.5 755.2,627.5 753.6,630.5 743.9,642.5 741.0,648.5 740.6,654.5 741.5,657.6 744.5,663.6 745.5,669.5 744.5,675.5 742.1,681.5 735.5,691.9 713.8,720.5 703.4,735.5 698.5,744.5 695.7,753.5 695.9,759.5 697.0,762.5 698.8,765.5 701.7,768.5 705.5,771.2 711.5,774.1 717.5,775.8 729.5,777.0 741.5,775.8 756.5,771.7 771.0,765.5 795.5,752.6 804.5,748.3 819.5,743.4 831.5,741.4 846.5,741.0 864.5,743.2 876.5,746.2 903.5,754.8 921.5,758.7 939.5,760.4 960.5,760.7 990.5,758.9 1012.7,756.5 1044.5,749.0 1077.5,742.2 1083.5,740.0 1086.5,738.4 1089.5,735.9 1091.7,732.5 1092.3,729.5 1091.9,726.5 1089.5,720.5 1085.3,714.5 1074.5,705.0 1068.5,701.5 1062.5,699.3 1053.5,697.2 1032.2,693.5 1020.8,690.5 1012.8,687.5 1007.8,684.5 1004.8,681.5 1003.3,678.5 1003.4,675.5 1005.3,672.5 1008.9,669.5 1016.4,666.5 1032.5,663.6 1044.5,663.2 1056.5,664.1 1065.5,665.5 1092.5,673.1 1113.5,677.5 1125.5,679.3 1134.5,679.4 1143.5,678.0 1152.5,674.6 1155.7,672.5 1159.0,669.5 1162.6,663.5 1163.9,657.5 1163.1,648.5 1159.2,639.5 1154.8,633.5 1148.7,627.5 1137.5,618.9 1092.5,588.5 1089.4,585.5 1087.5,582.5 1086.3,579.5 1085.7,573.5 1087.9,558.5 1087.7,552.5 1087.0,549.5 1083.0,540.5 1072.5,522.5 1070.2,516.5 1069.0,510.5 1069.0,501.5 1070.8,492.5 1074.0,483.5 1083.1,462.5 1085.8,453.5 1086.7,444.5 1087.6,414.5 1090.5,399.5 1096.7,381.5 1100.4,366.5 1102.7,360.5 1110.0,351.5 1118.9,342.5 1121.0,339.5 1123.9,333.5 1125.1,327.5 1126.0,312.5 1129.6,303.5 1133.6,297.5 1138.6,291.5 1149.5,281.6 1158.5,275.5 1187.5,258.5 1206.2,246.5 1222.1,234.5 1235.8,222.5 1241.0,216.5 1244.5,210.5 1251.4,189.5 1254.5,182.5 1257.5,177.9 1260.5,174.5 1266.5,169.8 1284.5,160.4 1305.5,151.1 1315.9,144.5 1332.3,132.5 1407.5,132.5 1407.5,786.5 378.5,786.5 372.5,781.2 366.5,777.3 360.5,774.8 354.5,773.7 348.5,774.2 342.5,776.8 331.1,786.5 293.9,786.5 283.2,777.5 278.0,774.5 267.9,771.5 258.5,770.8 248.6,771.5 243.5,772.8 239.3,774.5 235.8,777.5 234.5,779.8 233.5,783.5 233.5,786.5 78.5,786.5ZM636.5,512.2 633.5,513.6 629.7,516.5 616.9,531.5 601.3,546.5 593.9,552.5 577.0,564.5 570.5,570.5 566.5,576.5 560.2,588.5 559.3,591.5 559.2,594.5 560.4,597.5 561.5,598.6 564.5,600.9 570.5,603.1 576.5,604.0 582.5,604.2 597.5,602.5 612.5,598.6 621.5,595.1 627.5,591.6 633.5,586.5 640.3,579.5 645.5,575.6 648.5,574.1 654.5,572.3 669.5,569.7 677.0,567.5 684.5,563.6 690.0,558.5 694.2,552.5 701.8,537.5 702.8,534.5 702.4,531.5 700.0,528.5 695.9,525.5 684.1,519.5 666.7,513.5 657.5,511.5 648.5,510.6 642.5,510.8ZM603.0,132.5 603.5,132.5 681.5,132.5 618.5,132.9ZM940.2,132.5 942.5,132.5 1230.9,132.5 1225.4,141.5 1219.8,147.5 1211.1,153.5 1203.5,156.7 1146.5,168.7 1122.5,171.1 1098.5,172.1 1065.5,170.8 1026.5,171.6 1014.5,170.5 1002.5,168.1 987.5,163.8 977.7,159.5 972.5,156.1 954.5,139.7 948.5,135.9Z"/>
<path fill="#0014ff" d="M213.5,150.5 255.5,149.3 279.5,149.7 297.5,150.7 315.5,152.7 327.5,155.0 333.5,156.9 338.3,159.5 339.5,160.7 340.9,162.5 341.9,165.5 342.0,171.5 340.2,180.5 335.2,198.5 334.3,204.5 334.4,210.5 336.4,216.5 341.7,225.5 350.5,237.5 365.9,255.5 370.1,261.5 371.5,264.5 372.2,267.5 372.1,273.5 366.6,291.5 365.6,297.5 366.0,303.5 366.9,306.5 370.6,312.5 373.9,315.5 378.7,318.5 391.1,324.5 399.5,327.7 405.5,329.0 411.5,329.6 420.5,328.7 423.5,329.2 425.9,330.5 428.8,333.5 433.0,339.5 434.1,342.5 434.3,345.5 433.4,348.5 429.5,357.5 427.9,366.5 428.5,372.5 429.8,375.5 432.5,378.6 438.5,381.8 450.5,384.1 489.5,384.4 510.5,385.2 543.5,390.7 567.5,395.5 588.5,397.6 621.5,399.5 627.5,400.5 636.5,402.9 654.5,410.4 663.5,415.8 669.5,421.4 684.0,438.5 690.7,447.5 694.7,456.5 696.6,465.5 696.7,468.5 696.0,474.5 693.9,480.5 690.3,486.5 683.9,492.5 675.5,497.3 669.5,498.9 663.5,499.7 633.5,501.7 627.5,503.0 624.2,504.5 619.9,507.5 616.7,510.5 604.5,525.5 592.6,537.5 584.9,543.5 567.5,555.5 552.5,567.3 546.5,570.8 537.5,574.7 513.5,582.0 508.8,585.5 498.2,597.5 496.4,600.5 495.7,603.5 496.1,606.5 497.6,609.5 506.1,618.5 508.1,621.5 510.4,627.5 511.5,633.5 511.7,639.5 511.1,645.5 509.7,651.5 505.4,660.5 500.9,666.5 495.5,672.4 483.5,683.6 477.5,688.1 471.5,691.8 465.5,694.6 456.5,697.6 429.5,703.8 423.4,705.5 415.9,708.5 411.5,711.3 408.5,714.1 401.6,723.5 395.4,729.5 390.2,732.5 384.5,734.7 372.5,737.4 360.5,738.2 339.5,738.0 309.5,739.2 261.5,739.7 186.5,736.0 165.5,735.7 120.5,736.4 99.5,738.5 93.5,740.4 90.5,742.0 87.5,744.5 85.5,747.5 84.6,750.5 84.6,753.5 85.4,756.5 86.9,759.5 90.5,764.1 96.5,769.9 102.5,773.8 111.5,777.3 144.5,782.6 150.5,784.1 156.8,786.5 78.5,786.5 78.5,179.6 90.5,182.9 96.5,183.6 99.5,183.2 102.5,182.2 121.8,171.5 137.2,165.5 147.2,162.5 159.6,159.5 195.5,152.5ZM195.5,249.4 194.7,249.5 195.5,249.6ZM1395.5,193.4 1407.5,185.1 1407.5,748.6 1404.5,748.0 1401.5,748.1 1398.5,749.2 1396.8,750.5 1394.8,753.5 1393.9,756.5 1393.3,768.5 1390.6,786.5 918.7,786.5 945.5,782.7 1029.5,768.4 1083.5,763.2 1122.5,755.1 1128.5,753.1 1133.8,750.5 1143.5,743.9 1152.3,735.5 1162.1,723.5 1165.4,720.5 1170.5,717.1 1176.5,714.3 1185.2,711.5 1221.5,702.1 1227.6,699.5 1232.0,696.5 1234.9,693.5 1237.0,690.5 1239.2,684.5 1239.2,678.5 1237.4,672.5 1233.5,665.8 1221.0,651.5 1216.5,645.5 1213.3,639.5 1211.5,633.5 1210.8,627.5 1211.2,621.5 1215.3,606.5 1215.3,603.5 1214.0,600.5 1210.8,597.5 1197.5,590.1 1188.5,583.8 1176.4,570.5 1165.8,561.5 1136.4,540.5 1107.5,522.5 1100.7,516.5 1098.2,513.5 1094.7,507.5 1092.8,501.5 1092.7,492.5 1095.1,483.5 1101.7,465.5 1104.2,456.5 1105.2,447.5 1105.3,423.5 1106.4,414.5 1107.8,408.5 1110.5,401.7 1123.2,375.5 1128.7,366.5 1131.5,363.3 1137.5,358.3 1140.5,356.5 1149.5,352.9 1154.8,348.5 1159.4,342.5 1167.5,329.5 1183.5,306.5 1191.6,297.5 1202.5,288.5 1221.6,276.5 1274.2,246.5 1314.5,219.8 1329.5,211.2 1341.5,206.2 1353.5,202.8 1386.5,197.2ZM551.0,786.5 552.5,785.0 555.5,783.5 558.5,783.6 561.5,785.4 562.3,786.5Z"/>
<path fill="#0040ff" d="M1404.3,243.5 1407.5,242.4 1407.5,618.5 1395.5,614.9 1347.5,602.6 1338.1,600.5 1314.5,596.7 1305.5,594.6 1263.5,581.7 1236.5,576.4 1229.0,573.5 1219.1,567.5 1208.0,558.5 1188.5,538.0 1179.5,529.9 1170.5,523.5 1143.9,507.5 1137.5,501.9 1135.0,498.5 1133.5,495.5 1132.2,489.5 1132.8,471.5 1132.6,462.5 1127.5,435.5 1126.8,426.5 1127.3,420.5 1128.8,414.5 1131.2,408.5 1134.5,402.3 1151.5,375.5 1169.4,354.5 1173.5,350.8 1176.5,348.9 1179.5,347.9 1185.5,347.1 1191.5,344.9 1212.8,330.5 1223.7,321.5 1239.5,305.0 1251.5,295.7 1266.5,286.6 1281.5,278.7 1296.5,271.9 1311.5,266.4 1332.5,259.6 1353.5,253.9ZM78.5,722.3 78.5,244.6 87.5,248.4 139.0,267.5 165.5,276.1 192.5,282.3 216.5,285.7 240.5,286.4 249.5,286.0 258.5,284.8 267.8,282.5 276.0,279.5 297.5,269.0 303.5,266.8 309.5,266.1 315.5,267.5 318.5,270.0 320.3,273.5 322.0,288.5 323.6,294.5 326.8,300.5 333.8,309.5 348.2,324.5 357.5,331.7 363.5,334.8 369.5,336.7 378.5,336.6 381.5,337.2 395.7,345.5 402.5,350.4 405.5,354.4 406.7,357.5 409.2,372.5 411.0,378.5 413.1,381.5 416.5,384.5 423.5,387.8 435.5,390.6 447.5,391.6 468.5,391.5 498.5,395.1 510.5,395.6 540.5,400.7 549.5,403.0 570.5,410.9 588.1,420.5 595.3,426.5 599.8,432.5 604.7,441.5 606.5,443.7 609.5,445.1 612.5,445.1 615.5,444.3 627.5,438.7 636.5,436.6 645.5,436.8 651.3,438.5 654.5,440.1 663.4,447.5 668.2,453.5 669.8,456.5 670.9,459.5 671.7,465.5 670.8,471.5 667.5,477.5 661.7,483.5 656.7,486.5 651.5,488.1 645.5,489.1 636.5,489.4 612.5,486.3 609.5,486.7 606.5,487.9 603.5,490.6 600.5,495.6 591.8,516.5 585.0,525.5 573.5,534.9 550.5,549.5 537.5,558.5 525.8,564.5 513.5,568.3 510.5,570.3 501.0,579.5 495.5,583.5 492.5,584.8 486.5,586.1 474.5,586.7 468.5,588.0 453.5,595.9 425.9,606.5 420.0,609.5 415.7,612.5 412.8,615.5 411.8,618.5 413.1,621.5 417.1,624.5 442.2,636.5 447.5,640.5 449.4,642.5 450.9,645.5 451.0,648.5 449.6,651.5 447.5,653.6 441.7,657.5 435.4,660.5 417.5,666.7 408.5,668.1 399.5,668.2 381.5,667.0 366.5,665.2 324.5,657.0 312.5,655.1 297.5,654.4 267.5,654.7 234.5,657.1 207.9,660.5 196.8,663.5 191.8,666.5 190.0,669.5 189.9,672.5 191.0,675.5 195.3,681.5 201.5,686.9 207.5,690.3 213.5,692.2 219.5,693.1 237.5,692.5 261.5,692.7 270.5,693.3 279.5,695.0 291.5,699.6 302.2,705.5 311.6,711.5 313.3,714.5 309.5,716.6 306.9,717.5 300.5,718.1 285.5,718.2 219.5,715.0 204.5,714.8 156.5,717.0 87.5,721.3ZM1368.5,656.6 1407.5,651.2 1407.5,719.1 1359.5,719.0 1350.5,718.6 1341.5,717.4 1335.5,715.6 1327.9,711.5 1323.5,707.8 1319.6,702.5 1318.2,699.5 1316.5,693.5 1316.2,687.5 1316.7,684.5 1319.3,678.5 1321.8,675.5 1330.1,669.5 1342.7,663.5 1356.5,658.9ZM1238.8,732.5 1245.5,731.2 1257.5,730.5 1266.5,731.5 1272.5,733.0 1278.6,735.5 1283.1,738.5 1286.0,741.5 1287.8,744.5 1288.6,747.5 1288.4,750.5 1287.2,753.5 1284.9,756.5 1277.1,762.5 1266.5,767.3 1254.5,769.9 1242.5,770.2 1227.5,768.2 1218.5,764.1 1212.2,759.5 1209.8,756.5 1208.7,753.5 1208.7,750.5 1209.9,747.5 1212.3,744.5 1215.8,741.5 1220.9,738.5 1228.4,735.5Z"/>
<path fill="#0068ff" d="M78.5,644.0 78.5,261.0 93.5,266.4 156.5,292.8 168.5,297.4 177.5,300.2 204.5,305.3 282.5,316.4 291.5,318.2 300.5,321.1 318.5,329.2 344.1,342.5 354.5,347.3 366.5,351.1 378.5,353.1 384.5,355.5 386.7,357.5 388.8,360.5 394.9,378.5 398.1,384.5 400.6,387.5 404.4,390.5 410.7,393.5 417.5,395.0 438.5,397.2 459.5,397.6 474.5,399.3 480.5,400.6 489.5,403.4 498.5,404.9 511.4,405.5 527.4,408.5 538.7,411.5 545.8,414.5 550.0,417.5 552.8,420.5 554.4,423.5 554.8,426.5 554.0,429.5 552.5,431.9 546.5,437.0 522.5,449.8 513.8,456.5 510.5,460.1 506.9,465.5 505.5,471.5 506.1,474.5 508.7,477.5 516.5,480.1 534.5,482.2 561.5,484.0 567.5,485.4 570.5,486.6 573.5,488.5 576.5,491.4 579.5,496.5 580.7,501.5 580.7,504.5 579.3,510.5 575.4,516.5 567.5,523.4 558.8,528.5 537.5,539.2 516.5,553.4 510.5,558.8 498.5,573.8 495.1,576.5 489.5,578.9 483.5,579.1 471.5,577.7 465.5,578.2 441.5,584.8 411.5,589.8 381.5,598.1 339.5,614.4 312.5,623.5 261.5,636.1 225.5,643.0 192.5,646.9 171.5,647.9 135.5,647.2 87.5,643.5ZM1371.5,267.9 1407.5,259.4 1407.5,602.6 1341.0,579.5 1334.2,576.5 1330.5,573.5 1328.4,570.5 1327.4,567.5 1327.1,558.5 1326.3,555.5 1322.1,549.5 1308.2,537.5 1287.4,522.5 1254.4,501.5 1237.9,492.5 1219.8,483.5 1206.5,477.5 1200.5,475.5 1182.5,472.3 1176.5,470.3 1173.0,468.5 1169.1,465.5 1166.2,462.5 1160.5,453.5 1155.2,441.5 1153.6,435.5 1153.0,429.5 1153.9,420.5 1156.8,411.5 1177.3,369.5 1179.5,366.0 1182.5,362.6 1201.8,348.5 1209.5,344.1 1218.5,340.9 1224.5,340.3 1233.5,340.5 1239.5,338.6 1247.1,333.5 1263.7,318.5 1275.5,309.7 1296.5,297.6 1317.5,287.4 1338.5,278.7 1356.5,272.1ZM78.5,708.9 78.5,658.7 84.5,659.6 102.5,661.1 111.5,662.9 120.5,666.0 133.0,672.5 141.1,678.5 143.8,681.5 145.5,684.5 146.2,687.5 145.6,690.5 143.7,693.5 141.5,695.4 135.5,698.9 126.5,702.5 116.6,705.5 108.5,707.4 99.5,708.7 87.5,709.2ZM1393.6,666.5 1407.5,664.7 1407.5,706.3 1389.8,705.5 1377.5,703.3 1367.5,699.5 1362.6,696.5 1359.3,693.5 1357.4,690.5 1356.6,687.5 1357.0,684.5 1358.4,681.5 1362.5,677.2 1365.5,675.0 1371.5,672.2 1380.0,669.5Z"/>
<path fill="#0094ff" d="M1380.5,280.2 1407.5,273.4 1407.5,585.6 1394.9,579.5 1392.3,576.5 1391.7,570.5 1390.3,567.5 1387.6,564.5 1378.8,558.5 1367.0,552.5 1344.5,542.3 1326.5,533.2 1245.5,483.6 1203.5,461.3 1187.1,453.5 1182.5,449.8 1178.7,444.5 1176.4,438.5 1175.5,432.5 1175.9,426.5 1178.0,417.5 1185.3,393.5 1192.6,372.5 1197.8,363.5 1203.2,357.5 1207.0,354.5 1212.5,351.6 1218.5,349.8 1224.5,349.8 1230.5,352.0 1236.5,351.2 1251.5,343.6 1257.5,341.5 1266.5,339.1 1272.1,336.5 1276.5,333.5 1291.4,321.5 1304.4,312.5 1314.9,306.5 1332.5,297.8 1350.5,289.9 1362.5,285.4ZM78.5,625.3 78.5,274.5 87.5,277.3 100.2,282.5 111.1,288.5 141.5,306.7 153.5,312.7 165.5,317.3 183.5,321.5 237.5,331.6 274.6,339.5 291.5,344.3 306.5,351.6 315.5,355.1 326.5,357.5 363.5,363.4 372.5,365.7 375.5,367.2 378.3,369.5 380.8,372.5 389.7,387.5 393.5,392.1 399.5,397.1 405.5,400.3 414.5,402.2 453.5,404.4 477.5,408.6 489.5,412.3 504.5,415.1 511.7,417.5 515.9,420.5 517.7,423.5 517.9,426.5 516.8,429.5 514.9,432.5 498.5,449.0 494.7,453.5 491.0,459.5 487.8,468.5 486.1,477.5 486.3,483.5 488.5,489.5 492.5,494.8 495.5,497.4 498.5,499.2 504.5,500.9 507.5,501.1 513.5,500.3 530.4,495.5 537.5,494.4 546.5,494.1 552.5,495.0 555.5,495.9 559.7,498.5 561.6,501.5 562.0,504.5 560.9,507.5 558.4,510.5 555.5,512.7 537.5,521.9 528.5,529.0 517.8,540.5 507.5,550.3 499.0,564.5 495.5,569.0 492.5,571.7 489.0,573.5 483.5,574.2 471.5,572.1 465.5,572.5 438.5,578.2 414.5,580.2 393.5,583.6 377.0,585.5 368.0,588.5 342.5,599.5 327.5,604.3 272.0,618.5 231.5,630.5 216.5,633.9 198.5,636.8 183.5,638.2 171.5,638.5 156.5,638.3 138.5,636.9 108.5,632.8ZM86.6,681.5 90.5,681.7 93.5,683.2 95.0,684.5 95.4,687.5 93.5,689.2 90.5,690.6 87.5,690.7 84.5,689.8 82.1,687.5 82.0,684.5 84.5,682.2Z"/>
<path fill="#00c0ff" d="M1380.5,295.9 1407.5,289.4 1407.5,561.4 1356.5,538.9 1332.5,526.8 1294.5,504.5 1254.5,478.8 1220.7,459.5 1211.7,453.5 1201.9,444.5 1198.2,438.5 1197.0,432.5 1197.9,423.5 1207.7,378.5 1211.0,369.5 1212.9,366.5 1215.7,363.5 1218.5,361.8 1221.5,360.9 1233.5,360.3 1239.5,358.0 1248.5,353.0 1254.5,350.5 1257.5,350.0 1263.5,350.4 1269.5,349.6 1284.5,343.9 1296.5,340.3 1303.1,336.5 1314.5,327.4 1323.0,321.5 1344.5,309.5 1365.6,300.5ZM78.5,609.1 78.5,291.6 84.5,293.9 90.5,297.1 96.5,301.5 108.5,312.6 117.1,318.5 131.3,324.5 149.0,330.5 186.5,341.2 219.5,347.3 243.5,353.0 267.5,361.4 291.5,372.5 300.5,375.5 312.5,376.5 339.5,375.1 351.5,375.0 360.5,375.7 366.5,377.0 372.5,379.5 375.5,381.5 378.5,384.0 385.9,393.5 391.4,399.5 399.5,405.7 405.5,408.5 411.5,410.0 429.5,409.7 449.0,411.5 472.0,417.5 492.5,424.3 495.8,426.5 496.6,429.5 495.9,432.5 492.4,438.5 483.6,450.5 480.4,456.5 478.7,462.5 477.5,469.6 476.5,477.5 476.4,483.5 477.5,488.3 479.5,492.5 488.2,504.5 495.5,510.9 509.3,519.5 512.1,522.5 513.0,525.5 512.9,528.5 512.1,531.5 509.2,537.5 501.5,547.6 498.6,552.5 496.0,558.5 493.9,561.5 489.5,565.7 486.5,567.6 483.5,568.5 468.5,567.8 435.5,573.5 414.5,574.9 393.5,577.2 378.5,577.2 372.5,578.2 356.2,582.5 333.5,590.3 315.5,595.7 267.5,608.1 225.5,621.1 198.5,627.3 186.5,628.6 165.5,629.5 153.5,629.0 141.5,627.9 120.5,624.6 108.5,622.1 97.7,618.5 84.4,612.5Z"/>
<path fill="#02e8f4" d="M1402.5,318.5 1407.5,315.9 1407.5,553.9 1368.5,537.6 1353.5,530.6 1333.7,519.5 1300.0,498.5 1263.5,473.7 1230.4,453.5 1223.7,447.5 1221.2,444.5 1218.1,438.5 1217.1,432.5 1217.8,426.5 1219.3,420.5 1233.0,378.5 1236.8,372.5 1239.6,369.5 1246.7,363.5 1251.3,360.5 1254.5,359.3 1263.5,358.6 1269.5,357.4 1284.5,352.2 1296.5,351.4 1302.5,349.3 1317.5,341.0 1323.5,338.8 1329.5,338.0 1338.5,338.6 1344.5,338.0 1349.7,336.5 1377.5,326.0 1395.5,321.0ZM78.5,574.7 78.5,318.6 87.5,323.2 120.8,336.5 146.4,345.5 158.0,348.5 210.5,358.5 234.5,364.4 261.5,374.0 286.9,384.5 297.5,388.1 303.5,389.0 312.5,389.5 351.5,388.3 363.5,389.7 369.5,391.8 372.5,393.5 390.5,409.4 396.5,413.6 402.5,416.7 408.5,418.7 411.5,419.1 429.5,418.7 438.5,420.0 450.5,423.5 463.0,429.5 468.5,433.6 470.2,435.5 471.5,438.5 471.6,441.5 469.0,456.5 469.2,483.5 470.3,489.5 474.5,498.1 478.8,504.5 483.5,510.4 497.7,525.5 499.3,528.5 500.2,534.5 499.7,537.5 495.7,546.5 489.5,556.6 486.5,559.4 483.5,561.3 480.5,562.4 465.5,563.9 444.5,567.8 435.5,568.9 393.5,572.1 378.5,571.7 375.5,572.0 339.5,578.6 297.5,590.0 264.5,598.4 216.5,613.3 195.5,618.5 171.5,620.1 156.5,619.7 147.5,619.0 135.5,617.0 117.5,612.9 111.5,611.3 105.5,608.8 96.5,603.2 87.4,594.5 81.9,585.5Z"/>
<path fill="#26ffd1" d="M78.5,537.7 78.5,335.9 108.5,345.3 114.5,346.7 152.1,354.5 180.5,359.2 204.5,364.4 219.5,368.3 237.5,374.0 287.6,393.5 297.5,396.8 312.5,399.1 348.5,401.5 360.5,403.7 369.5,407.4 389.8,420.5 399.5,425.5 408.5,428.3 429.5,432.1 438.5,435.3 443.7,438.5 447.5,441.7 452.7,447.5 456.2,453.5 459.9,465.5 463.7,489.5 466.2,495.5 473.3,507.5 489.1,528.5 491.0,534.5 491.0,537.5 489.4,543.5 486.5,548.6 483.2,552.5 477.5,556.3 471.5,558.0 438.5,563.9 393.5,567.3 378.5,567.3 354.5,570.7 339.5,571.8 300.5,580.8 255.5,590.1 237.5,595.5 204.5,606.5 192.5,609.2 174.5,610.5 162.5,610.2 153.5,609.3 144.5,607.4 131.6,603.5 117.5,597.5 113.7,594.5 111.4,591.5 110.0,588.5 109.5,585.5 109.7,582.5 112.4,576.5 122.1,564.5 123.7,561.5 123.5,558.5 121.0,555.5 116.4,552.5 98.7,543.5 87.5,539.3ZM1402.9,336.5 1407.5,334.7 1407.5,547.4 1371.5,532.6 1356.5,525.4 1341.3,516.5 1301.1,489.5 1288.5,480.5 1249.7,450.5 1244.1,444.5 1242.1,441.5 1240.6,438.5 1239.3,432.5 1239.7,426.5 1242.5,416.8 1259.7,378.5 1264.1,372.5 1267.7,369.5 1277.3,363.5 1284.5,360.2 1287.5,359.4 1296.5,358.5 1302.5,356.8 1314.5,350.5 1320.5,348.0 1326.5,347.3 1335.5,349.6 1341.5,349.2 1359.5,343.7 1389.5,339.7Z"/>
<path fill="#49ffad" d="M1393.5,345.5 1407.5,342.2 1407.5,541.5 1376.3,528.5 1356.5,518.2 1344.2,510.5 1306.9,483.5 1281.6,462.5 1266.8,447.5 1264.6,444.5 1261.8,438.5 1260.5,429.5 1260.8,426.5 1262.5,420.5 1268.5,408.5 1279.9,390.5 1288.4,375.5 1291.1,372.5 1295.2,369.5 1316.2,357.5 1323.5,354.9 1326.5,354.7 1335.5,355.9 1338.5,355.5 1359.5,349.0 1374.5,348.8ZM78.5,530.7 78.5,344.9 106.2,351.5 135.5,355.6 177.5,362.7 207.5,370.7 234.5,379.7 276.6,396.5 297.5,404.3 306.5,406.4 339.5,412.0 357.5,416.8 366.5,420.4 387.5,430.5 399.2,435.5 426.5,443.3 432.5,445.5 436.0,447.5 441.5,452.0 445.5,456.5 449.1,462.5 451.4,468.5 455.5,486.5 457.7,492.5 462.5,501.5 474.4,519.5 479.3,528.5 480.7,534.5 480.5,537.5 478.2,543.5 474.5,547.7 468.5,551.2 453.6,555.5 441.5,557.9 393.5,561.9 378.5,562.6 357.5,565.1 339.5,566.6 306.5,573.1 291.5,575.2 270.5,576.9 249.5,577.1 240.5,576.4 234.5,575.1 209.7,564.5 195.5,559.9 177.0,552.5 126.5,542.4 87.5,532.1ZM186.4,582.5 189.5,583.3 193.6,585.5 195.0,588.5 193.4,591.5 188.3,594.5 183.5,595.6 168.5,594.8 165.5,594.4 160.3,591.5 163.3,588.5Z"/>
<path fill="#6aff8d" d="M1374.5,353.5 1407.5,347.0 1407.5,535.9 1386.5,527.2 1371.2,519.5 1356.3,510.5 1340.1,498.5 1318.4,480.5 1287.7,450.5 1284.5,446.6 1281.4,441.5 1279.5,435.5 1279.1,432.5 1279.7,426.5 1281.8,420.5 1294.5,399.5 1300.9,390.5 1314.5,374.1 1318.8,369.5 1322.5,366.5 1326.5,364.5 1338.5,361.4 1353.5,355.6 1359.5,353.8ZM78.5,525.4 78.5,351.0 105.5,355.6 141.5,359.7 174.5,365.1 180.5,366.6 204.5,374.4 223.6,381.5 294.5,410.5 303.5,413.3 327.5,419.0 342.5,423.4 359.3,429.5 396.5,444.9 426.5,453.7 431.6,456.5 434.8,459.5 438.5,464.2 441.0,468.5 449.0,492.5 453.9,501.5 463.6,516.5 468.0,525.5 468.9,531.5 467.4,537.5 465.3,540.5 459.5,544.8 450.5,548.6 441.5,550.9 378.5,556.8 342.5,560.8 297.5,568.3 270.5,568.8 255.5,567.1 243.5,564.6 237.5,562.8 213.5,553.7 180.5,545.0 138.5,538.2 90.5,527.5Z"/>
<path fill="#8dff6a" d="M1395.5,353.2 1407.5,351.4 1407.5,530.3 1389.0,522.5 1377.9,516.5 1368.4,510.5 1353.0,498.5 1340.4,486.5 1332.7,477.5 1328.6,471.5 1320.5,454.0 1308.5,436.5 1305.8,429.5 1305.3,423.5 1306.0,417.5 1307.8,411.5 1310.5,405.5 1317.0,393.5 1326.5,380.8 1331.7,375.5 1335.5,372.5 1350.9,363.5 1359.5,359.9 1374.5,357.8ZM78.5,520.6 78.5,355.8 105.5,359.0 132.5,361.1 144.5,362.6 177.5,368.4 204.4,378.5 228.5,389.4 294.2,417.5 336.5,430.8 351.5,437.1 369.5,446.5 378.5,450.4 393.5,455.8 414.5,461.7 420.5,464.0 423.5,465.6 426.5,468.3 430.8,474.5 440.8,498.5 453.8,519.5 455.6,525.5 455.7,528.5 455.1,531.5 453.5,534.7 450.8,537.5 447.5,539.8 441.5,542.4 436.8,543.5 390.5,548.2 348.5,553.7 300.5,562.0 291.5,562.5 273.5,562.2 264.5,561.6 246.5,557.9 237.5,555.4 213.5,547.0 183.5,540.0 141.5,533.5Z"/>
<path fill="#b1ff46" d="M1398.0,357.5 1407.5,356.1 1407.5,524.8 1395.4,519.5 1380.4,510.5 1369.8,501.5 1364.6,495.5 1360.6,489.5 1357.9,483.5 1356.7,477.5 1357.8,471.5 1359.2,468.5 1361.2,465.5 1365.5,461.2 1382.5,450.5 1386.1,447.5 1387.4,444.5 1386.7,441.5 1383.3,438.5 1368.5,430.2 1353.5,417.9 1344.8,411.5 1341.8,408.5 1339.7,405.5 1338.5,402.5 1338.0,399.5 1338.8,393.5 1342.9,384.5 1347.6,378.5 1354.7,372.5 1359.2,369.5 1365.5,366.4 1384.8,360.5ZM78.5,516.0 78.5,360.0 81.5,360.1 141.5,364.5 177.5,370.8 201.5,380.9 219.5,391.2 234.5,398.3 293.2,423.5 321.5,433.7 333.1,438.5 349.9,447.5 366.5,459.2 372.5,462.7 381.5,466.5 404.6,474.5 411.5,478.2 414.5,480.9 418.7,486.5 435.9,516.5 438.2,522.5 438.4,525.5 437.5,528.5 435.2,531.5 432.5,533.2 429.4,534.5 423.5,535.7 375.5,541.5 300.5,555.8 291.5,556.3 273.5,556.0 264.5,555.3 246.5,551.6 237.5,549.1 216.5,541.8 207.5,539.6 180.5,534.3 144.5,528.9Z"/>
<path fill="#d1ff26" d="M1401.3,363.5 1407.5,362.3 1407.5,427.9 1386.5,419.7 1377.5,414.5 1374.0,411.5 1369.4,405.5 1368.0,402.5 1366.2,396.5 1366.1,390.5 1367.9,384.5 1371.8,378.5 1374.8,375.5 1378.7,372.5 1384.2,369.5 1391.5,366.5ZM78.5,435.1 78.5,364.3 81.5,364.2 126.5,365.6 141.5,366.6 174.5,372.3 189.7,378.5 201.5,384.5 216.5,395.5 225.5,400.7 240.5,407.4 308.2,435.5 318.5,440.2 326.4,444.5 330.9,447.5 337.6,453.5 339.9,456.5 342.6,462.5 343.2,465.5 342.8,471.5 340.9,477.5 336.8,486.5 336.6,489.5 338.2,492.5 342.3,495.5 348.6,498.5 357.5,502.4 363.5,504.3 369.5,504.8 387.5,504.3 396.5,506.0 399.9,507.5 404.0,510.5 406.4,513.5 407.3,516.5 405.8,519.5 402.5,521.0 397.4,522.5 378.5,524.7 372.5,526.1 344.9,537.5 324.0,543.5 306.5,547.7 297.5,549.2 276.5,549.7 264.5,549.0 249.5,546.0 239.9,543.5 216.5,535.5 207.5,533.5 180.5,528.8 144.5,523.6 78.5,511.3 78.5,456.0 87.5,454.2 93.5,451.3 97.2,447.5 97.8,444.5 96.4,441.5 92.6,438.5 84.5,435.6ZM1389.5,472.7 1407.5,465.6 1407.5,519.0 1396.7,513.5 1388.4,507.5 1382.7,501.5 1380.8,498.5 1378.7,492.5 1378.7,486.5 1379.5,483.5 1381.0,480.5 1383.2,477.5Z"/>
<path fill="#f4f802" d="M78.5,369.5 84.5,368.7 111.5,368.2 138.5,368.6 156.5,371.2 174.5,375.0 189.9,381.5 198.5,386.3 216.5,402.3 222.5,406.5 228.5,409.7 237.5,413.4 273.8,426.5 293.5,435.5 309.8,444.5 313.6,447.5 316.2,450.5 317.6,453.5 318.2,456.5 317.7,459.5 316.3,462.5 313.8,465.5 309.5,469.0 289.5,480.5 282.5,485.6 278.8,489.5 277.1,492.5 276.4,495.5 276.8,498.5 278.1,501.5 280.2,504.5 283.4,507.5 291.5,512.3 306.5,518.6 312.2,522.5 314.3,525.5 314.4,528.5 312.6,531.5 309.0,534.5 303.2,537.5 292.0,540.5 276.5,541.9 261.5,541.4 243.5,537.5 219.5,529.3 210.5,527.0 177.5,522.0 147.5,518.5 126.5,515.4 87.5,508.3 78.5,505.7 78.5,469.1 96.5,462.7 105.5,458.3 112.3,453.5 114.5,450.5 115.4,447.5 115.2,444.5 114.0,441.5 111.5,438.4 104.2,432.5 93.5,427.1 78.5,422.6ZM1404.4,372.5 1407.5,371.3 1407.5,414.5 1398.5,411.7 1391.8,408.5 1388.3,405.5 1386.0,402.5 1384.8,399.5 1384.3,396.5 1385.3,390.5 1389.5,383.3 1395.5,377.7ZM1402.2,480.5 1407.5,478.2 1407.5,512.5 1401.5,508.9 1396.6,504.5 1394.3,501.5 1392.8,498.5 1392.1,495.5 1392.1,492.5 1393.0,489.5 1394.7,486.5 1397.6,483.5Z"/>
<path fill="#ffd000" d="M100.6,372.5 120.5,371.2 138.5,371.2 156.5,373.7 174.5,378.1 189.5,384.9 198.2,390.5 206.1,399.5 216.5,414.4 219.5,417.7 222.5,419.9 228.5,422.2 252.5,426.5 264.5,429.6 272.2,432.5 284.5,438.5 289.1,441.5 292.5,444.5 294.9,447.5 296.2,450.5 296.1,453.5 294.7,456.5 291.9,459.5 285.5,464.1 276.5,469.3 255.5,478.2 249.5,482.6 246.5,486.9 245.4,492.5 246.6,498.5 250.1,504.5 263.1,519.5 264.9,522.5 265.3,525.5 264.5,526.6 261.5,528.6 258.5,529.0 252.5,528.6 240.5,525.5 225.5,520.4 216.5,518.2 150.5,513.4 117.5,509.2 108.1,507.5 90.5,502.9 86.1,501.5 80.8,498.5 78.5,496.0 78.5,482.7 80.5,480.5 87.5,476.1 108.5,468.1 119.6,462.5 123.7,459.5 126.6,456.5 128.3,453.5 129.2,450.5 129.2,447.5 127.0,441.5 124.9,438.5 118.2,432.5 109.1,426.5 102.5,422.9 78.5,412.7 78.5,375.7 84.5,374.3ZM1404.5,387.7 1407.5,384.4 1407.5,398.4 1404.9,396.5 1403.3,393.5 1403.3,390.5ZM1405.4,495.5 1407.5,492.0 1407.5,502.0 1405.5,498.5Z"/>
<path fill="#ffab00" d="M115.3,375.5 129.5,374.4 141.5,374.5 153.5,376.1 164.9,378.5 173.7,381.5 186.3,387.5 192.5,391.7 197.1,396.5 200.6,402.5 203.8,411.5 205.1,420.5 204.5,429.5 203.1,432.5 200.0,435.5 189.5,441.0 184.6,444.5 181.6,447.5 180.0,450.5 180.2,453.5 182.3,456.5 185.9,459.5 204.4,471.5 207.6,474.5 210.5,478.1 214.5,486.5 215.5,492.5 215.1,495.5 214.0,498.5 211.4,501.5 204.5,505.1 198.5,506.7 192.5,507.6 171.5,508.7 147.5,508.0 126.5,505.7 111.5,502.7 101.0,498.5 96.3,495.5 93.7,492.5 93.1,489.5 94.5,486.5 97.8,483.5 117.5,473.7 132.3,465.5 140.6,459.5 143.5,456.5 145.1,453.5 145.5,450.5 144.7,447.5 143.0,444.5 134.5,435.5 126.5,429.5 114.5,422.0 89.8,408.5 81.7,402.5 78.5,398.6 78.5,387.2 81.5,384.2 87.2,381.5 93.5,379.8ZM241.3,438.5 252.5,438.2 258.5,439.2 264.5,440.9 270.4,444.5 272.2,447.5 272.0,450.5 269.5,453.5 267.5,454.6 262.7,456.5 258.5,457.4 243.5,458.2 235.7,456.5 230.7,453.5 228.1,450.5 227.1,447.5 227.9,444.5 231.5,441.5Z"/>
<path fill="#ff8200" d="M117.0,381.5 129.5,379.1 141.5,378.6 159.5,380.9 170.5,384.5 181.2,390.5 185.1,393.5 187.9,396.5 189.8,399.5 191.9,405.5 192.2,408.5 191.6,414.5 190.5,417.5 186.5,423.0 182.3,426.5 174.5,431.0 168.5,433.4 162.5,434.8 156.5,435.1 150.5,434.1 144.5,431.6 124.1,420.5 114.8,414.5 102.2,405.5 97.1,399.5 96.2,396.5 96.5,393.5 98.6,390.5 102.9,387.5ZM145.6,471.5 153.5,470.4 159.5,470.8 168.5,472.6 177.5,476.2 183.5,480.2 186.6,483.5 188.4,486.5 189.2,489.5 188.8,492.5 186.8,495.5 180.5,499.2 170.2,501.5 156.5,502.2 141.5,501.5 126.5,499.3 123.4,498.5 117.0,495.5 114.6,492.5 114.8,489.5 116.8,486.5 124.2,480.5 135.5,474.6Z"/>
<path fill="#ff5900" d="M134.1,384.5 147.5,384.4 156.5,385.5 163.9,387.5 169.6,390.5 173.5,393.5 176.1,396.5 179.0,402.5 179.4,408.5 177.3,414.5 174.5,417.9 171.5,420.4 168.5,422.0 162.5,424.0 156.5,424.8 150.5,424.3 144.5,422.5 132.5,417.5 126.5,414.2 120.5,409.6 116.5,405.5 114.5,402.5 113.6,399.5 113.8,396.5 115.3,393.5 118.1,390.5 120.5,388.9 126.5,386.1Z"/>
<path fill="#ff3400" d="M131.9,393.5 138.5,392.0 144.5,392.0 150.5,392.5 156.5,394.0 160.6,396.5 163.4,399.5 164.9,402.5 165.2,405.5 164.3,408.5 161.9,411.5 159.5,412.8 153.5,414.2 147.5,413.5 138.5,410.7 132.5,407.1 130.6,405.5 128.4,402.5 127.8,399.5 128.7,396.5Z"/>
<use href="#coast"/></g>
<rect x="78.5" y="132.5" width="1331.0" height="656.0" fill="none" stroke="#000" stroke-width="3.3"/>
<text x="742.8" y="108.3" font-size="51.6" text-anchor="middle" textLength="1226.7" lengthAdjust="spacingAndGlyphs" xml:space="preserve">Ionosphere  (h=450.0 km), 2016-10-27 00:00 UT</text>
<rect x="78.50" y="831.5" width="56.06" height="66.0" fill="#000096"/>
<rect x="133.96" y="831.5" width="56.06" height="66.0" fill="#0000c8"/>
<rect x="189.42" y="831.5" width="56.06" height="66.0" fill="#0000f6"/>
<rect x="244.88" y="831.5" width="56.06" height="66.0" fill="#0014ff"/>
<rect x="300.33" y="831.5" width="56.06" height="66.0" fill="#0040ff"/>
<rect x="355.79" y="831.5" width="56.06" height="66.0" fill="#0068ff"/>
<rect x="411.25" y="831.5" width="56.06" height="66.0" fill="#0094ff"/>
<rect x="466.71" y="831.5" width="56.06" height="66.0" fill="#00c0ff"/>
<rect x="522.17" y="831.5" width="56.06" height="66.0" fill="#02e8f4"/>
<rect x="577.62" y="831.5" width="56.06" height="66.0" fill="#26ffd1"/>
<rect x="633.08" y="831.5" width="56.06" height="66.0" fill="#49ffad"/>
<rect x="688.54" y="831.5" width="56.06" height="66.0" fill="#6aff8d"/>
<rect x="744.00" y="831.5" width="56.06" height="66.0" fill="#8dff6a"/>
<rect x="799.46" y="831.5" width="56.06" height="66.0" fill="#b1ff46"/>
<rect x="854.92" y="831.5" width="56.06" height="66.0" fill="#d1ff26"/>
<rect x="910.38" y="831.5" width="56.06" height="66.0" fill="#f4f802"/>
<rect x="965.83" y="831.5" width="56.06" height="66.0" fill="#ffd000"/>
<rect x="1021.29" y="831.5" width="56.06" height="66.0" fill="#ffab00"/>
<rect x="1076.75" y="831.5" width="56.06" height="66.0" fill="#ff8200"/>
<rect x="1132.21" y="831.5" width="56.06" height="66.0" fill="#ff5900"/>
<rect x="1187.67" y="831.5" width="56.06" height="66.0" fill="#ff3400"/>
<rect x="1243.12" y="831.5" width="56.06" height="66.0" fill="#f60b00"/>
<rect x="1298.58" y="831.5" width="56.06" height="66.0" fill="#c40000"/>
<rect x="1354.04" y="831.5" width="55.46" height="66.0" fill="#960000"/>
<rect x="78.5" y="831.5" width="1331.0" height="66.0" fill="none" stroke="#000" stroke-width="3.3"/>
<line x1="78.5" y1="897.5" x2="78.5" y2="912.1" stroke="#000" stroke-width="3.3"/>
<text x="78.5" y="959.2" font-size="44.6" text-anchor="middle" textLength="65.5" lengthAdjust="spacingAndGlyphs">0.0</text>
<line x1="244.9" y1="897.5" x2="244.9" y2="912.1" stroke="#000" stroke-width="3.3"/>
<text x="244.9" y="959.2" font-size="44.6" text-anchor="middle" textLength="65.5" lengthAdjust="spacingAndGlyphs">7.5</text>
<line x1="411.2" y1="897.5" x2="411.2" y2="912.1" stroke="#000" stroke-width="3.3"/>
<text x="411.2" y="959.2" font-size="44.6" text-anchor="middle" textLength="91.0" lengthAdjust="spacingAndGlyphs">15.0</text>
<line x1="577.6" y1="897.5" x2="577.6" y2="912.1" stroke="#000" stroke-width="3.3"/>
<text x="577.6" y="959.2" font-size="44.6" text-anchor="middle" textLength="91.0" lengthAdjust="spacingAndGlyphs">22.5</text>
<line x1="744.0" y1="897.5" x2="744.0" y2="912.1" stroke="#000" stroke-width="3.3"/>
<text x="744.0" y="959.2" font-size="44.6" text-anchor="middle" textLength="91.0" lengthAdjust="spacingAndGlyphs">30.0</text>
<line x1="910.4" y1="897.5" x2="910.4" y2="912.1" stroke="#000" stroke-width="3.3"/>
<text x="910.4" y="959.2" font-size="44.6" text-anchor="middle" textLength="91.0" lengthAdjust="spacingAndGlyphs">37.5</text>
<line x1="1076.8" y1="897.5" x2="1076.8" y2="912.1" stroke="#000" stroke-width="3.3"/>
<text x="1076.8" y="959.2" font-size="44.6" text-anchor="middle" textLength="91.0" lengthAdjust="spacingAndGlyphs">45.0</text>
<line x1="1243.1" y1="897.5" x2="1243.1" y2="912.1" stroke="#000" stroke-width="3.3"/>
<text x="1243.1" y="959.2" font-size="44.6" text-anchor="middle" textLength="91.0" lengthAdjust="spacingAndGlyphs">52.5</text>
<line x1="1409.5" y1="897.5" x2="1409.5" y2="912.1" stroke="#000" stroke-width="3.3"/>
<text x="1409.5" y="959.2" font-size="44.6" text-anchor="middle" textLength="91.0" lengthAdjust="spacingAndGlyphs">60.0</text>
</g>
<g transform="translate(0,1970.0)">
<g clip-path="url(#ax)"><rect x="77.5" y="131.5" width="1333.0" height="658.0" fill="#0000df"/>
<path fill="#0080ff" d="M83.2,138.5 93.5,138.2 213.5,139.5 279.5,143.7 333.5,150.6 351.5,155.4 363.5,159.8 367.4,162.5 372.5,167.4 375.6,171.5 376.8,174.5 377.2,180.5 376.6,186.5 375.2,195.5 373.5,201.5 369.5,209.4 354.5,233.4 348.5,240.1 331.3,255.5 329.3,258.5 329.3,261.5 333.5,263.2 336.5,263.4 375.5,265.3 387.5,266.4 399.5,269.4 417.5,275.0 426.0,279.5 443.4,294.5 447.5,299.6 450.5,305.8 453.8,315.5 454.4,321.5 452.7,348.5 453.5,349.7 456.5,350.7 468.5,350.7 486.5,348.2 504.5,344.6 534.5,340.4 555.5,338.9 570.5,337.2 603.5,335.3 654.5,333.8 666.5,332.5 712.5,324.5 762.5,308.1 813.5,294.5 855.5,289.1 876.5,287.5 918.5,286.5 954.5,286.9 978.5,285.2 1014.5,284.5 1026.5,285.9 1068.5,293.9 1119.5,307.3 1164.5,317.8 1173.5,320.4 1185.5,325.9 1193.0,330.5 1197.5,334.6 1213.0,351.5 1227.5,365.8 1236.5,372.0 1242.5,374.3 1251.5,374.7 1272.5,373.4 1314.5,369.0 1362.5,368.0 1407.5,366.2 1407.5,560.3 1364.4,540.5 1342.3,534.5 1326.5,531.1 1302.5,529.6 1290.5,529.4 1194.5,535.9 1182.5,538.5 1160.0,546.5 1152.5,550.9 1131.5,565.3 1110.5,577.3 1101.5,581.2 1089.5,584.0 1068.5,587.8 1014.5,591.9 981.1,597.5 960.5,603.0 948.5,605.3 936.5,606.6 888.5,610.0 872.5,612.5 855.5,616.0 846.4,618.5 780.5,644.4 732.5,653.6 720.5,654.0 681.5,651.8 672.5,650.4 642.5,643.2 627.5,641.8 618.5,641.9 609.5,643.9 585.5,651.3 552.5,664.1 546.5,665.5 534.5,666.5 519.5,666.6 486.5,661.3 471.5,658.5 420.5,646.1 375.5,637.1 318.5,630.0 285.5,623.9 279.5,621.3 270.5,615.6 267.9,612.5 266.5,609.5 265.0,603.5 264.8,600.5 268.5,582.5 269.0,573.5 267.6,564.5 264.1,558.5 255.4,549.5 249.5,544.9 234.5,537.5 216.5,529.9 194.5,525.5 180.5,523.8 159.5,524.9 147.5,526.1 127.5,531.5 111.5,537.0 100.0,543.5 78.5,556.9 78.5,357.2 84.5,356.5 93.5,353.1 100.9,348.5 108.3,342.5 111.5,339.5 115.7,333.5 119.6,324.5 120.5,318.5 118.2,309.5 113.0,300.5 99.5,284.7 84.3,270.5 78.5,264.4 78.5,139.5ZM369.5,354.4 357.5,355.8 339.5,361.0 333.5,363.9 322.3,372.5 318.5,376.5 315.5,380.8 314.0,384.5 313.6,387.5 314.2,393.5 315.2,396.5 319.0,402.5 322.3,405.5 326.9,408.5 333.3,411.5 345.5,413.5 354.5,414.1 360.5,413.9 384.5,411.6 393.5,410.2 411.5,405.4 417.5,403.1 423.2,399.5 427.0,396.5 432.6,390.5 441.1,378.5 442.6,375.5 443.1,372.5 442.7,369.5 441.5,366.5 438.5,363.9 423.5,359.2 408.5,356.2 393.5,353.9ZM1359.5,146.2 1407.5,139.4 1407.5,248.7 1389.5,232.5 1371.5,217.3 1315.0,174.5 1309.2,168.5 1307.5,165.5 1307.0,162.5 1308.5,158.2 1311.5,155.6 1323.5,151.8ZM928.8,654.5 942.5,653.6 960.5,654.9 969.5,657.4 981.5,663.0 987.3,666.5 995.3,672.5 1001.1,678.5 1002.7,681.5 1004.0,687.5 1002.5,693.5 999.5,698.0 996.5,700.9 987.7,705.5 979.5,708.5 969.5,711.2 960.5,712.9 954.5,713.4 933.5,712.8 912.5,710.0 906.5,708.2 893.3,702.5 888.5,699.8 885.5,697.0 880.9,690.5 879.7,687.5 879.4,684.5 880.0,681.5 882.8,675.5 887.5,669.5 897.5,663.5 909.5,658.2 915.5,656.6Z"/>
<path fill="#36ffc1" d="M552.2,366.5 567.5,366.6 591.5,370.4 627.5,383.4 639.5,386.7 645.5,387.6 657.5,388.1 663.5,387.7 687.5,381.5 696.5,379.7 711.5,378.8 720.5,379.7 733.1,384.5 744.3,390.5 760.8,405.5 774.5,420.3 780.5,425.5 786.5,429.1 792.5,431.8 801.5,432.8 810.5,432.3 816.5,431.0 828.5,426.3 837.5,421.9 843.9,417.5 858.3,405.5 879.5,385.1 885.5,381.9 894.5,378.8 900.5,377.4 906.5,377.3 930.5,379.7 941.3,381.5 960.5,386.4 966.5,387.3 975.5,385.0 1004.6,372.5 1011.5,370.1 1029.5,367.1 1038.5,367.3 1048.2,369.5 1056.5,372.8 1067.1,381.5 1071.5,386.3 1074.2,390.5 1081.1,408.5 1084.5,420.5 1089.2,447.5 1089.9,456.5 1089.5,462.5 1087.4,468.5 1083.9,474.5 1080.5,478.3 1074.5,483.6 1070.4,486.5 1065.5,488.7 1038.5,495.7 1029.5,500.3 1011.5,513.4 987.5,536.8 974.4,546.5 966.5,550.8 961.4,552.5 947.7,555.5 936.5,557.2 927.5,556.6 903.5,552.6 867.5,544.7 858.5,544.6 834.5,546.0 828.5,545.3 819.5,542.6 815.6,540.5 812.5,537.5 810.4,534.5 805.1,525.5 791.4,498.5 786.5,491.7 780.5,485.1 774.5,479.9 771.5,478.5 762.5,477.4 756.5,477.9 747.5,481.0 738.5,485.2 735.5,487.0 729.5,492.3 711.9,510.5 696.4,534.5 691.7,540.5 682.9,549.5 675.5,554.8 657.5,561.1 621.5,565.7 603.5,570.5 594.5,574.7 579.5,585.1 567.5,589.8 542.9,606.5 528.5,614.1 522.5,616.5 516.5,618.0 495.5,620.7 489.5,620.5 483.5,619.5 456.5,613.2 424.5,600.5 399.5,588.7 384.5,584.3 381.5,582.5 368.3,570.5 351.5,557.9 345.4,552.5 339.5,546.5 324.5,529.4 300.5,506.8 285.5,495.9 279.5,493.8 270.5,493.0 261.5,493.1 195.5,500.3 129.5,510.4 87.3,519.5 78.5,521.9 78.5,380.3 108.5,375.7 114.5,375.3 141.5,377.9 150.5,380.4 171.5,391.8 183.5,399.1 216.5,425.2 255.5,452.4 270.5,461.3 276.5,463.0 279.5,463.2 288.5,462.1 307.7,456.5 369.5,440.3 405.5,433.1 417.5,429.9 432.5,424.1 447.5,415.3 457.3,408.5 480.5,388.8 492.5,381.1 501.5,376.2 513.5,372.1 525.5,369.0 537.5,367.5ZM1381.2,390.5 1407.5,389.8 1407.5,497.7 1386.5,501.1 1365.5,502.5 1356.5,501.8 1332.5,497.3 1323.5,494.1 1298.7,480.5 1285.4,471.5 1273.7,462.5 1272.0,459.5 1271.5,453.5 1273.2,438.5 1274.6,432.5 1277.2,426.5 1282.4,417.5 1287.3,411.5 1291.3,408.5 1307.2,399.5 1311.5,397.8 1317.1,396.5 1344.5,392.5Z"/>
<path fill="#c1ff36" d="M540.6,390.5 549.5,390.5 564.5,393.5 570.5,396.2 574.8,399.5 580.6,405.5 582.5,409.0 584.5,417.5 584.6,426.5 581.8,438.5 578.6,447.5 560.5,477.5 545.5,498.5 525.0,531.5 522.0,540.5 519.5,556.8 518.6,558.5 515.7,561.5 513.5,563.0 507.5,566.0 501.5,567.6 489.5,568.7 482.0,567.5 471.5,562.4 453.5,552.4 444.5,548.4 426.5,541.9 408.5,536.9 381.5,528.0 376.8,525.5 369.5,519.2 363.5,512.9 360.5,508.9 357.5,503.0 354.6,495.5 354.1,489.5 357.3,480.5 360.2,477.5 363.5,475.1 372.5,470.2 381.5,467.2 390.5,464.8 408.5,461.3 429.5,455.4 435.5,453.1 447.5,446.1 456.5,439.8 479.7,417.5 492.5,407.5 501.5,401.4 510.5,397.4 522.5,393.2ZM78.5,398.0 105.5,394.7 114.5,394.8 141.5,402.5 147.5,404.9 153.5,408.5 177.5,425.2 181.8,429.5 191.8,441.5 195.8,447.5 198.9,456.5 199.2,459.5 198.6,462.5 196.8,465.5 190.0,471.5 177.5,479.4 165.5,484.4 147.5,490.9 111.5,498.3 78.5,502.6ZM1383.5,410.1 1407.5,407.9 1407.5,484.7 1395.5,486.4 1389.5,486.6 1377.5,486.1 1368.5,484.5 1357.3,480.5 1344.5,475.0 1329.5,465.8 1320.5,461.1 1317.5,458.4 1316.7,456.5 1316.2,450.5 1317.2,444.5 1318.4,441.5 1320.5,437.9 1326.5,430.3 1332.5,425.0 1341.4,420.5 1356.5,414.8Z"/>
<path fill="#ff9400" d="M84.5,416.1 108.5,413.3 114.5,413.8 132.5,419.1 138.5,421.5 141.5,423.4 151.3,432.5 156.4,438.5 158.2,441.5 161.7,450.5 163.1,456.5 163.1,459.5 161.9,462.5 159.0,465.5 154.6,468.5 142.6,474.5 134.0,477.5 117.5,481.9 111.5,483.0 105.5,483.3 87.5,483.0 78.5,482.0 78.5,417.6ZM516.5,429.5 522.5,427.6 525.5,427.3 531.5,428.0 534.5,429.3 537.5,431.9 539.4,435.5 540.2,441.5 539.6,444.5 537.0,450.5 534.5,454.0 531.5,456.9 525.5,460.7 519.5,463.0 513.5,464.0 510.5,463.9 506.4,462.5 503.1,459.5 501.6,456.5 501.0,453.5 501.2,447.5 503.3,441.5 507.5,435.7 511.3,432.5ZM1399.1,432.5 1407.5,429.5 1407.5,469.5 1398.5,469.0 1392.5,467.3 1388.5,465.5 1384.3,462.5 1382.1,459.5 1381.5,456.5 1382.3,450.5 1385.5,444.5 1391.0,438.5 1394.5,435.5Z"/>
<path fill="#df0000" d="M97.4,441.5 102.5,439.9 105.5,439.6 111.5,439.7 117.5,441.3 121.1,444.5 122.4,447.5 122.4,450.5 120.5,454.0 117.6,456.5 114.5,457.7 111.5,458.4 105.5,458.6 99.5,457.6 96.5,456.3 93.5,453.6 92.1,450.5 92.2,447.5 93.5,444.8Z"/>
<use href="#coast"/></g>
<rect x="78.5" y="132.5" width="1331.0" height="656.0" fill="none" stroke="#000" stroke-width="3.3"/>
<text x="742.8" y="108.3" font-size="51.6" text-anchor="middle" textLength="1315.1" lengthAdjust="spacingAndGlyphs" xml:space="preserve">Plasmasphere (h=1500.0 km), 2016-10-27 00:00 UT</text>
<rect x="78.50" y="831.5" width="222.43" height="66.0" fill="#0000df"/>
<rect x="300.33" y="831.5" width="222.43" height="66.0" fill="#0080ff"/>
<rect x="522.17" y="831.5" width="222.43" height="66.0" fill="#36ffc1"/>
<rect x="744.00" y="831.5" width="222.43" height="66.0" fill="#c1ff36"/>
<rect x="965.83" y="831.5" width="222.43" height="66.0" fill="#ff9400"/>
<rect x="1187.67" y="831.5" width="221.83" height="66.0" fill="#df0000"/>
<rect x="78.5" y="831.5" width="1331.0" height="66.0" fill="none" stroke="#000" stroke-width="3.3"/>
<line x1="78.5" y1="897.5" x2="78.5" y2="912.1" stroke="#000" stroke-width="3.3"/>
<text x="78.5" y="959.2" font-size="44.6" text-anchor="middle" textLength="65.5" lengthAdjust="spacingAndGlyphs">0.0</text>
<line x1="300.3" y1="897.5" x2="300.3" y2="912.1" stroke="#000" stroke-width="3.3"/>
<text x="300.3" y="959.2" font-size="44.6" text-anchor="middle" textLength="65.5" lengthAdjust="spacingAndGlyphs">2.5</text>
<line x1="522.2" y1="897.5" x2="522.2" y2="912.1" stroke="#000" stroke-width="3.3"/>
<text x="522.2" y="959.2" font-size="44.6" text-anchor="middle" textLength="65.5" lengthAdjust="spacingAndGlyphs">5.0</text>
<line x1="744.0" y1="897.5" x2="744.0" y2="912.1" stroke="#000" stroke-width="3.3"/>
<text x="744.0" y="959.2" font-size="44.6" text-anchor="middle" textLength="65.5" lengthAdjust="spacingAndGlyphs">7.5</text>
<line x1="965.8" y1="897.5" x2="965.8" y2="912.1" stroke="#000" stroke-width="3.3"/>
<text x="965.8" y="959.2" font-size="44.6" text-anchor="middle" textLength="91.0" lengthAdjust="spacingAndGlyphs">10.0</text>
<line x1="1187.7" y1="897.5" x2="1187.7" y2="912.1" stroke="#000" stroke-width="3.3"/>
<text x="1187.7" y="959.2" font-size="44.6" text-anchor="middle" textLength="91.0" lengthAdjust="spacingAndGlyphs">12.5</text>
<line x1="1409.5" y1="897.5" x2="1409.5" y2="912.1" stroke="#000" stroke-width="3.3"/>
<text x="1409.5" y="959.2" font-size="44.6" text-anchor="middle" textLength="91.0" lengthAdjust="spacingAndGlyphs">15.0</text>
</g>
</svg></body></html>
